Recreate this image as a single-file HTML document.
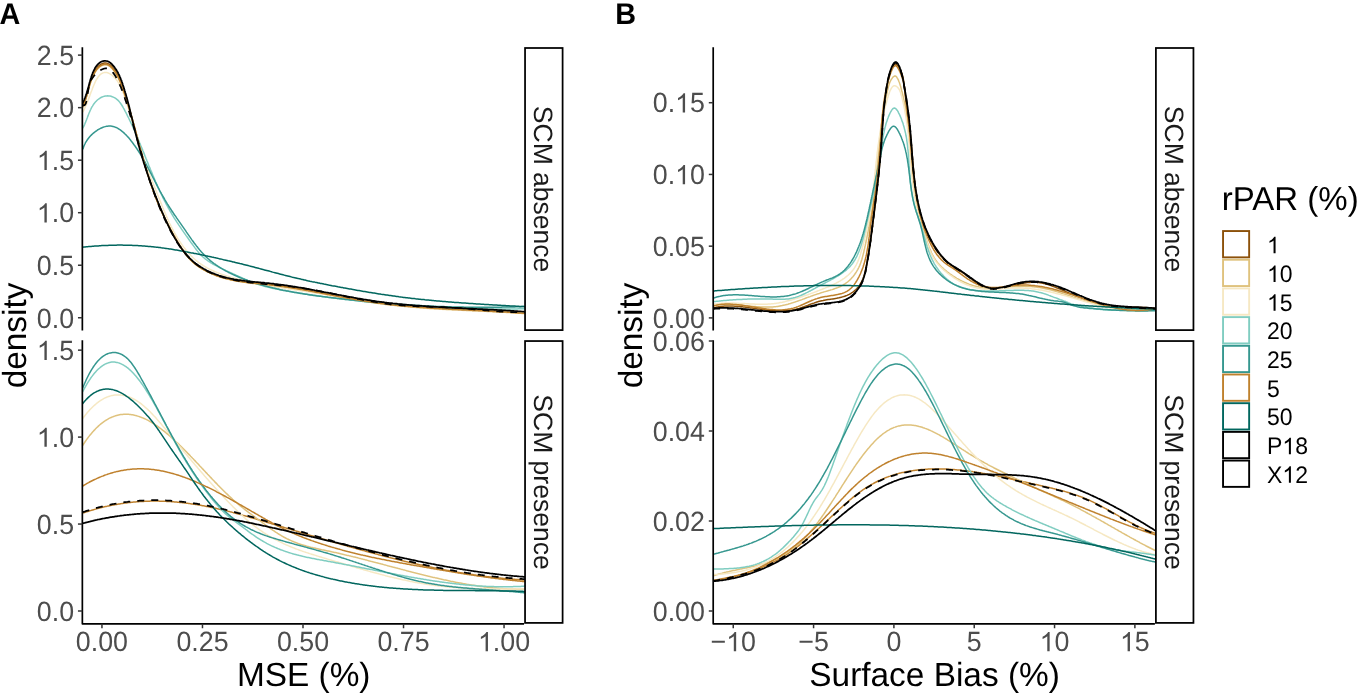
<!DOCTYPE html>
<html><head><meta charset="utf-8"><style>html,body{margin:0;padding:0;background:#fff;}svg{display:block;font-family:"Liberation Sans", sans-serif;will-change:transform;text-rendering:geometricPrecision;}</style></head><body>
<svg width="1358" height="693" viewBox="0 0 1358 693" font-family='"Liberation Sans", sans-serif'>
<rect width="1358" height="693" fill="#fff"/>
<clipPath id="ctA"><rect x="82.35" y="48.00" width="442.70" height="282.10"/></clipPath>
<clipPath id="cbA"><rect x="82.35" y="341.05" width="442.70" height="281.85"/></clipPath>
<g clip-path="url(#ctA)" fill="none" stroke-linejoin="round" stroke-linecap="butt">
<path d="M81.9,107.0 82.5,105.8 83.1,104.5 83.6,103.3 84.1,102.2 84.5,101.1 85.0,100.0 85.3,98.9 85.7,97.8 86.0,96.8 86.4,95.7 86.7,94.7 87.0,93.6 87.3,92.6 87.6,91.5 87.8,90.4 88.1,89.3 88.4,88.2 88.7,87.1 89.1,85.9 89.4,84.7 89.8,83.5 90.1,82.2 90.5,81.0 90.9,79.7 91.4,78.5 91.8,77.2 92.3,76.0 92.8,74.8 93.4,73.6 94.0,72.5 94.6,71.4 95.2,70.3 95.9,69.3 96.6,68.3 97.3,67.4 98.1,66.6 98.9,65.8 99.7,65.1 100.6,64.5 101.5,64.0 102.5,63.6 103.4,63.3 104.4,63.1 105.4,63.1 106.4,63.1 107.4,63.4 108.3,63.8 109.3,64.3 110.3,65.0 111.2,65.8 112.1,66.7 112.9,67.7 113.8,68.7 114.5,69.7 115.2,70.7 115.9,71.8 116.6,72.8 117.2,73.9 117.8,75.0 118.3,76.1 118.8,77.2 119.3,78.3 119.8,79.4 120.2,80.5 120.7,81.6 121.1,82.7 121.5,83.9 121.9,85.0 122.3,86.1 122.7,87.3 123.1,88.4 123.4,89.6 123.8,90.7 124.2,91.8 124.6,93.0 124.9,94.1 125.3,95.3 125.7,96.4 126.0,97.5 126.4,98.7 126.7,99.8 127.1,101.0 127.4,102.1 127.8,103.3 128.1,104.4 128.5,105.6 128.8,106.7 129.1,107.9 129.5,109.0 129.8,110.2 130.1,111.3 130.5,112.5 130.8,113.7 131.1,114.8 131.5,116.0 131.8,117.1 132.1,118.3 132.4,119.4 132.7,120.6 133.1,121.8 133.4,122.9 133.7,124.1 134.0,125.2 134.3,126.4 134.6,127.5 135.0,128.7 135.3,129.9 135.6,131.0 135.9,132.2 136.2,133.3 136.5,134.5 136.8,135.7 137.1,136.8 137.5,138.0 137.8,139.1 138.1,140.3 138.4,141.5 138.7,142.6 139.0,143.8 139.3,144.9 139.7,146.1 140.0,147.3 140.3,148.4 140.6,149.6 140.9,150.7 141.3,151.9 141.6,153.0 141.9,154.2 142.2,155.3 142.5,156.5 142.9,157.7 143.2,158.8 143.5,160.0 143.9,161.1 144.2,162.3 144.5,163.4 144.9,164.6 145.2,165.7 145.5,166.9 145.9,168.0 146.2,169.2 146.6,170.3 146.9,171.5 147.3,172.6 147.6,173.7 148.0,174.9 148.4,176.0 148.7,177.2 149.1,178.3 149.5,179.4 149.8,180.6 150.2,181.7 150.6,182.8 151.0,184.0 151.4,185.1 151.7,186.2 152.1,187.4 152.5,188.5 152.9,189.6 153.3,190.8 153.8,191.9 154.2,193.0 154.6,194.1 155.0,195.2 155.4,196.4 155.9,197.5 156.3,198.6 156.7,199.7 157.2,200.8 157.6,201.9 158.1,203.0 158.5,204.1 159.0,205.3 159.5,206.4 159.9,207.5 160.4,208.6 160.9,209.7 161.4,210.7 161.9,211.8 162.4,212.9 162.9,214.0 163.4,215.1 163.9,216.2 164.4,217.3 164.9,218.4 165.5,219.5 166.0,220.5 166.5,221.6 167.1,222.7 167.6,223.8 168.2,224.8 168.7,225.9 169.3,227.0 169.9,228.0 170.4,229.1 171.0,230.2 171.6,231.2 172.1,232.3 172.7,233.3 173.3,234.4 173.9,235.5 174.5,236.5 175.1,237.6 175.7,238.6 176.3,239.7 176.9,240.7 177.5,241.7 178.1,242.8 178.8,243.8 179.4,244.8 180.0,245.9 180.7,246.9 181.3,247.9 182.0,248.9 182.7,249.9 183.3,250.8 184.0,251.8 184.7,252.8 185.5,253.7 186.2,254.6 186.9,255.6 187.7,256.5 188.5,257.4 189.3,258.2 190.1,259.1 190.9,259.9 191.8,260.7 192.6,261.5 193.5,262.3 194.4,263.1 195.3,263.8 196.3,264.6 197.2,265.3 198.2,266.0 199.1,266.7 200.1,267.3 201.1,268.0 202.2,268.6 203.2,269.2 204.2,269.8 205.3,270.4 206.4,270.9 207.4,271.5 208.5,272.0 209.6,272.5 210.7,273.0 211.9,273.5 213.0,274.0 214.1,274.4 215.2,274.9 216.4,275.3 217.5,275.7 218.7,276.1 219.9,276.5 221.0,276.9 222.2,277.2 223.4,277.6 224.6,277.9 225.7,278.2 226.9,278.5 228.1,278.8 229.3,279.1 230.5,279.4 231.6,279.6 232.8,279.9 234.0,280.1 235.2,280.3 236.4,280.6 237.6,280.8 238.7,281.0 239.9,281.2 241.1,281.3 242.3,281.5 243.5,281.7 244.7,281.8 245.8,282.0 247.0,282.2 248.2,282.3 249.4,282.4 250.6,282.6 251.8,282.7 252.9,282.8 254.1,283.0 255.3,283.1 256.5,283.2 257.7,283.3 258.9,283.4 260.0,283.6 261.2,283.7 262.4,283.8 263.6,283.9 264.8,284.0 266.0,284.2 267.1,284.3 268.3,284.4 269.5,284.5 270.7,284.7 271.9,284.8 273.1,285.0 274.2,285.1 275.4,285.2 276.6,285.4 277.8,285.6 279.0,285.7 280.2,285.9 281.3,286.0 282.5,286.2 283.7,286.4 284.9,286.5 286.1,286.7 287.3,286.9 288.4,287.1 289.6,287.3 290.8,287.4 292.0,287.6 293.2,287.8 294.4,288.0 295.5,288.2 296.7,288.4 297.9,288.6 299.1,288.8 300.3,289.0 301.5,289.2 302.6,289.4 303.8,289.6 305.0,289.9 306.2,290.1 307.4,290.3 308.6,290.5 309.7,290.7 310.9,290.9 312.1,291.1 313.3,291.4 314.5,291.6 315.7,291.8 316.8,292.0 318.0,292.2 319.2,292.5 320.4,292.7 321.6,292.9 322.8,293.1 324.0,293.4 325.1,293.6 326.3,293.8 327.5,294.1 328.7,294.3 329.9,294.5 331.1,294.7 332.2,295.0 333.4,295.2 334.6,295.4 335.8,295.6 337.0,295.9 338.2,296.1 339.4,296.3 340.5,296.5 341.7,296.8 342.9,297.0 344.1,297.2 345.3,297.4 346.5,297.6 347.6,297.8 348.8,298.1 350.0,298.3 351.2,298.5 352.4,298.7 353.6,298.9 354.8,299.1 355.9,299.3 357.1,299.5 358.3,299.7 359.5,299.9 360.7,300.1 361.9,300.3 363.1,300.5 364.2,300.7 365.4,300.9 366.6,301.1 367.8,301.3 369.0,301.5 370.2,301.7 371.4,301.8 372.6,302.0 373.7,302.2 374.9,302.4 376.1,302.5 377.3,302.7 378.5,302.9 379.7,303.0 380.9,303.2 382.0,303.3 383.2,303.5 384.4,303.6 385.6,303.8 386.8,303.9 388.0,304.1 389.2,304.2 390.4,304.3 391.6,304.5 392.7,304.6 393.9,304.7 395.1,304.9 396.3,305.0 397.5,305.1 398.7,305.2 399.9,305.4 401.1,305.5 402.3,305.6 403.4,305.7 404.6,305.8 405.8,305.9 407.0,306.0 408.2,306.1 409.4,306.2 410.6,306.3 411.8,306.4 413.0,306.5 414.2,306.6 415.3,306.7 416.5,306.8 417.7,306.9 418.9,307.0 420.1,307.1 421.3,307.2 422.5,307.3 423.7,307.4 424.9,307.4 426.1,307.5 427.3,307.6 428.4,307.7 429.6,307.8 430.8,307.8 432.0,307.9 433.2,308.0 434.4,308.1 435.6,308.1 436.8,308.2 438.0,308.3 439.2,308.4 440.4,308.4 441.6,308.5 442.8,308.6 444.0,308.6 445.2,308.7 446.3,308.8 447.5,308.8 448.7,308.9 449.9,309.0 451.1,309.0 452.3,309.1 453.5,309.1 454.7,309.2 455.9,309.3 457.1,309.3 458.3,309.4 459.5,309.4 460.7,309.5 461.9,309.6 463.1,309.6 464.3,309.7 465.5,309.7 466.7,309.8 467.9,309.8 469.1,309.9 470.3,310.0 471.5,310.0 472.7,310.1 473.9,310.1 475.1,310.2 476.3,310.2 477.5,310.3 478.7,310.4 479.9,310.4 481.1,310.5 482.3,310.5 483.5,310.6 484.7,310.6 485.9,310.7 487.1,310.8 488.3,310.8 489.5,310.9 490.7,310.9 491.9,311.0 493.1,311.1 494.3,311.1 495.5,311.2 496.7,311.3 497.9,311.3 499.1,311.4 500.3,311.5 501.5,311.5 502.7,311.6 503.9,311.7 505.1,311.7 506.3,311.8 507.5,311.9 508.7,311.9 509.9,312.0 511.1,312.1 512.3,312.2 513.5,312.2 514.7,312.3 515.9,312.4 517.1,312.5 518.3,312.6 519.5,312.7 520.8,312.7 522.0,312.8 523.2,312.9 524.4,313.0 525.6,313.1" stroke="#8C510A" stroke-width="1.5"/>
<path d="M81.9,108.8 82.5,107.6 83.1,106.3 83.6,105.2 84.1,104.0 84.5,102.9 84.9,101.8 85.3,100.7 85.7,99.6 86.0,98.6 86.3,97.5 86.6,96.5 86.9,95.4 87.2,94.4 87.5,93.3 87.8,92.2 88.1,91.1 88.4,90.0 88.7,88.8 89.0,87.7 89.4,86.5 89.7,85.3 90.1,84.0 90.5,82.8 90.9,81.5 91.4,80.3 91.9,79.0 92.3,77.8 92.9,76.6 93.4,75.4 94.0,74.3 94.6,73.2 95.2,72.1 95.9,71.1 96.6,70.1 97.3,69.2 98.1,68.4 98.9,67.6 99.7,66.9 100.6,66.3 101.5,65.8 102.5,65.4 103.4,65.1 104.4,64.9 105.4,64.8 106.3,64.9 107.3,65.1 108.3,65.5 109.3,66.0 110.2,66.7 111.1,67.6 112.0,68.5 112.9,69.5 113.7,70.5 114.4,71.5 115.2,72.5 115.9,73.6 116.5,74.7 117.1,75.7 117.7,76.8 118.2,77.9 118.8,79.0 119.3,80.1 119.7,81.2 120.2,82.3 120.7,83.4 121.1,84.6 121.5,85.7 121.9,86.8 122.3,87.9 122.7,89.1 123.1,90.2 123.5,91.3 123.9,92.5 124.3,93.6 124.6,94.7 125.0,95.9 125.4,97.0 125.8,98.2 126.1,99.3 126.5,100.4 126.9,101.6 127.2,102.7 127.6,103.9 127.9,105.0 128.3,106.2 128.6,107.3 129.0,108.5 129.3,109.6 129.7,110.8 130.0,111.9 130.3,113.1 130.7,114.2 131.0,115.4 131.4,116.5 131.7,117.7 132.0,118.8 132.3,120.0 132.7,121.1 133.0,122.3 133.3,123.4 133.6,124.6 134.0,125.8 134.3,126.9 134.6,128.1 134.9,129.2 135.2,130.4 135.6,131.5 135.9,132.7 136.2,133.9 136.5,135.0 136.8,136.2 137.2,137.3 137.5,138.5 137.8,139.6 138.1,140.8 138.4,142.0 138.7,143.1 139.1,144.3 139.4,145.4 139.7,146.6 140.0,147.8 140.3,148.9 140.7,150.1 141.0,151.2 141.3,152.4 141.6,153.5 141.9,154.7 142.3,155.8 142.6,157.0 142.9,158.1 143.3,159.3 143.6,160.5 143.9,161.6 144.3,162.8 144.6,163.9 144.9,165.1 145.3,166.2 145.6,167.4 146.0,168.5 146.3,169.6 146.6,170.8 147.0,171.9 147.4,173.1 147.7,174.2 148.1,175.4 148.4,176.5 148.8,177.7 149.2,178.8 149.5,179.9 149.9,181.1 150.3,182.2 150.7,183.3 151.0,184.5 151.4,185.6 151.8,186.7 152.2,187.9 152.6,189.0 153.0,190.1 153.4,191.2 153.8,192.4 154.2,193.5 154.7,194.6 155.1,195.7 155.5,196.8 155.9,198.0 156.4,199.1 156.8,200.2 157.2,201.3 157.7,202.4 158.1,203.5 158.6,204.6 159.1,205.7 159.5,206.8 160.0,207.9 160.5,209.0 161.0,210.1 161.4,211.2 161.9,212.3 162.4,213.4 162.9,214.5 163.4,215.6 164.0,216.7 164.5,217.8 165.0,218.9 165.5,219.9 166.1,221.0 166.6,222.1 167.1,223.2 167.7,224.2 168.2,225.3 168.8,226.4 169.3,227.5 169.9,228.5 170.5,229.6 171.0,230.6 171.6,231.7 172.2,232.8 172.8,233.8 173.4,234.9 174.0,235.9 174.5,237.0 175.1,238.0 175.7,239.1 176.3,240.1 177.0,241.2 177.6,242.2 178.2,243.2 178.8,244.3 179.4,245.3 180.1,246.3 180.7,247.3 181.4,248.3 182.0,249.3 182.7,250.3 183.4,251.3 184.1,252.3 184.8,253.2 185.5,254.2 186.3,255.1 187.0,256.0 187.8,256.9 188.6,257.8 189.4,258.7 190.2,259.5 191.0,260.4 191.9,261.2 192.7,262.0 193.6,262.8 194.5,263.5 195.4,264.3 196.4,265.0 197.3,265.7 198.3,266.4 199.2,267.1 200.2,267.7 201.3,268.4 202.3,269.0 203.3,269.6 204.3,270.2 205.4,270.8 206.5,271.3 207.6,271.9 208.6,272.4 209.7,272.9 210.8,273.4 212.0,273.9 213.1,274.4 214.2,274.8 215.4,275.3 216.5,275.7 217.6,276.1 218.8,276.5 220.0,276.9 221.1,277.3 222.3,277.7 223.5,278.0 224.6,278.3 225.8,278.7 227.0,279.0 228.2,279.3 229.4,279.5 230.5,279.8 231.7,280.1 232.9,280.3 234.1,280.6 235.3,280.8 236.5,281.0 237.6,281.2 238.8,281.4 240.0,281.6 241.2,281.8 242.4,282.0 243.6,282.2 244.7,282.3 245.9,282.5 247.1,282.7 248.3,282.8 249.5,283.0 250.6,283.1 251.8,283.2 253.0,283.4 254.2,283.5 255.4,283.6 256.6,283.8 257.7,283.9 258.9,284.0 260.1,284.1 261.3,284.2 262.5,284.4 263.7,284.5 264.8,284.6 266.0,284.7 267.2,284.9 268.4,285.0 269.6,285.1 270.8,285.3 271.9,285.4 273.1,285.5 274.3,285.7 275.5,285.8 276.7,286.0 277.9,286.2 279.0,286.3 280.2,286.5 281.4,286.6 282.6,286.8 283.8,287.0 284.9,287.2 286.1,287.3 287.3,287.5 288.5,287.7 289.7,287.9 290.9,288.1 292.0,288.3 293.2,288.5 294.4,288.6 295.6,288.8 296.8,289.0 298.0,289.2 299.1,289.4 300.3,289.7 301.5,289.9 302.7,290.1 303.9,290.3 305.1,290.5 306.2,290.7 307.4,290.9 308.6,291.1 309.8,291.3 311.0,291.6 312.2,291.8 313.3,292.0 314.5,292.2 315.7,292.4 316.9,292.7 318.1,292.9 319.3,293.1 320.4,293.3 321.6,293.6 322.8,293.8 324.0,294.0 325.2,294.2 326.4,294.5 327.5,294.7 328.7,294.9 329.9,295.1 331.1,295.4 332.3,295.6 333.5,295.8 334.7,296.0 335.8,296.3 337.0,296.5 338.2,296.7 339.4,296.9 340.6,297.1 341.8,297.4 342.9,297.6 344.1,297.8 345.3,298.0 346.5,298.2 347.7,298.5 348.9,298.7 350.1,298.9 351.2,299.1 352.4,299.3 353.6,299.5 354.8,299.7 356.0,299.9 357.2,300.1 358.4,300.3 359.5,300.5 360.7,300.7 361.9,300.9 363.1,301.1 364.3,301.3 365.5,301.5 366.7,301.7 367.8,301.9 369.0,302.1 370.2,302.3 371.4,302.4 372.6,302.6 373.8,302.8 375.0,303.0 376.1,303.1 377.3,303.3 378.5,303.4 379.7,303.6 380.9,303.8 382.1,303.9 383.3,304.1 384.5,304.2 385.6,304.4 386.8,304.5 388.0,304.6 389.2,304.8 390.4,304.9 391.6,305.1 392.8,305.2 394.0,305.3 395.1,305.5 396.3,305.6 397.5,305.7 398.7,305.8 399.9,305.9 401.1,306.1 402.3,306.2 403.5,306.3 404.7,306.4 405.8,306.5 407.0,306.6 408.2,306.7 409.4,306.8 410.6,306.9 411.8,307.0 413.0,307.1 414.2,307.2 415.4,307.3 416.6,307.4 417.7,307.5 418.9,307.6 420.1,307.7 421.3,307.8 422.5,307.9 423.7,308.0 424.9,308.0 426.1,308.1 427.3,308.2 428.5,308.3 429.7,308.4 430.9,308.4 432.0,308.5 433.2,308.6 434.4,308.7 435.6,308.7 436.8,308.8 438.0,308.9 439.2,309.0 440.4,309.0 441.6,309.1 442.8,309.2 444.0,309.2 445.2,309.3 446.4,309.4 447.6,309.4 448.8,309.5 449.9,309.6 451.1,309.6 452.3,309.7 453.5,309.7 454.7,309.8 455.9,309.9 457.1,309.9 458.3,310.0 459.5,310.0 460.7,310.1 461.9,310.2 463.1,310.2 464.3,310.3 465.5,310.3 466.7,310.4 467.9,310.4 469.1,310.5 470.3,310.6 471.5,310.6 472.7,310.7 473.9,310.7 475.1,310.8 476.3,310.9 477.5,310.9 478.7,311.0 479.9,311.0 481.1,311.1 482.3,311.1 483.5,311.2 484.7,311.3 485.9,311.3 487.1,311.4 488.3,311.4 489.5,311.5 490.7,311.6 491.9,311.6 493.1,311.7 494.3,311.7 495.5,311.8 496.7,311.9 497.9,311.9 499.1,312.0 500.3,312.1 501.5,312.1 502.7,312.2 503.9,312.3 505.1,312.3 506.3,312.4 507.5,312.5 508.7,312.6 509.9,312.6 511.1,312.7 512.3,312.8 513.5,312.9 514.7,312.9 515.9,313.0 517.1,313.1 518.3,313.2 519.5,313.3 520.8,313.3 522.0,313.4 523.2,313.5 524.4,313.6 525.6,313.7" stroke="#DFC27D" stroke-width="1.5"/>
<path d="M82.8,112.2 83.4,111.0 84.0,109.9 84.5,108.7 85.0,107.6 85.5,106.5 86.0,105.5 86.5,104.4 86.9,103.3 87.3,102.3 87.7,101.2 88.1,100.2 88.5,99.2 88.9,98.1 89.3,97.1 89.7,96.0 90.0,95.0 90.4,93.9 90.8,92.8 91.2,91.7 91.7,90.6 92.1,89.5 92.5,88.3 93.0,87.1 93.5,85.9 94.0,84.7 94.6,83.4 95.1,82.2 95.7,80.9 96.4,79.7 97.1,78.6 97.8,77.5 98.5,76.4 99.4,75.5 100.2,74.6 101.1,73.9 102.1,73.3 103.1,72.9 104.1,72.6 105.1,72.4 106.1,72.4 107.2,72.6 108.2,73.0 109.2,73.4 110.1,74.0 111.1,74.6 112.0,75.2 112.8,75.9 113.6,76.6 114.4,77.4 115.2,78.2 115.9,79.1 116.6,80.0 117.3,80.9 117.9,81.9 118.6,82.8 119.2,83.9 119.7,84.9 120.3,86.0 120.8,87.1 121.3,88.2 121.8,89.3 122.3,90.5 122.8,91.6 123.2,92.8 123.7,94.0 124.1,95.2 124.5,96.4 124.9,97.6 125.3,98.8 125.7,100.0 126.1,101.2 126.5,102.4 126.9,103.6 127.3,104.8 127.6,106.0 128.0,107.2 128.4,108.4 128.7,109.5 129.1,110.7 129.5,111.9 129.8,113.1 130.2,114.2 130.5,115.4 130.9,116.6 131.2,117.7 131.5,118.9 131.9,120.0 132.2,121.2 132.6,122.4 132.9,123.5 133.2,124.7 133.6,125.8 133.9,126.9 134.2,128.1 134.6,129.2 134.9,130.4 135.2,131.5 135.6,132.6 135.9,133.8 136.2,134.9 136.6,136.0 136.9,137.2 137.2,138.3 137.6,139.4 137.9,140.6 138.3,141.7 138.6,142.8 138.9,143.9 139.3,145.1 139.6,146.2 140.0,147.3 140.3,148.4 140.7,149.6 141.1,150.7 141.4,151.8 141.8,152.9 142.2,154.0 142.5,155.2 142.9,156.3 143.3,157.4 143.7,158.5 144.1,159.7 144.4,160.8 144.8,161.9 145.2,163.0 145.7,164.2 146.1,165.3 146.5,166.4 146.9,167.5 147.3,168.7 147.7,169.8 148.2,170.9 148.6,172.0 149.0,173.2 149.5,174.3 149.9,175.4 150.3,176.6 150.8,177.7 151.2,178.8 151.7,179.9 152.1,181.1 152.6,182.2 153.0,183.3 153.5,184.4 153.9,185.6 154.4,186.7 154.8,187.8 155.3,188.9 155.7,190.0 156.2,191.2 156.6,192.3 157.1,193.4 157.5,194.5 158.0,195.6 158.4,196.7 158.9,197.9 159.4,199.0 159.8,200.1 160.3,201.2 160.7,202.3 161.1,203.4 161.6,204.5 162.0,205.6 162.5,206.7 162.9,207.8 163.4,208.9 163.8,210.0 164.3,211.1 164.8,212.2 165.2,213.3 165.7,214.4 166.1,215.5 166.6,216.6 167.1,217.7 167.6,218.8 168.1,219.8 168.5,220.9 169.0,222.0 169.5,223.1 170.0,224.1 170.6,225.2 171.1,226.3 171.6,227.3 172.2,228.4 172.7,229.5 173.3,230.5 173.8,231.6 174.4,232.6 175.0,233.7 175.6,234.7 176.2,235.8 176.8,236.8 177.4,237.8 178.0,238.9 178.7,239.9 179.3,240.9 180.0,241.9 180.7,242.9 181.4,243.9 182.1,244.9 182.8,245.9 183.5,246.9 184.2,247.8 185.0,248.8 185.7,249.7 186.5,250.7 187.3,251.6 188.1,252.5 188.9,253.4 189.7,254.3 190.5,255.1 191.3,256.0 192.2,256.8 193.0,257.7 193.9,258.5 194.8,259.3 195.7,260.1 196.6,260.8 197.5,261.6 198.5,262.3 199.4,263.0 200.4,263.7 201.4,264.4 202.4,265.0 203.4,265.7 204.4,266.3 205.4,266.9 206.4,267.5 207.5,268.1 208.5,268.6 209.6,269.2 210.7,269.7 211.8,270.2 212.9,270.7 214.0,271.2 215.1,271.7 216.2,272.1 217.3,272.6 218.4,273.0 219.6,273.4 220.7,273.9 221.8,274.3 223.0,274.7 224.1,275.1 225.3,275.4 226.4,275.8 227.6,276.2 228.7,276.5 229.9,276.9 231.0,277.2 232.2,277.6 233.4,277.9 234.5,278.2 235.7,278.6 236.8,278.9 238.0,279.2 239.2,279.5 240.3,279.8 241.5,280.1 242.7,280.4 243.8,280.7 245.0,280.9 246.1,281.2 247.3,281.5 248.5,281.7 249.6,282.0 250.8,282.3 252.0,282.5 253.2,282.8 254.3,283.0 255.5,283.3 256.7,283.5 257.8,283.7 259.0,284.0 260.2,284.2 261.4,284.4 262.5,284.6 263.7,284.8 264.9,285.0 266.1,285.3 267.2,285.5 268.4,285.7 269.6,285.9 270.8,286.1 271.9,286.3 273.1,286.5 274.3,286.7 275.5,286.9 276.7,287.0 277.8,287.2 279.0,287.4 280.2,287.6 281.4,287.8 282.6,288.0 283.7,288.1 284.9,288.3 286.1,288.5 287.3,288.7 288.5,288.9 289.6,289.0 290.8,289.2 292.0,289.4 293.2,289.5 294.4,289.7 295.6,289.9 296.7,290.1 297.9,290.2 299.1,290.4 300.3,290.6 301.5,290.8 302.7,290.9 303.8,291.1 305.0,291.3 306.2,291.5 307.4,291.6 308.6,291.8 309.8,292.0 310.9,292.2 312.1,292.4 313.3,292.6 314.5,292.7 315.7,292.9 316.9,293.1 318.0,293.3 319.2,293.5 320.4,293.7 321.6,293.9 322.8,294.1 324.0,294.3 325.2,294.5 326.3,294.6 327.5,294.8 328.7,295.0 329.9,295.2 331.1,295.4 332.3,295.6 333.5,295.8 334.6,296.0 335.8,296.2 337.0,296.4 338.2,296.6 339.4,296.8 340.6,297.0 341.7,297.2 342.9,297.4 344.1,297.6 345.3,297.8 346.5,298.0 347.7,298.2 348.9,298.4 350.0,298.6 351.2,298.8 352.4,299.0 353.6,299.2 354.8,299.4 356.0,299.6 357.2,299.8 358.4,300.0 359.5,300.2 360.7,300.4 361.9,300.6 363.1,300.7 364.3,300.9 365.5,301.1 366.7,301.3 367.8,301.5 369.0,301.7 370.2,301.9 371.4,302.1 372.6,302.2 373.8,302.4 375.0,302.6 376.2,302.8 377.3,302.9 378.5,303.1 379.7,303.3 380.9,303.5 382.1,303.6 383.3,303.8 384.5,304.0 385.7,304.1 386.9,304.3 388.0,304.4 389.2,304.6 390.4,304.7 391.6,304.9 392.8,305.1 394.0,305.2 395.2,305.3 396.4,305.5 397.6,305.6 398.7,305.8 399.9,305.9 401.1,306.0 402.3,306.2 403.5,306.3 404.7,306.4 405.9,306.5 407.1,306.7 408.3,306.8 409.5,306.9 410.6,307.0 411.8,307.1 413.0,307.2 414.2,307.3 415.4,307.4 416.6,307.6 417.8,307.7 419.0,307.8 420.2,307.9 421.4,308.0 422.6,308.0 423.7,308.1 424.9,308.2 426.1,308.3 427.3,308.4 428.5,308.5 429.7,308.6 430.9,308.7 432.1,308.7 433.3,308.8 434.5,308.9 435.7,309.0 436.9,309.1 438.1,309.1 439.2,309.2 440.4,309.3 441.6,309.3 442.8,309.4 444.0,309.5 445.2,309.5 446.4,309.6 447.6,309.7 448.8,309.7 450.0,309.8 451.2,309.8 452.4,309.9 453.6,310.0 454.8,310.0 456.0,310.1 457.2,310.1 458.4,310.2 459.6,310.2 460.7,310.3 461.9,310.3 463.1,310.4 464.3,310.4 465.5,310.5 466.7,310.5 467.9,310.6 469.1,310.6 470.3,310.7 471.5,310.7 472.7,310.8 473.9,310.8 475.1,310.8 476.3,310.9 477.5,310.9 478.7,311.0 479.9,311.0 481.1,311.0 482.3,311.1 483.5,311.1 484.7,311.2 485.9,311.2 487.1,311.2 488.3,311.3 489.5,311.3 490.7,311.4 491.9,311.4 493.1,311.4 494.3,311.5 495.5,311.5 496.7,311.6 497.9,311.6 499.1,311.6 500.3,311.7 501.5,311.7 502.7,311.8 503.9,311.8 505.1,311.8 506.3,311.9 507.5,311.9 508.7,312.0 509.9,312.0 511.1,312.0 512.3,312.1 513.5,312.1 514.7,312.2 515.9,312.2 517.1,312.3 518.3,312.3 519.5,312.3 520.7,312.4 521.9,312.4 523.1,312.5 524.3,312.5 525.5,312.6" stroke="#F6E8C3" stroke-width="1.5"/>
<path d="M82.0,129.2 82.5,128.4 83.1,127.5 83.6,126.6 84.1,125.6 84.6,124.6 85.0,123.5 85.5,122.4 85.9,121.3 86.4,120.1 86.8,119.0 87.3,117.8 87.7,116.6 88.2,115.4 88.6,114.2 89.1,113.0 89.6,111.9 90.1,110.7 90.7,109.5 91.2,108.4 91.8,107.2 92.5,106.1 93.1,105.1 93.8,104.0 94.6,103.0 95.4,102.1 96.2,101.2 97.1,100.3 98.0,99.5 99.0,98.8 100.0,98.1 101.0,97.5 102.1,97.0 103.2,96.6 104.3,96.2 105.4,96.0 106.5,95.9 107.7,95.8 108.8,95.9 110.0,96.1 111.1,96.3 112.2,96.7 113.3,97.1 114.3,97.6 115.3,98.2 116.3,98.9 117.2,99.6 118.1,100.4 118.9,101.2 119.6,102.1 120.3,103.0 121.0,104.0 121.7,105.0 122.3,106.0 122.9,107.0 123.5,108.1 124.1,109.1 124.6,110.2 125.2,111.3 125.8,112.3 126.3,113.4 126.9,114.5 127.4,115.6 127.9,116.6 128.5,117.7 129.0,118.8 129.5,119.9 130.0,121.0 130.6,122.1 131.1,123.1 131.6,124.2 132.1,125.3 132.6,126.4 133.1,127.5 133.6,128.6 134.1,129.7 134.5,130.8 135.0,131.9 135.5,133.0 136.0,134.1 136.5,135.2 136.9,136.3 137.4,137.4 137.9,138.5 138.3,139.6 138.8,140.7 139.3,141.8 139.7,143.0 140.2,144.1 140.6,145.2 141.1,146.3 141.5,147.4 142.0,148.5 142.5,149.6 142.9,150.7 143.4,151.8 143.8,152.9 144.3,154.1 144.7,155.2 145.1,156.3 145.6,157.4 146.0,158.5 146.5,159.6 146.9,160.7 147.4,161.8 147.8,162.9 148.3,164.0 148.7,165.2 149.2,166.3 149.6,167.4 150.1,168.5 150.5,169.6 151.0,170.7 151.5,171.8 151.9,172.9 152.4,174.0 152.8,175.1 153.3,176.2 153.8,177.3 154.2,178.4 154.7,179.5 155.2,180.6 155.6,181.7 156.1,182.8 156.6,183.9 157.1,185.0 157.6,186.1 158.1,187.2 158.5,188.3 159.0,189.3 159.5,190.4 160.0,191.5 160.5,192.6 161.1,193.7 161.6,194.7 162.1,195.8 162.6,196.9 163.1,198.0 163.7,199.0 164.2,200.1 164.7,201.2 165.3,202.2 165.8,203.3 166.4,204.3 167.0,205.4 167.5,206.4 168.1,207.5 168.7,208.5 169.3,209.6 169.8,210.6 170.4,211.7 171.0,212.7 171.6,213.7 172.3,214.8 172.9,215.8 173.5,216.8 174.1,217.9 174.8,218.9 175.4,219.9 176.1,220.9 176.7,221.9 177.4,222.9 178.1,223.9 178.7,224.9 179.4,225.9 180.1,226.9 180.8,227.9 181.4,228.9 182.1,229.9 182.8,230.9 183.5,231.9 184.2,232.9 184.9,233.9 185.6,234.9 186.3,235.9 187.0,236.8 187.7,237.8 188.4,238.8 189.1,239.8 189.8,240.8 190.5,241.7 191.2,242.7 192.0,243.7 192.7,244.7 193.4,245.6 194.1,246.6 194.8,247.6 195.5,248.5 196.2,249.5 196.9,250.4 197.7,251.4 198.4,252.3 199.2,253.2 200.0,254.0 200.8,254.9 201.6,255.7 202.5,256.5 203.3,257.3 204.2,258.0 205.1,258.8 206.0,259.5 207.0,260.2 207.9,260.8 208.9,261.5 209.9,262.1 210.9,262.8 211.9,263.4 212.9,264.0 213.9,264.6 214.9,265.1 216.0,265.7 217.0,266.2 218.1,266.8 219.2,267.3 220.2,267.8 221.3,268.4 222.4,268.9 223.5,269.4 224.6,269.9 225.6,270.4 226.7,270.9 227.8,271.4 228.9,271.9 230.0,272.4 231.1,272.9 232.2,273.4 233.3,273.9 234.4,274.4 235.5,274.9 236.6,275.4 237.8,275.9 238.9,276.5 240.0,277.0 241.1,277.5 242.2,278.0 243.3,278.5 244.5,279.0 245.6,279.5 246.7,280.0 247.8,280.5 249.0,281.0 250.1,281.5 251.2,281.9 252.4,282.4 253.5,282.8 254.7,283.2 255.8,283.6 256.9,284.0 258.1,284.4 259.2,284.7 260.4,285.1 261.5,285.4 262.7,285.8 263.8,286.1 265.0,286.4 266.1,286.7 267.3,287.0 268.4,287.3 269.6,287.6 270.7,287.8 271.9,288.1 273.1,288.4 274.2,288.6 275.4,288.9 276.5,289.1 277.7,289.3 278.9,289.5 280.0,289.8 281.2,290.0 282.4,290.2 283.5,290.4 284.7,290.6 285.9,290.8 287.0,291.0 288.2,291.2 289.4,291.4 290.6,291.6 291.7,291.8 292.9,292.0 294.1,292.2 295.2,292.4 296.4,292.5 297.6,292.7 298.8,292.9 299.9,293.1 301.1,293.3 302.3,293.5 303.5,293.7 304.6,293.8 305.8,294.0 307.0,294.2 308.2,294.4 309.3,294.5 310.5,294.7 311.7,294.9 312.9,295.1 314.1,295.2 315.2,295.4 316.4,295.6 317.6,295.8 318.8,295.9 320.0,296.1 321.1,296.3 322.3,296.4 323.5,296.6 324.7,296.7 325.9,296.9 327.1,297.1 328.2,297.2 329.4,297.4 330.6,297.5 331.8,297.7 333.0,297.9 334.2,298.0 335.4,298.2 336.5,298.3 337.7,298.5 338.9,298.6 340.1,298.8 341.3,298.9 342.5,299.1 343.7,299.2 344.8,299.4 346.0,299.5 347.2,299.6 348.4,299.8 349.6,299.9 350.8,300.1 352.0,300.2 353.2,300.3 354.4,300.5 355.6,300.6 356.7,300.7 357.9,300.9 359.1,301.0 360.3,301.1 361.5,301.3 362.7,301.4 363.9,301.5 365.1,301.7 366.3,301.8 367.5,301.9 368.7,302.0 369.9,302.2 371.1,302.3 372.3,302.4 373.4,302.5 374.6,302.6 375.8,302.8 377.0,302.9 378.2,303.0 379.4,303.1 380.6,303.2 381.8,303.3 383.0,303.4 384.2,303.5 385.4,303.6 386.6,303.8 387.8,303.9 389.0,304.0 390.2,304.1 391.4,304.2 392.6,304.3 393.8,304.4 395.0,304.5 396.2,304.6 397.4,304.7 398.6,304.8 399.8,304.9 401.0,305.0 402.2,305.1 403.4,305.1 404.6,305.2 405.8,305.3 407.0,305.4 408.2,305.5 409.4,305.6 410.5,305.7 411.7,305.8 412.9,305.8 414.1,305.9 415.3,306.0 416.5,306.1 417.7,306.2 418.9,306.3 420.1,306.3 421.3,306.4 422.5,306.5 423.7,306.6 424.9,306.6 426.1,306.7 427.3,306.8 428.5,306.8 429.7,306.9 430.9,307.0 432.1,307.0 433.3,307.1 434.5,307.2 435.7,307.2 436.9,307.3 438.1,307.4 439.3,307.4 440.5,307.5 441.7,307.5 442.9,307.6 444.1,307.6 445.3,307.7 446.5,307.7 447.7,307.8 448.9,307.8 450.1,307.9 451.3,307.9 452.5,308.0 453.7,308.0 454.9,308.1 456.1,308.1 457.3,308.2 458.5,308.2 459.7,308.3 460.9,308.3 462.1,308.3 463.3,308.4 464.5,308.4 465.7,308.4 466.9,308.5 468.1,308.5 469.3,308.5 470.5,308.6 471.7,308.6 472.9,308.6 474.1,308.7 475.3,308.7 476.5,308.7 477.7,308.7 478.9,308.8 480.1,308.8 481.3,308.8 482.5,308.8 483.7,308.8 484.9,308.8 486.1,308.9 487.3,308.9 488.5,308.9 489.6,308.9 490.8,308.9 492.0,308.9 493.2,308.9 494.4,308.9 495.6,308.9 496.8,309.0 498.0,309.0 499.2,309.0 500.4,309.0 501.6,309.0 502.8,309.0 504.0,309.0 505.2,309.0 506.4,309.0 507.6,308.9 508.7,308.9 509.9,308.9 511.1,308.9 512.3,308.9 513.5,308.9 514.7,308.9 515.9,308.9 517.1,308.9 518.3,308.8 519.5,308.8 520.7,308.8 521.8,308.8 523.0,308.8 524.2,308.8 525.4,308.7" stroke="#80CDC1" stroke-width="1.5"/>
<path d="M82.9,149.3 83.2,148.2 83.5,147.2 83.9,146.1 84.4,145.0 84.9,144.0 85.4,142.9 86.0,141.9 86.7,140.8 87.4,139.8 88.1,138.8 88.9,137.8 89.7,136.8 90.6,135.8 91.5,134.9 92.4,134.0 93.4,133.1 94.4,132.3 95.4,131.5 96.5,130.8 97.5,130.0 98.6,129.4 99.7,128.8 100.8,128.2 102.0,127.7 103.1,127.3 104.2,126.9 105.3,126.6 106.5,126.3 107.6,126.2 108.7,126.1 109.8,126.0 110.9,126.1 111.9,126.2 113.0,126.4 114.0,126.7 115.1,127.1 116.1,127.5 117.1,127.9 118.0,128.5 119.0,129.1 119.9,129.7 120.9,130.4 121.8,131.1 122.7,131.8 123.6,132.6 124.5,133.4 125.3,134.3 126.2,135.1 127.0,136.0 127.9,136.9 128.7,137.8 129.5,138.8 130.3,139.7 131.0,140.7 131.8,141.7 132.6,142.7 133.3,143.7 134.0,144.7 134.8,145.7 135.5,146.7 136.2,147.7 136.9,148.7 137.5,149.8 138.2,150.8 138.9,151.8 139.5,152.9 140.2,153.9 140.8,154.9 141.4,156.0 142.0,157.0 142.6,158.1 143.2,159.1 143.8,160.1 144.4,161.2 145.0,162.2 145.6,163.3 146.2,164.4 146.7,165.4 147.3,166.5 147.9,167.5 148.4,168.6 149.0,169.6 149.5,170.7 150.1,171.8 150.6,172.8 151.2,173.9 151.7,174.9 152.2,176.0 152.8,177.1 153.3,178.1 153.9,179.2 154.4,180.2 154.9,181.3 155.5,182.3 156.0,183.4 156.5,184.5 157.1,185.5 157.6,186.6 158.2,187.6 158.7,188.7 159.3,189.7 159.8,190.8 160.4,191.8 161.0,192.8 161.5,193.9 162.1,194.9 162.7,196.0 163.3,197.0 163.9,198.0 164.5,199.0 165.1,200.1 165.7,201.1 166.3,202.1 166.9,203.1 167.5,204.1 168.2,205.1 168.8,206.2 169.5,207.2 170.1,208.2 170.8,209.2 171.4,210.2 172.1,211.2 172.8,212.2 173.4,213.2 174.1,214.2 174.8,215.2 175.5,216.1 176.2,217.1 176.8,218.1 177.5,219.1 178.2,220.1 178.9,221.1 179.6,222.1 180.3,223.1 181.0,224.1 181.7,225.1 182.4,226.1 183.1,227.1 183.8,228.1 184.5,229.1 185.2,230.1 185.9,231.1 186.5,232.1 187.2,233.1 187.9,234.1 188.6,235.1 189.3,236.1 190.0,237.1 190.7,238.1 191.4,239.1 192.1,240.1 192.8,241.0 193.5,242.0 194.2,243.0 195.0,244.0 195.7,244.9 196.4,245.9 197.2,246.8 197.9,247.8 198.7,248.7 199.4,249.6 200.2,250.6 201.0,251.5 201.8,252.4 202.6,253.2 203.4,254.1 204.2,255.0 205.0,255.8 205.9,256.6 206.7,257.4 207.6,258.2 208.5,259.0 209.4,259.8 210.3,260.6 211.2,261.3 212.1,262.0 213.1,262.8 214.0,263.5 215.0,264.2 215.9,264.9 216.9,265.5 217.9,266.2 218.9,266.8 219.9,267.5 220.9,268.1 221.9,268.7 223.0,269.3 224.0,269.9 225.1,270.5 226.1,271.1 227.2,271.6 228.2,272.2 229.3,272.7 230.4,273.3 231.5,273.8 232.6,274.3 233.6,274.8 234.7,275.3 235.8,275.8 237.0,276.3 238.1,276.8 239.2,277.2 240.3,277.7 241.4,278.1 242.6,278.6 243.7,279.0 244.8,279.4 246.0,279.8 247.1,280.2 248.2,280.6 249.4,281.0 250.5,281.4 251.7,281.8 252.8,282.2 254.0,282.6 255.1,282.9 256.3,283.3 257.4,283.7 258.6,284.0 259.7,284.3 260.9,284.7 262.0,285.0 263.2,285.3 264.3,285.7 265.5,286.0 266.7,286.3 267.8,286.6 269.0,286.9 270.1,287.2 271.3,287.5 272.5,287.8 273.6,288.1 274.8,288.3 276.0,288.6 277.1,288.9 278.3,289.1 279.5,289.4 280.6,289.7 281.8,289.9 283.0,290.2 284.2,290.4 285.3,290.6 286.5,290.9 287.7,291.1 288.9,291.3 290.0,291.6 291.2,291.8 292.4,292.0 293.6,292.2 294.7,292.4 295.9,292.6 297.1,292.8 298.3,293.0 299.5,293.2 300.6,293.4 301.8,293.6 303.0,293.8 304.2,294.0 305.4,294.2 306.6,294.3 307.7,294.5 308.9,294.7 310.1,294.9 311.3,295.0 312.5,295.2 313.7,295.4 314.9,295.5 316.1,295.7 317.2,295.9 318.4,296.0 319.6,296.2 320.8,296.3 322.0,296.5 323.2,296.7 324.4,296.8 325.6,297.0 326.8,297.1 327.9,297.3 329.1,297.4 330.3,297.5 331.5,297.7 332.7,297.8 333.9,298.0 335.1,298.1 336.3,298.3 337.5,298.4 338.7,298.5 339.9,298.7 341.1,298.8 342.2,299.0 343.4,299.1 344.6,299.2 345.8,299.4 347.0,299.5 348.2,299.6 349.4,299.7 350.6,299.9 351.8,300.0 353.0,300.1 354.2,300.3 355.4,300.4 356.6,300.5 357.7,300.6 358.9,300.8 360.1,300.9 361.3,301.0 362.5,301.1 363.7,301.2 364.9,301.4 366.1,301.5 367.3,301.6 368.5,301.7 369.7,301.8 370.9,301.9 372.1,302.0 373.3,302.1 374.5,302.3 375.7,302.4 376.9,302.5 378.1,302.6 379.2,302.7 380.4,302.8 381.6,302.9 382.8,303.0 384.0,303.1 385.2,303.2 386.4,303.3 387.6,303.4 388.8,303.5 390.0,303.6 391.2,303.7 392.4,303.8 393.6,303.8 394.8,303.9 396.0,304.0 397.2,304.1 398.4,304.2 399.6,304.3 400.8,304.4 402.0,304.5 403.2,304.5 404.4,304.6 405.6,304.7 406.8,304.8 408.0,304.9 409.2,304.9 410.4,305.0 411.6,305.1 412.7,305.2 413.9,305.2 415.1,305.3 416.3,305.4 417.5,305.4 418.7,305.5 419.9,305.6 421.1,305.6 422.3,305.7 423.5,305.8 424.7,305.8 425.9,305.9 427.1,305.9 428.3,306.0 429.5,306.1 430.7,306.1 431.9,306.2 433.1,306.2 434.3,306.3 435.5,306.3 436.7,306.4 437.9,306.4 439.1,306.5 440.3,306.5 441.5,306.6 442.7,306.6 443.9,306.6 445.1,306.7 446.3,306.7 447.5,306.8 448.7,306.8 449.9,306.8 451.1,306.9 452.3,306.9 453.5,306.9 454.7,307.0 455.9,307.0 457.1,307.0 458.3,307.1 459.5,307.1 460.7,307.1 461.9,307.1 463.1,307.1 464.3,307.2 465.5,307.2 466.7,307.2 467.9,307.2 469.1,307.2 470.3,307.3 471.5,307.3 472.7,307.3 473.9,307.3 475.1,307.3 476.3,307.3 477.5,307.3 478.7,307.3 479.9,307.3 481.1,307.3 482.3,307.3 483.5,307.3 484.7,307.3 485.9,307.3 487.1,307.3 488.3,307.3 489.5,307.3 490.7,307.3 491.9,307.3 493.1,307.3 494.3,307.3 495.5,307.3 496.7,307.2 497.9,307.2 499.1,307.2 500.3,307.2 501.5,307.2 502.7,307.1 503.9,307.1 505.1,307.1 506.3,307.1 507.5,307.0 508.7,307.0 509.9,307.0 511.1,307.0 512.3,306.9 513.5,306.9 514.7,306.9 515.9,306.8 517.1,306.8 518.3,306.7 519.5,306.7 520.7,306.7 521.9,306.6 523.1,306.6 524.3,306.5 525.5,306.5" stroke="#35978F" stroke-width="1.5"/>
<path d="M81.9,108.2 82.5,107.0 83.1,105.7 83.6,104.6 84.1,103.4 84.5,102.3 84.9,101.2 85.3,100.1 85.7,99.0 86.0,98.0 86.3,96.9 86.7,95.9 86.9,94.8 87.2,93.8 87.5,92.7 87.8,91.6 88.1,90.5 88.4,89.4 88.7,88.3 89.0,87.1 89.4,85.9 89.7,84.7 90.1,83.5 90.5,82.2 90.9,81.0 91.4,79.7 91.8,78.5 92.3,77.3 92.8,76.1 93.4,74.9 94.0,73.7 94.6,72.6 95.2,71.5 95.8,70.5 96.5,69.6 97.3,68.7 98.0,67.8 98.8,67.0 99.7,66.3 100.6,65.7 101.5,65.2 102.4,64.8 103.4,64.5 104.3,64.3 105.3,64.2 106.3,64.3 107.3,64.5 108.2,64.9 109.2,65.4 110.2,66.1 111.1,66.9 112.0,67.8 112.8,68.8 113.6,69.8 114.4,70.8 115.1,71.9 115.8,72.9 116.5,74.0 117.1,75.0 117.7,76.1 118.2,77.2 118.7,78.3 119.2,79.4 119.7,80.5 120.2,81.6 120.6,82.7 121.0,83.8 121.5,85.0 121.9,86.1 122.3,87.2 122.7,88.4 123.0,89.5 123.4,90.6 123.8,91.8 124.2,92.9 124.6,94.0 125.0,95.2 125.3,96.3 125.7,97.4 126.1,98.6 126.4,99.7 126.8,100.9 127.1,102.0 127.5,103.2 127.8,104.3 128.2,105.5 128.5,106.6 128.9,107.7 129.2,108.9 129.6,110.0 129.9,111.2 130.2,112.3 130.6,113.5 130.9,114.6 131.2,115.8 131.6,116.9 131.9,118.1 132.2,119.3 132.6,120.4 132.9,121.6 133.2,122.7 133.5,123.9 133.8,125.0 134.2,126.2 134.5,127.3 134.8,128.5 135.1,129.7 135.4,130.8 135.8,132.0 136.1,133.1 136.4,134.3 136.7,135.4 137.0,136.6 137.3,137.7 137.6,138.9 138.0,140.1 138.3,141.2 138.6,142.4 138.9,143.5 139.2,144.7 139.5,145.8 139.9,147.0 140.2,148.2 140.5,149.3 140.8,150.5 141.1,151.6 141.5,152.8 141.8,153.9 142.1,155.1 142.4,156.2 142.8,157.4 143.1,158.5 143.4,159.7 143.7,160.8 144.1,162.0 144.4,163.1 144.7,164.3 145.1,165.4 145.4,166.6 145.8,167.7 146.1,168.9 146.5,170.0 146.8,171.2 147.2,172.3 147.5,173.4 147.9,174.6 148.2,175.7 148.6,176.9 149.0,178.0 149.3,179.1 149.7,180.3 150.1,181.4 150.4,182.5 150.8,183.7 151.2,184.8 151.6,185.9 152.0,187.1 152.4,188.2 152.8,189.3 153.2,190.4 153.6,191.6 154.0,192.7 154.4,193.8 154.8,194.9 155.3,196.1 155.7,197.2 156.1,198.3 156.5,199.4 157.0,200.5 157.4,201.6 157.9,202.7 158.3,203.8 158.8,204.9 159.3,206.0 159.7,207.1 160.2,208.2 160.7,209.3 161.2,210.4 161.7,211.5 162.1,212.6 162.6,213.7 163.2,214.8 163.7,215.9 164.2,217.0 164.7,218.0 165.2,219.1 165.8,220.2 166.3,221.3 166.8,222.4 167.4,223.4 167.9,224.5 168.5,225.6 169.0,226.6 169.6,227.7 170.1,228.8 170.7,229.8 171.3,230.9 171.9,231.9 172.4,233.0 173.0,234.1 173.6,235.1 174.2,236.2 174.8,237.2 175.4,238.3 176.0,239.3 176.6,240.4 177.2,241.4 177.8,242.4 178.4,243.5 179.1,244.5 179.7,245.5 180.3,246.5 181.0,247.5 181.6,248.5 182.3,249.5 183.0,250.5 183.7,251.5 184.4,252.4 185.1,253.4 185.8,254.3 186.6,255.3 187.3,256.2 188.1,257.1 188.9,257.9 189.7,258.8 190.5,259.7 191.3,260.5 192.2,261.3 193.0,262.1 193.9,262.9 194.8,263.6 195.8,264.4 196.7,265.1 197.6,265.8 198.6,266.5 199.6,267.1 200.6,267.8 201.6,268.4 202.6,269.0 203.7,269.6 204.7,270.2 205.8,270.8 206.8,271.3 207.9,271.9 209.0,272.4 210.1,272.9 211.2,273.4 212.3,273.9 213.5,274.4 214.6,274.8 215.7,275.2 216.9,275.7 218.0,276.1 219.2,276.5 220.3,276.8 221.5,277.2 222.7,277.6 223.9,277.9 225.0,278.2 226.2,278.5 227.4,278.8 228.6,279.1 229.7,279.4 230.9,279.7 232.1,279.9 233.3,280.2 234.5,280.4 235.7,280.7 236.8,280.9 238.0,281.1 239.2,281.3 240.4,281.5 241.6,281.6 242.7,281.8 243.9,282.0 245.1,282.2 246.3,282.3 247.5,282.5 248.6,282.6 249.8,282.7 251.0,282.9 252.2,283.0 253.4,283.1 254.6,283.3 255.7,283.4 256.9,283.5 258.1,283.6 259.3,283.8 260.5,283.9 261.6,284.0 262.8,284.1 264.0,284.2 265.2,284.4 266.4,284.5 267.5,284.6 268.7,284.7 269.9,284.9 271.1,285.0 272.3,285.2 273.5,285.3 274.6,285.4 275.8,285.6 277.0,285.7 278.2,285.9 279.4,286.1 280.5,286.2 281.7,286.4 282.9,286.6 284.1,286.7 285.3,286.9 286.4,287.1 287.6,287.3 288.8,287.4 290.0,287.6 291.2,287.8 292.4,288.0 293.5,288.2 294.7,288.4 295.9,288.6 297.1,288.8 298.3,289.0 299.4,289.2 300.6,289.4 301.8,289.6 303.0,289.8 304.2,290.0 305.4,290.2 306.5,290.4 307.7,290.6 308.9,290.9 310.1,291.1 311.3,291.3 312.4,291.5 313.6,291.7 314.8,292.0 316.0,292.2 317.2,292.4 318.4,292.6 319.5,292.8 320.7,293.1 321.9,293.3 323.1,293.5 324.3,293.7 325.4,294.0 326.6,294.2 327.8,294.4 329.0,294.6 330.2,294.9 331.4,295.1 332.5,295.3 333.7,295.5 334.9,295.8 336.1,296.0 337.3,296.2 338.5,296.4 339.6,296.7 340.8,296.9 342.0,297.1 343.2,297.3 344.4,297.6 345.6,297.8 346.7,298.0 347.9,298.2 349.1,298.4 350.3,298.6 351.5,298.8 352.7,299.1 353.8,299.3 355.0,299.5 356.2,299.7 357.4,299.9 358.6,300.1 359.8,300.3 360.9,300.5 362.1,300.7 363.3,300.9 364.5,301.1 365.7,301.3 366.9,301.4 368.0,301.6 369.2,301.8 370.4,302.0 371.6,302.2 372.8,302.3 374.0,302.5 375.2,302.7 376.3,302.9 377.5,303.0 378.7,303.2 379.9,303.3 381.1,303.5 382.3,303.6 383.5,303.8 384.6,303.9 385.8,304.1 387.0,304.2 388.2,304.4 389.4,304.5 390.6,304.7 391.8,304.8 392.9,304.9 394.1,305.1 395.3,305.2 396.5,305.3 397.7,305.4 398.9,305.5 400.1,305.7 401.3,305.8 402.4,305.9 403.6,306.0 404.8,306.1 406.0,306.2 407.2,306.3 408.4,306.4 409.6,306.6 410.8,306.7 411.9,306.8 413.1,306.9 414.3,306.9 415.5,307.0 416.7,307.1 417.9,307.2 419.1,307.3 420.3,307.4 421.5,307.5 422.6,307.6 423.8,307.7 425.0,307.8 426.2,307.8 427.4,307.9 428.6,308.0 429.8,308.1 431.0,308.2 432.2,308.2 433.4,308.3 434.6,308.4 435.7,308.5 436.9,308.5 438.1,308.6 439.3,308.7 440.5,308.7 441.7,308.8 442.9,308.9 444.1,308.9 445.3,309.0 446.5,309.1 447.7,309.1 448.9,309.2 450.0,309.3 451.2,309.3 452.4,309.4 453.6,309.4 454.8,309.5 456.0,309.6 457.2,309.6 458.4,309.7 459.6,309.7 460.8,309.8 462.0,309.9 463.2,309.9 464.4,310.0 465.6,310.0 466.8,310.1 468.0,310.1 469.2,310.2 470.4,310.3 471.6,310.3 472.7,310.4 473.9,310.4 475.1,310.5 476.3,310.5 477.5,310.6 478.7,310.7 479.9,310.7 481.1,310.8 482.3,310.8 483.5,310.9 484.7,311.0 485.9,311.0 487.1,311.1 488.3,311.1 489.5,311.2 490.7,311.3 491.9,311.3 493.1,311.4 494.3,311.4 495.5,311.5 496.7,311.6 497.9,311.6 499.1,311.7 500.3,311.8 501.5,311.8 502.7,311.9 503.9,312.0 505.1,312.0 506.3,312.1 507.5,312.2 508.7,312.3 509.9,312.3 511.1,312.4 512.3,312.5 513.5,312.6 514.7,312.6 515.9,312.7 517.1,312.8 518.4,312.9 519.6,313.0 520.8,313.0 522.0,313.1 523.2,313.2 524.4,313.3 525.6,313.4" stroke="#BF812D" stroke-width="1.5"/>
<path d="M82.7,247.2 83.9,247.1 85.1,247.0 86.3,246.8 87.5,246.7 88.7,246.6 89.9,246.5 91.1,246.4 92.3,246.3 93.5,246.2 94.7,246.1 95.9,246.0 97.1,245.9 98.3,245.9 99.5,245.8 100.7,245.7 101.9,245.6 103.1,245.6 104.3,245.5 105.5,245.5 106.7,245.4 107.8,245.4 109.0,245.3 110.2,245.3 111.4,245.3 112.6,245.2 113.8,245.2 115.0,245.2 116.2,245.2 117.4,245.1 118.6,245.1 119.8,245.1 121.0,245.1 122.2,245.1 123.3,245.2 124.5,245.2 125.7,245.2 126.9,245.2 128.1,245.2 129.3,245.3 130.5,245.3 131.7,245.3 132.9,245.4 134.0,245.4 135.2,245.5 136.4,245.5 137.6,245.6 138.8,245.7 140.0,245.7 141.2,245.8 142.3,245.9 143.5,246.0 144.7,246.1 145.9,246.2 147.1,246.3 148.3,246.4 149.5,246.5 150.6,246.6 151.8,246.7 153.0,246.8 154.2,246.9 155.4,247.1 156.5,247.2 157.7,247.3 158.9,247.5 160.1,247.6 161.3,247.8 162.4,247.9 163.6,248.1 164.8,248.2 166.0,248.4 167.2,248.6 168.3,248.7 169.5,248.9 170.7,249.1 171.9,249.3 173.1,249.5 174.2,249.7 175.4,249.9 176.6,250.1 177.8,250.3 178.9,250.5 180.1,250.7 181.3,250.9 182.5,251.1 183.6,251.3 184.8,251.5 186.0,251.8 187.2,252.0 188.3,252.2 189.5,252.4 190.7,252.7 191.9,252.9 193.0,253.1 194.2,253.4 195.4,253.6 196.6,253.8 197.7,254.1 198.9,254.3 200.1,254.6 201.3,254.8 202.4,255.1 203.6,255.3 204.8,255.5 206.0,255.8 207.1,256.0 208.3,256.3 209.5,256.5 210.6,256.8 211.8,257.1 213.0,257.3 214.2,257.6 215.3,257.8 216.5,258.1 217.7,258.3 218.8,258.6 220.0,258.9 221.2,259.1 222.3,259.4 223.5,259.7 224.7,259.9 225.9,260.2 227.0,260.5 228.2,260.8 229.4,261.0 230.5,261.3 231.7,261.6 232.9,261.9 234.0,262.1 235.2,262.4 236.4,262.7 237.5,263.0 238.7,263.3 239.9,263.6 241.0,263.8 242.2,264.1 243.4,264.4 244.6,264.7 245.7,265.0 246.9,265.3 248.1,265.6 249.2,265.9 250.4,266.2 251.6,266.5 252.7,266.8 253.9,267.1 255.1,267.4 256.2,267.7 257.4,268.0 258.6,268.3 259.7,268.6 260.9,268.9 262.1,269.2 263.2,269.6 264.4,269.9 265.6,270.2 266.7,270.5 267.9,270.8 269.1,271.1 270.2,271.4 271.4,271.7 272.6,272.1 273.7,272.4 274.9,272.7 276.1,273.0 277.2,273.3 278.4,273.6 279.6,273.9 280.7,274.2 281.9,274.5 283.1,274.8 284.2,275.1 285.4,275.4 286.6,275.7 287.7,276.0 288.9,276.3 290.1,276.6 291.2,276.9 292.4,277.2 293.6,277.4 294.7,277.7 295.9,278.0 297.1,278.3 298.2,278.6 299.4,278.8 300.6,279.1 301.7,279.4 302.9,279.6 304.1,279.9 305.2,280.1 306.4,280.4 307.6,280.7 308.7,280.9 309.9,281.2 311.1,281.4 312.2,281.7 313.4,281.9 314.6,282.1 315.7,282.4 316.9,282.6 318.1,282.9 319.2,283.1 320.4,283.4 321.6,283.6 322.7,283.8 323.9,284.1 325.1,284.3 326.2,284.5 327.4,284.7 328.6,285.0 329.7,285.2 330.9,285.4 332.1,285.7 333.3,285.9 334.4,286.1 335.6,286.3 336.8,286.5 337.9,286.8 339.1,287.0 340.3,287.2 341.4,287.4 342.6,287.6 343.8,287.9 345.0,288.1 346.1,288.3 347.3,288.5 348.5,288.7 349.6,288.9 350.8,289.1 352.0,289.3 353.1,289.6 354.3,289.8 355.5,290.0 356.7,290.2 357.8,290.4 359.0,290.6 360.2,290.8 361.3,291.0 362.5,291.2 363.7,291.4 364.9,291.6 366.0,291.8 367.2,292.0 368.4,292.2 369.6,292.4 370.7,292.6 371.9,292.8 373.1,293.0 374.3,293.1 375.4,293.3 376.6,293.5 377.8,293.7 379.0,293.9 380.1,294.1 381.3,294.3 382.5,294.4 383.7,294.6 384.8,294.8 386.0,295.0 387.2,295.1 388.4,295.3 389.5,295.5 390.7,295.6 391.9,295.8 393.1,296.0 394.2,296.1 395.4,296.3 396.6,296.5 397.8,296.6 399.0,296.8 400.1,296.9 401.3,297.1 402.5,297.2 403.7,297.4 404.9,297.5 406.0,297.7 407.2,297.8 408.4,298.0 409.6,298.1 410.8,298.2 412.0,298.4 413.1,298.5 414.3,298.6 415.5,298.8 416.7,298.9 417.9,299.0 419.0,299.2 420.2,299.3 421.4,299.4 422.6,299.5 423.8,299.6 425.0,299.8 426.2,299.9 427.3,300.0 428.5,300.1 429.7,300.2 430.9,300.3 432.1,300.5 433.3,300.6 434.5,300.7 435.7,300.8 436.8,300.9 438.0,301.0 439.2,301.1 440.4,301.2 441.6,301.3 442.8,301.4 444.0,301.5 445.2,301.6 446.4,301.7 447.6,301.8 448.7,301.9 449.9,302.0 451.1,302.1 452.3,302.2 453.5,302.3 454.7,302.4 455.9,302.4 457.1,302.5 458.3,302.6 459.5,302.7 460.7,302.8 461.9,302.9 463.1,303.0 464.3,303.1 465.5,303.1 466.7,303.2 467.9,303.3 469.1,303.4 470.3,303.5 471.5,303.5 472.7,303.6 473.9,303.7 475.1,303.8 476.3,303.9 477.5,303.9 478.7,304.0 479.9,304.1 481.1,304.2 482.3,304.2 483.5,304.3 484.7,304.4 485.9,304.5 487.1,304.5 488.3,304.6 489.5,304.7 490.7,304.7 491.9,304.8 493.1,304.9 494.3,305.0 495.5,305.0 496.7,305.1 498.0,305.2 499.2,305.2 500.4,305.3 501.6,305.4 502.8,305.4 504.0,305.5 505.2,305.6 506.4,305.7 507.6,305.7 508.9,305.8 510.1,305.9 511.3,305.9 512.5,306.0 513.7,306.1 514.9,306.1 516.1,306.2 517.4,306.3 518.6,306.3 519.8,306.4 521.0,306.5 522.2,306.5 523.5,306.6 524.7,306.7 525.9,306.8" stroke="#01665E" stroke-width="1.5"/>
<path d="M81.9,104.8 82.5,103.6 83.0,102.3 83.6,101.1 84.1,100.0 84.5,98.9 85.0,97.8 85.4,96.7 85.8,95.6 86.1,94.6 86.5,93.5 86.8,92.5 87.1,91.4 87.4,90.4 87.8,89.3 88.1,88.2 88.4,87.2 88.7,86.0 89.0,84.9 89.3,83.7 89.6,82.5 90.0,81.3 90.3,80.1 90.7,78.8 91.1,77.6 91.5,76.3 91.9,75.1 92.4,73.8 92.8,72.6 93.4,71.4 93.9,70.3 94.5,69.2 95.0,68.1 95.7,67.1 96.4,66.1 97.1,65.2 97.8,64.4 98.6,63.6 99.4,62.9 100.3,62.3 101.2,61.8 102.2,61.4 103.2,61.1 104.2,60.9 105.2,60.9 106.2,61.0 107.2,61.2 108.2,61.5 109.2,62.1 110.2,62.7 111.1,63.5 112.1,64.4 112.9,65.4 113.8,66.4 114.6,67.4 115.3,68.4 116.1,69.5 116.7,70.5 117.4,71.6 118.0,72.7 118.5,73.8 119.1,74.9 119.6,76.0 120.0,77.1 120.5,78.2 120.9,79.3 121.4,80.4 121.8,81.6 122.2,82.7 122.6,83.9 122.9,85.0 123.3,86.1 123.7,87.3 124.0,88.4 124.4,89.6 124.7,90.7 125.1,91.9 125.4,93.0 125.8,94.1 126.1,95.3 126.4,96.4 126.7,97.6 127.1,98.7 127.4,99.9 127.7,101.1 128.0,102.2 128.3,103.4 128.6,104.5 128.9,105.7 129.2,106.8 129.5,108.0 129.7,109.1 130.0,110.3 130.3,111.4 130.6,112.6 130.9,113.8 131.1,114.9 131.4,116.1 131.7,117.2 132.0,118.4 132.3,119.6 132.5,120.7 132.8,121.9 133.1,123.0 133.4,124.2 133.6,125.4 133.9,126.5 134.2,127.7 134.5,128.8 134.8,130.0 135.0,131.2 135.3,132.3 135.6,133.5 135.9,134.6 136.2,135.8 136.5,137.0 136.8,138.1 137.1,139.3 137.4,140.4 137.7,141.6 138.0,142.8 138.3,143.9 138.6,145.1 139.0,146.2 139.3,147.4 139.6,148.6 139.9,149.7 140.3,150.9 140.6,152.0 140.9,153.2 141.3,154.3 141.6,155.5 142.0,156.6 142.3,157.8 142.7,159.0 143.0,160.1 143.4,161.3 143.7,162.4 144.1,163.6 144.5,164.7 144.8,165.9 145.2,167.0 145.6,168.1 146.0,169.3 146.4,170.4 146.7,171.6 147.1,172.7 147.5,173.9 147.9,175.0 148.3,176.1 148.7,177.3 149.1,178.4 149.5,179.6 149.9,180.7 150.3,181.8 150.7,183.0 151.1,184.1 151.5,185.2 151.9,186.3 152.4,187.5 152.8,188.6 153.2,189.7 153.6,190.8 154.0,192.0 154.5,193.1 154.9,194.2 155.3,195.3 155.8,196.4 156.2,197.5 156.6,198.7 157.1,199.8 157.5,200.9 158.0,202.0 158.4,203.1 158.9,204.2 159.3,205.3 159.8,206.4 160.2,207.5 160.7,208.6 161.1,209.7 161.6,210.8 162.0,211.9 162.5,212.9 163.0,214.0 163.5,215.1 163.9,216.2 164.4,217.3 164.9,218.4 165.4,219.4 165.9,220.5 166.4,221.6 166.9,222.7 167.4,223.7 167.9,224.8 168.4,225.9 168.9,226.9 169.4,228.0 170.0,229.1 170.5,230.1 171.1,231.2 171.6,232.2 172.2,233.3 172.8,234.3 173.3,235.4 173.9,236.5 174.5,237.5 175.1,238.6 175.7,239.6 176.4,240.6 177.0,241.7 177.6,242.7 178.3,243.8 179.0,244.8 179.6,245.8 180.3,246.8 181.0,247.8 181.7,248.8 182.5,249.8 183.2,250.8 183.9,251.7 184.7,252.7 185.5,253.6 186.2,254.5 187.0,255.4 187.9,256.3 188.7,257.2 189.5,258.1 190.4,258.9 191.2,259.7 192.1,260.5 193.0,261.3 193.9,262.1 194.8,262.9 195.8,263.6 196.7,264.3 197.7,265.0 198.7,265.7 199.7,266.3 200.7,267.0 201.7,267.6 202.7,268.2 203.7,268.8 204.8,269.4 205.8,269.9 206.9,270.5 207.9,271.0 209.0,271.5 210.1,272.0 211.2,272.5 212.3,273.0 213.4,273.4 214.5,273.9 215.6,274.3 216.8,274.7 217.9,275.1 219.0,275.5 220.2,275.8 221.3,276.2 222.5,276.5 223.6,276.9 224.8,277.2 226.0,277.5 227.1,277.8 228.3,278.0 229.5,278.3 230.6,278.6 231.8,278.8 233.0,279.0 234.1,279.3 235.3,279.5 236.5,279.7 237.7,279.9 238.8,280.0 240.0,280.2 241.2,280.4 242.4,280.6 243.6,280.7 244.7,280.9 245.9,281.0 247.1,281.1 248.3,281.3 249.5,281.4 250.7,281.5 251.8,281.6 253.0,281.8 254.2,281.9 255.4,282.0 256.6,282.1 257.8,282.2 259.0,282.3 260.2,282.4 261.3,282.5 262.5,282.6 263.7,282.7 264.9,282.9 266.1,283.0 267.3,283.1 268.5,283.2 269.7,283.3 270.9,283.5 272.1,283.6 273.2,283.7 274.4,283.9 275.6,284.0 276.8,284.1 278.0,284.3 279.2,284.5 280.4,284.6 281.6,284.8 282.8,284.9 283.9,285.1 285.1,285.3 286.3,285.4 287.5,285.6 288.7,285.8 289.9,286.0 291.1,286.2 292.2,286.3 293.4,286.5 294.6,286.7 295.8,286.9 297.0,287.1 298.2,287.3 299.4,287.5 300.6,287.7 301.7,287.9 302.9,288.1 304.1,288.3 305.3,288.5 306.5,288.7 307.7,289.0 308.9,289.2 310.0,289.4 311.2,289.6 312.4,289.8 313.6,290.0 314.8,290.3 316.0,290.5 317.1,290.7 318.3,290.9 319.5,291.2 320.7,291.4 321.9,291.6 323.1,291.8 324.2,292.1 325.4,292.3 326.6,292.5 327.8,292.7 329.0,293.0 330.2,293.2 331.4,293.4 332.5,293.7 333.7,293.9 334.9,294.1 336.1,294.3 337.3,294.6 338.5,294.8 339.6,295.0 340.8,295.2 342.0,295.5 343.2,295.7 344.4,295.9 345.6,296.1 346.7,296.4 347.9,296.6 349.1,296.8 350.3,297.0 351.5,297.2 352.7,297.4 353.8,297.7 355.0,297.9 356.2,298.1 357.4,298.3 358.6,298.5 359.8,298.7 360.9,298.9 362.1,299.1 363.3,299.3 364.5,299.5 365.7,299.7 366.9,299.9 368.0,300.1 369.2,300.2 370.4,300.4 371.6,300.6 372.8,300.8 374.0,300.9 375.2,301.1 376.3,301.3 377.5,301.5 378.7,301.6 379.9,301.8 381.1,301.9 382.3,302.1 383.4,302.2 384.6,302.4 385.8,302.5 387.0,302.7 388.2,302.8 389.4,303.0 390.5,303.1 391.7,303.2 392.9,303.4 394.1,303.5 395.3,303.6 396.5,303.7 397.7,303.9 398.8,304.0 400.0,304.1 401.2,304.2 402.4,304.3 403.6,304.5 404.8,304.6 406.0,304.7 407.1,304.8 408.3,304.9 409.5,305.0 410.7,305.1 411.9,305.2 413.1,305.3 414.3,305.4 415.5,305.5 416.6,305.6 417.8,305.7 419.0,305.7 420.2,305.8 421.4,305.9 422.6,306.0 423.8,306.1 425.0,306.2 426.2,306.3 427.3,306.3 428.5,306.4 429.7,306.5 430.9,306.6 432.1,306.6 433.3,306.7 434.5,306.8 435.7,306.9 436.9,306.9 438.0,307.0 439.2,307.1 440.4,307.1 441.6,307.2 442.8,307.3 444.0,307.3 445.2,307.4 446.4,307.5 447.6,307.5 448.8,307.6 450.0,307.6 451.2,307.7 452.3,307.8 453.5,307.8 454.7,307.9 455.9,307.9 457.1,308.0 458.3,308.1 459.5,308.1 460.7,308.2 461.9,308.2 463.1,308.3 464.3,308.4 465.5,308.4 466.7,308.5 467.9,308.5 469.1,308.6 470.3,308.6 471.5,308.7 472.7,308.7 473.9,308.8 475.1,308.9 476.3,308.9 477.5,309.0 478.7,309.0 479.9,309.1 481.1,309.1 482.3,309.2 483.5,309.3 484.7,309.3 485.9,309.4 487.1,309.4 488.3,309.5 489.5,309.6 490.7,309.6 491.9,309.7 493.1,309.7 494.3,309.8 495.5,309.9 496.7,309.9 497.9,310.0 499.1,310.1 500.3,310.1 501.5,310.2 502.7,310.3 503.9,310.3 505.1,310.4 506.3,310.5 507.5,310.6 508.7,310.6 509.9,310.7 511.1,310.8 512.3,310.9 513.5,310.9 514.7,311.0 516.0,311.1 517.2,311.2 518.4,311.3 519.6,311.4 520.8,311.4 522.0,311.5 523.2,311.6 524.4,311.7 525.6,311.8" stroke="#000000" stroke-width="1.75"/>
<path d="M82.6,104.8 83.4,105.3 84.0,105.4 84.6,105.2 85.1,104.7 85.6,103.9 86.0,102.9 86.3,101.7 86.6,100.3 86.9,98.8 87.2,97.3 87.4,95.7 87.6,94.1 87.8,92.5 88.1,91.0 88.3,89.6 88.5,88.3 88.8,87.0 89.1,85.8 89.4,84.6 89.7,83.5 90.1,82.4 90.5,81.4 91.0,80.4 91.5,79.4 92.1,78.4 92.8,77.5 93.5,76.5 94.3,75.5 95.1,74.6 96.1,73.6 97.0,72.7 98.1,71.9 99.1,71.1 100.2,70.3 101.3,69.7 102.4,69.2 103.5,68.8 104.5,68.5 105.6,68.3 106.6,68.3 107.6,68.5 108.5,68.8 109.4,69.3 110.3,69.9 111.1,70.6 112.0,71.4 112.7,72.3 113.5,73.2 114.2,74.2 114.9,75.3 115.6,76.4 116.2,77.5 116.8,78.6 117.4,79.7 118.0,80.8 118.5,82.0 119.0,83.1 119.6,84.2 120.0,85.3 120.5,86.4 121.0,87.5 121.4,88.6 121.9,89.8 122.3,90.9 122.7,92.0 123.1,93.1 123.5,94.2 123.9,95.4 124.3,96.5 124.7,97.6 125.0,98.7 125.4,99.9 125.8,101.0 126.2,102.1 126.5,103.2 126.9,104.4 127.2,105.5 127.6,106.6 128.0,107.8 128.3,108.9 128.7,110.1 129.0,111.2 129.4,112.3 129.7,113.5 130.1,114.6 130.4,115.7 130.8,116.9 131.1,118.0 131.5,119.2 131.8,120.3 132.1,121.5 132.5,122.6 132.8,123.8 133.2,124.9 133.5,126.1 133.8,127.2 134.2,128.4 134.5,129.5 134.8,130.6 135.2,131.8 135.5,132.9 135.8,134.1 136.2,135.3 136.5,136.4 136.8,137.6 137.1,138.7 137.5,139.9 137.8,141.0 138.1,142.2 138.5,143.3 138.8,144.5 139.1,145.6 139.5,146.8 139.8,147.9 140.1,149.1 140.5,150.2 140.8,151.4 141.1,152.5 141.5,153.7 141.8,154.8 142.1,156.0 142.5,157.1 142.8,158.3 143.2,159.4 143.5,160.6 143.8,161.7 144.2,162.9 144.5,164.0 144.9,165.2 145.2,166.3 145.6,167.5 145.9,168.6 146.3,169.8 146.7,170.9 147.0,172.1 147.4,173.2 147.7,174.4 148.1,175.5 148.5,176.6 148.8,177.8 149.2,178.9 149.6,180.1 150.0,181.2 150.3,182.3 150.7,183.5 151.1,184.6 151.5,185.7 151.9,186.9 152.3,188.0 152.7,189.1 153.1,190.3 153.5,191.4 153.9,192.5 154.3,193.6 154.7,194.8 155.1,195.9 155.5,197.0 156.0,198.1 156.4,199.3 156.8,200.4 157.2,201.5 157.7,202.6 158.1,203.7 158.6,204.8 159.0,205.9 159.5,207.1 159.9,208.2 160.4,209.3 160.8,210.4 161.3,211.5 161.8,212.6 162.3,213.7 162.8,214.8 163.2,215.9 163.7,216.9 164.2,218.0 164.7,219.1 165.2,220.2 165.8,221.3 166.3,222.4 166.8,223.5 167.3,224.5 167.9,225.6 168.4,226.7 168.9,227.8 169.5,228.8 170.1,229.9 170.6,231.0 171.2,232.0 171.8,233.1 172.3,234.1 172.9,235.2 173.5,236.2 174.1,237.3 174.7,238.3 175.3,239.3 176.0,240.4 176.6,241.4 177.2,242.4 177.9,243.4 178.5,244.4 179.2,245.4 179.9,246.4 180.6,247.4 181.3,248.3 182.0,249.3 182.7,250.2 183.4,251.2 184.2,252.1 184.9,253.0 185.7,253.9 186.5,254.8 187.3,255.7 188.1,256.6 188.9,257.4 189.7,258.3 190.6,259.1 191.4,259.9 192.3,260.7 193.1,261.5 194.0,262.3 194.9,263.0 195.8,263.8 196.8,264.5 197.7,265.2 198.7,265.9 199.6,266.6 200.6,267.2 201.6,267.9 202.6,268.5 203.6,269.1 204.6,269.7 205.6,270.3 206.7,270.8 207.7,271.4 208.8,271.9 209.9,272.4 211.0,272.9 212.1,273.4 213.2,273.8 214.3,274.3 215.4,274.7 216.5,275.1 217.6,275.5 218.8,275.9 219.9,276.3 221.1,276.7 222.2,277.0 223.4,277.4 224.6,277.7 225.7,278.0 226.9,278.3 228.1,278.6 229.3,278.9 230.5,279.2 231.7,279.5 232.9,279.7 234.1,280.0 235.3,280.2 236.5,280.4 237.7,280.7 238.9,280.9 240.1,281.1 241.3,281.3 242.5,281.5 243.7,281.6 244.9,281.8 246.2,282.0 247.4,282.1 248.6,282.3 249.8,282.5 251.0,282.6 252.2,282.7 253.4,282.9 254.6,283.0 255.8,283.1 257.0,283.3 258.2,283.4 259.4,283.5 260.6,283.6 261.8,283.7 262.9,283.8 264.1,284.0 265.3,284.1 266.5,284.2 267.7,284.3 268.9,284.4 270.1,284.5 271.2,284.6 272.4,284.7 273.6,284.8 274.8,284.9 276.0,285.0 277.1,285.1 278.3,285.2 279.5,285.3 280.7,285.4 281.8,285.5 283.0,285.6 284.2,285.8 285.4,285.9 286.5,286.0 287.7,286.1 288.9,286.3 290.1,286.4 291.2,286.5 292.4,286.7 293.6,286.8 294.8,287.0 295.9,287.2 297.1,287.3 298.3,287.5 299.5,287.7 300.6,287.8 301.8,288.0 303.0,288.2 304.2,288.4 305.4,288.6 306.5,288.8 307.7,289.0 308.9,289.2 310.1,289.4 311.2,289.6 312.4,289.8 313.6,290.0 314.8,290.2 316.0,290.4 317.1,290.7 318.3,290.9 319.5,291.1 320.7,291.3 321.9,291.6 323.0,291.8 324.2,292.0 325.4,292.3 326.6,292.5 327.8,292.7 328.9,293.0 330.1,293.2 331.3,293.5 332.5,293.7 333.7,293.9 334.8,294.2 336.0,294.4 337.2,294.7 338.4,294.9 339.6,295.2 340.7,295.4 341.9,295.7 343.1,295.9 344.3,296.1 345.5,296.4 346.7,296.6 347.8,296.9 349.0,297.1 350.2,297.4 351.4,297.6 352.6,297.8 353.8,298.1 354.9,298.3 356.1,298.6 357.3,298.8 358.5,299.0 359.7,299.2 360.9,299.5 362.0,299.7 363.2,299.9 364.4,300.2 365.6,300.4 366.8,300.6 368.0,300.8 369.2,301.0 370.3,301.2 371.5,301.4 372.7,301.6 373.9,301.8 375.1,302.0 376.3,302.2 377.5,302.4 378.6,302.6 379.8,302.8 381.0,303.0 382.2,303.2 383.4,303.3 384.6,303.5 385.8,303.7 387.0,303.8 388.1,304.0 389.3,304.1 390.5,304.3 391.7,304.4 392.9,304.5 394.1,304.7 395.3,304.8 396.5,304.9 397.6,305.0 398.8,305.1 400.0,305.2 401.2,305.3 402.4,305.4 403.6,305.5 404.8,305.6 406.0,305.7 407.2,305.8 408.4,305.9 409.5,305.9 410.7,306.0 411.9,306.1 413.1,306.1 414.3,306.2 415.5,306.2 416.7,306.3 417.9,306.3 419.1,306.4 420.3,306.4 421.5,306.5 422.6,306.5 423.8,306.6 425.0,306.6 426.2,306.6 427.4,306.7 428.6,306.7 429.8,306.8 431.0,306.8 432.2,306.8 433.4,306.9 434.6,306.9 435.8,306.9 437.0,307.0 438.1,307.0 439.3,307.1 440.5,307.1 441.7,307.2 442.9,307.2 444.1,307.2 445.3,307.3 446.5,307.3 447.7,307.4 448.9,307.4 450.1,307.5 451.3,307.6 452.5,307.6 453.7,307.7 454.9,307.8 456.1,307.8 457.2,307.9 458.4,308.0 459.6,308.1 460.8,308.2 462.0,308.3 463.2,308.4 464.4,308.4 465.6,308.5 466.8,308.6 468.0,308.7 469.2,308.9 470.4,309.0 471.6,309.1 472.8,309.2 474.0,309.3 475.2,309.4 476.4,309.5 477.6,309.6 478.8,309.7 480.0,309.8 481.2,309.9 482.4,310.0 483.6,310.2 484.8,310.3 486.0,310.4 487.2,310.5 488.4,310.6 489.6,310.7 490.8,310.8 492.0,310.9 493.2,311.0 494.3,311.1 495.5,311.2 496.7,311.3 497.9,311.4 499.1,311.5 500.3,311.5 501.5,311.6 502.7,311.7 503.9,311.8 505.1,311.8 506.3,311.9 507.5,311.9 508.7,312.0 509.9,312.1 511.1,312.1 512.3,312.1 513.5,312.2 514.7,312.2 515.9,312.2 517.1,312.2 518.3,312.3 519.5,312.3 520.7,312.3 521.9,312.3 523.1,312.2 524.3,312.2 525.5,312.2" stroke="#000000" stroke-width="1.75" stroke-dasharray="7 7"/>
</g>
<g clip-path="url(#cbA)" fill="none" stroke-linejoin="round" stroke-linecap="butt">
<path d="M82.6,513.1 83.6,512.8 84.6,512.5 85.6,512.1 86.6,511.8 87.6,511.5 88.6,511.2 89.6,510.9 90.6,510.6 91.6,510.3 92.6,510.0 93.6,509.7 94.6,509.4 95.6,509.1 96.6,508.8 97.6,508.6 98.6,508.3 99.6,508.0 100.6,507.8 101.6,507.5 102.6,507.3 103.6,507.0 104.6,506.8 105.6,506.6 106.6,506.4 107.6,506.1 108.6,505.9 109.6,505.7 110.6,505.5 111.6,505.3 112.6,505.1 113.6,504.9 114.6,504.7 115.6,504.6 116.6,504.4 117.6,504.2 118.6,504.0 119.6,503.9 120.6,503.7 121.6,503.6 122.6,503.4 123.6,503.3 124.6,503.1 125.6,503.0 126.6,502.9 127.6,502.8 128.6,502.6 129.6,502.5 130.6,502.4 131.6,502.3 132.6,502.2 133.6,502.1 134.6,502.0 135.6,501.9 136.6,501.8 137.6,501.8 138.6,501.7 139.6,501.6 140.6,501.6 141.6,501.5 142.6,501.4 143.6,501.4 144.6,501.3 145.6,501.3 146.6,501.3 147.6,501.2 148.6,501.2 149.6,501.2 150.6,501.1 151.6,501.1 152.6,501.1 153.6,501.1 154.6,501.1 155.6,501.1 156.6,501.1 157.6,501.1 158.6,501.1 159.6,501.2 160.6,501.2 161.6,501.2 162.6,501.2 163.6,501.3 164.6,501.3 165.6,501.3 166.6,501.4 167.6,501.4 168.6,501.5 169.6,501.6 170.6,501.6 171.6,501.7 172.6,501.8 173.6,501.8 174.6,501.9 175.6,502.0 176.6,502.1 177.6,502.2 178.6,502.3 179.6,502.4 180.6,502.5 181.6,502.6 182.6,502.7 183.6,502.8 184.6,502.9 185.6,503.1 186.6,503.2 187.6,503.3 188.6,503.4 189.6,503.6 190.6,503.7 191.6,503.9 192.6,504.0 193.6,504.2 194.6,504.3 195.6,504.5 196.6,504.6 197.6,504.8 198.6,505.0 199.6,505.1 200.6,505.3 201.6,505.5 202.6,505.7 203.6,505.8 204.6,506.0 205.6,506.2 206.6,506.4 207.6,506.6 208.6,506.8 209.6,507.0 210.6,507.2 211.6,507.4 212.6,507.6 213.6,507.9 214.6,508.1 215.6,508.3 216.6,508.5 217.6,508.7 218.6,509.0 219.6,509.2 220.6,509.4 221.6,509.7 222.6,509.9 223.6,510.1 224.6,510.4 225.6,510.6 226.6,510.9 227.6,511.1 228.6,511.4 229.6,511.6 230.6,511.9 231.6,512.1 232.6,512.4 233.6,512.7 234.6,512.9 235.6,513.2 236.6,513.5 237.6,513.8 238.6,514.0 239.6,514.3 240.6,514.6 241.6,514.9 242.6,515.2 243.6,515.4 244.6,515.7 245.6,516.0 246.6,516.3 247.6,516.6 248.6,516.9 249.6,517.2 250.6,517.5 251.6,517.8 252.6,518.1 253.6,518.3 254.6,518.6 255.6,518.9 256.6,519.2 257.6,519.5 258.6,519.8 259.6,520.1 260.6,520.4 261.6,520.7 262.6,521.0 263.6,521.3 264.6,521.6 265.6,521.9 266.6,522.2 267.6,522.5 268.6,522.8 269.6,523.1 270.6,523.4 271.6,523.7 272.6,524.0 273.6,524.3 274.6,524.6 275.6,524.9 276.6,525.2 277.6,525.5 278.6,525.8 279.6,526.1 280.6,526.4 281.6,526.7 282.6,527.0 283.6,527.3 284.6,527.6 285.6,527.9 286.6,528.2 287.6,528.5 288.6,528.8 289.6,529.1 290.6,529.4 291.6,529.7 292.6,530.0 293.6,530.3 294.6,530.6 295.6,530.9 296.6,531.2 297.6,531.5 298.6,531.8 299.6,532.1 300.6,532.4 301.6,532.7 302.6,533.0 303.6,533.3 304.6,533.6 305.6,533.9 306.6,534.2 307.6,534.5 308.6,534.8 309.6,535.1 310.6,535.4 311.6,535.7 312.6,536.0 313.6,536.3 314.6,536.6 315.6,536.9 316.6,537.2 317.6,537.5 318.6,537.8 319.6,538.0 320.6,538.3 321.6,538.6 322.6,538.9 323.6,539.2 324.6,539.5 325.6,539.8 326.6,540.1 327.6,540.4 328.6,540.7 329.6,541.0 330.6,541.3 331.6,541.6 332.6,541.9 333.6,542.2 334.6,542.4 335.6,542.7 336.6,543.0 337.6,543.3 338.6,543.6 339.6,543.9 340.6,544.2 341.6,544.5 342.6,544.7 343.6,545.0 344.6,545.3 345.6,545.6 346.6,545.9 347.6,546.2 348.6,546.5 349.6,546.7 350.6,547.0 351.6,547.3 352.6,547.6 353.6,547.9 354.6,548.1 355.6,548.4 356.6,548.7 357.6,549.0 358.6,549.3 359.6,549.5 360.6,549.8 361.6,550.1 362.6,550.4 363.6,550.6 364.6,550.9 365.6,551.2 366.6,551.5 367.6,551.7 368.6,552.0 369.6,552.3 370.6,552.5 371.6,552.8 372.6,553.1 373.6,553.3 374.6,553.6 375.6,553.9 376.6,554.1 377.6,554.4 378.6,554.7 379.6,554.9 380.6,555.2 381.6,555.5 382.6,555.7 383.6,556.0 384.6,556.2 385.6,556.5 386.6,556.8 387.6,557.0 388.6,557.3 389.6,557.5 390.6,557.8 391.6,558.0 392.6,558.3 393.6,558.5 394.6,558.8 395.6,559.0 396.6,559.3 397.6,559.5 398.6,559.8 399.6,560.0 400.6,560.3 401.6,560.5 402.6,560.7 403.6,561.0 404.6,561.2 405.6,561.5 406.6,561.7 407.6,561.9 408.6,562.2 409.6,562.4 410.6,562.6 411.6,562.9 412.6,563.1 413.6,563.3 414.6,563.6 415.6,563.8 416.6,564.0 417.6,564.2 418.6,564.5 419.6,564.7 420.6,564.9 421.6,565.1 422.6,565.3 423.6,565.6 424.6,565.8 425.6,566.0 426.6,566.2 427.6,566.4 428.6,566.6 429.6,566.9 430.6,567.1 431.6,567.3 432.6,567.5 433.6,567.7 434.6,567.9 435.6,568.1 436.6,568.3 437.6,568.5 438.6,568.7 439.6,568.9 440.6,569.1 441.6,569.3 442.6,569.5 443.6,569.7 444.6,569.9 445.6,570.1 446.6,570.2 447.6,570.4 448.6,570.6 449.6,570.8 450.6,571.0 451.6,571.2 452.6,571.3 453.6,571.5 454.6,571.7 455.6,571.9 456.6,572.1 457.6,572.2 458.6,572.4 459.6,572.6 460.6,572.7 461.6,572.9 462.6,573.1 463.6,573.2 464.6,573.4 465.6,573.6 466.6,573.7 467.6,573.9 468.6,574.0 469.6,574.2 470.6,574.3 471.6,574.5 472.6,574.6 473.6,574.8 474.6,574.9 475.6,575.1 476.6,575.2 477.6,575.4 478.6,575.5 479.6,575.6 480.6,575.8 481.6,575.9 482.6,576.0 483.6,576.2 484.6,576.3 485.6,576.4 486.6,576.6 487.6,576.7 488.6,576.8 489.6,576.9 490.6,577.0 491.6,577.2 492.6,577.3 493.6,577.4 494.6,577.5 495.6,577.6 496.6,577.7 497.6,577.8 498.6,577.9 499.6,578.0 500.6,578.1 501.6,578.2 502.6,578.3 503.6,578.4 504.6,578.5 505.6,578.6 506.6,578.7 507.6,578.8 508.6,578.9 509.6,579.0 510.6,579.0 511.6,579.1 512.6,579.2 513.6,579.3 514.6,579.3 515.6,579.4 516.6,579.5 517.6,579.6 518.6,579.6 519.6,579.7 520.6,579.7 521.6,579.8 522.6,579.9 523.6,579.9 524.6,580.0 525.5,580.0" stroke="#BF812D" stroke-width="1.5"/>
<path d="M82.6,445.5 83.6,444.0 84.6,442.5 85.6,441.0 86.6,439.6 87.6,438.3 88.6,436.9 89.6,435.6 90.6,434.4 91.6,433.2 92.6,432.0 93.6,430.9 94.6,429.9 95.6,428.8 96.6,427.8 97.6,426.9 98.6,425.9 99.6,425.0 100.6,424.2 101.6,423.4 102.6,422.6 103.6,421.9 104.6,421.2 105.6,420.5 106.6,419.9 107.6,419.3 108.6,418.7 109.6,418.2 110.6,417.7 111.6,417.3 112.6,416.9 113.6,416.5 114.6,416.1 115.6,415.8 116.6,415.5 117.6,415.2 118.6,415.0 119.6,414.8 120.6,414.6 121.6,414.5 122.6,414.4 123.6,414.3 124.6,414.3 125.6,414.2 126.6,414.2 127.6,414.3 128.6,414.3 129.6,414.4 130.6,414.5 131.6,414.7 132.6,414.8 133.6,415.0 134.6,415.3 135.6,415.5 136.6,415.8 137.6,416.1 138.6,416.4 139.6,416.7 140.6,417.1 141.6,417.5 142.6,417.9 143.6,418.3 144.6,418.7 145.6,419.2 146.6,419.7 147.6,420.2 148.6,420.7 149.6,421.3 150.6,421.9 151.6,422.4 152.6,423.1 153.6,423.7 154.6,424.3 155.6,425.0 156.6,425.7 157.6,426.4 158.6,427.1 159.6,427.8 160.6,428.5 161.6,429.3 162.6,430.1 163.6,430.8 164.6,431.6 165.6,432.5 166.6,433.3 167.6,434.1 168.6,435.0 169.6,435.8 170.6,436.7 171.6,437.6 172.6,438.5 173.6,439.4 174.6,440.3 175.6,441.3 176.6,442.2 177.6,443.1 178.6,444.1 179.6,445.1 180.6,446.0 181.6,447.0 182.6,448.0 183.6,449.0 184.6,450.0 185.6,451.0 186.6,452.0 187.6,453.1 188.6,454.1 189.6,455.1 190.6,456.2 191.6,457.2 192.6,458.3 193.6,459.3 194.6,460.4 195.6,461.4 196.6,462.5 197.6,463.5 198.6,464.6 199.6,465.7 200.6,466.7 201.6,467.8 202.6,468.9 203.6,469.9 204.6,471.0 205.6,472.1 206.6,473.1 207.6,474.2 208.6,475.2 209.6,476.3 210.6,477.4 211.6,478.4 212.6,479.5 213.6,480.5 214.6,481.6 215.6,482.6 216.6,483.6 217.6,484.7 218.6,485.7 219.6,486.7 220.6,487.7 221.6,488.7 222.6,489.7 223.6,490.7 224.6,491.7 225.6,492.7 226.6,493.6 227.6,494.6 228.6,495.6 229.6,496.5 230.6,497.4 231.6,498.3 232.6,499.3 233.6,500.2 234.6,501.1 235.6,501.9 236.6,502.8 237.6,503.7 238.6,504.5 239.6,505.3 240.6,506.1 241.6,506.9 242.6,507.7 243.6,508.5 244.6,509.3 245.6,510.1 246.6,510.8 247.6,511.6 248.6,512.3 249.6,513.1 250.6,513.8 251.6,514.5 252.6,515.3 253.6,516.0 254.6,516.8 255.6,517.5 256.6,518.3 257.6,519.0 258.6,519.8 259.6,520.5 260.6,521.3 261.6,522.0 262.6,522.8 263.6,523.5 264.6,524.3 265.6,525.0 266.6,525.8 267.6,526.5 268.6,527.2 269.6,527.9 270.6,528.6 271.6,529.4 272.6,530.1 273.6,530.7 274.6,531.4 275.6,532.1 276.6,532.7 277.6,533.4 278.6,534.0 279.6,534.6 280.6,535.2 281.6,535.8 282.6,536.4 283.6,537.0 284.6,537.5 285.6,538.0 286.6,538.6 287.6,539.0 288.6,539.5 289.6,540.0 290.6,540.4 291.6,540.9 292.6,541.3 293.6,541.7 294.6,542.1 295.6,542.5 296.6,542.9 297.6,543.3 298.6,543.6 299.6,544.0 300.6,544.3 301.6,544.6 302.6,544.9 303.6,545.2 304.6,545.5 305.6,545.8 306.6,546.1 307.6,546.4 308.6,546.6 309.6,546.9 310.6,547.2 311.6,547.4 312.6,547.6 313.6,547.9 314.6,548.1 315.6,548.3 316.6,548.6 317.6,548.8 318.6,549.0 319.6,549.2 320.6,549.4 321.6,549.7 322.6,549.9 323.6,550.1 324.6,550.3 325.6,550.5 326.6,550.7 327.6,550.9 328.6,551.1 329.6,551.3 330.6,551.5 331.6,551.8 332.6,552.0 333.6,552.2 334.6,552.4 335.6,552.6 336.6,552.8 337.6,553.1 338.6,553.3 339.6,553.5 340.6,553.8 341.6,554.0 342.6,554.2 343.6,554.4 344.6,554.7 345.6,554.9 346.6,555.2 347.6,555.4 348.6,555.6 349.6,555.9 350.6,556.1 351.6,556.4 352.6,556.6 353.6,556.9 354.6,557.1 355.6,557.3 356.6,557.6 357.6,557.8 358.6,558.1 359.6,558.4 360.6,558.6 361.6,558.9 362.6,559.1 363.6,559.4 364.6,559.6 365.6,559.9 366.6,560.1 367.6,560.4 368.6,560.7 369.6,560.9 370.6,561.2 371.6,561.4 372.6,561.7 373.6,562.0 374.6,562.2 375.6,562.5 376.6,562.7 377.6,563.0 378.6,563.3 379.6,563.5 380.6,563.8 381.6,564.1 382.6,564.3 383.6,564.6 384.6,564.9 385.6,565.1 386.6,565.4 387.6,565.7 388.6,565.9 389.6,566.2 390.6,566.4 391.6,566.7 392.6,567.0 393.6,567.2 394.6,567.5 395.6,567.8 396.6,568.0 397.6,568.3 398.6,568.6 399.6,568.8 400.6,569.1 401.6,569.4 402.6,569.6 403.6,569.9 404.6,570.1 405.6,570.4 406.6,570.7 407.6,570.9 408.6,571.2 409.6,571.4 410.6,571.7 411.6,572.0 412.6,572.2 413.6,572.5 414.6,572.7 415.6,573.0 416.6,573.2 417.6,573.5 418.6,573.7 419.6,574.0 420.6,574.2 421.6,574.5 422.6,574.7 423.6,575.0 424.6,575.2 425.6,575.5 426.6,575.7 427.6,576.0 428.6,576.2 429.6,576.4 430.6,576.7 431.6,576.9 432.6,577.2 433.6,577.4 434.6,577.6 435.6,577.9 436.6,578.1 437.6,578.3 438.6,578.5 439.6,578.8 440.6,579.0 441.6,579.2 442.6,579.4 443.6,579.7 444.6,579.9 445.6,580.1 446.6,580.3 447.6,580.5 448.6,580.7 449.6,580.9 450.6,581.2 451.6,581.4 452.6,581.6 453.6,581.8 454.6,582.0 455.6,582.2 456.6,582.4 457.6,582.6 458.6,582.7 459.6,582.9 460.6,583.1 461.6,583.3 462.6,583.5 463.6,583.7 464.6,583.8 465.6,584.0 466.6,584.2 467.6,584.4 468.6,584.5 469.6,584.7 470.6,584.9 471.6,585.0 472.6,585.2 473.6,585.3 474.6,585.5 475.6,585.6 476.6,585.8 477.6,585.9 478.6,586.1 479.6,586.2 480.6,586.4 481.6,586.5 482.6,586.6 483.6,586.7 484.6,586.9 485.6,587.0 486.6,587.1 487.6,587.2 488.6,587.3 489.6,587.5 490.6,587.6 491.6,587.7 492.6,587.8 493.6,587.9 494.6,588.0 495.6,588.0 496.6,588.1 497.6,588.2 498.6,588.3 499.6,588.4 500.6,588.5 501.6,588.5 502.6,588.6 503.6,588.7 504.6,588.7 505.6,588.8 506.6,588.8 507.6,588.9 508.6,588.9 509.6,589.0 510.6,589.0 511.6,589.0 512.6,589.1 513.6,589.1 514.6,589.1 515.6,589.1 516.6,589.2 517.6,589.2 518.6,589.2 519.6,589.2 520.6,589.2 521.6,589.2 522.6,589.2 523.6,589.2 524.6,589.1 525.5,589.1" stroke="#DFC27D" stroke-width="1.5"/>
<path d="M82.6,418.7 83.6,417.3 84.6,416.0 85.6,414.7 86.6,413.5 87.6,412.3 88.6,411.2 89.6,410.1 90.6,409.0 91.6,408.0 92.6,407.0 93.6,406.0 94.6,405.1 95.6,404.3 96.6,403.4 97.6,402.7 98.6,401.9 99.6,401.2 100.6,400.5 101.6,399.9 102.6,399.3 103.6,398.7 104.6,398.2 105.6,397.7 106.6,397.3 107.6,396.9 108.6,396.5 109.6,396.2 110.6,395.9 111.6,395.6 112.6,395.4 113.6,395.2 114.6,395.1 115.6,395.0 116.6,394.9 117.6,394.9 118.6,394.9 119.6,394.9 120.6,395.0 121.6,395.1 122.6,395.2 123.6,395.4 124.6,395.6 125.6,395.8 126.6,396.1 127.6,396.4 128.6,396.7 129.6,397.1 130.6,397.5 131.6,398.0 132.6,398.4 133.6,399.0 134.6,399.5 135.6,400.1 136.6,400.7 137.6,401.3 138.6,402.0 139.6,402.7 140.6,403.4 141.6,404.2 142.6,405.0 143.6,405.8 144.6,406.7 145.6,407.6 146.6,408.5 147.6,409.4 148.6,410.4 149.6,411.3 150.6,412.3 151.6,413.4 152.6,414.4 153.6,415.5 154.6,416.5 155.6,417.6 156.6,418.8 157.6,419.9 158.6,421.0 159.6,422.2 160.6,423.3 161.6,424.5 162.6,425.7 163.6,426.9 164.6,428.1 165.6,429.3 166.6,430.5 167.6,431.7 168.6,432.9 169.6,434.2 170.6,435.4 171.6,436.6 172.6,437.8 173.6,439.1 174.6,440.3 175.6,441.5 176.6,442.7 177.6,443.9 178.6,445.1 179.6,446.4 180.6,447.6 181.6,448.8 182.6,450.0 183.6,451.2 184.6,452.4 185.6,453.6 186.6,454.8 187.6,456.0 188.6,457.2 189.6,458.3 190.6,459.5 191.6,460.7 192.6,461.9 193.6,463.1 194.6,464.3 195.6,465.4 196.6,466.6 197.6,467.8 198.6,468.9 199.6,470.1 200.6,471.3 201.6,472.4 202.6,473.6 203.6,474.7 204.6,475.9 205.6,477.0 206.6,478.2 207.6,479.3 208.6,480.4 209.6,481.6 210.6,482.7 211.6,483.8 212.6,484.9 213.6,486.0 214.6,487.2 215.6,488.3 216.6,489.4 217.6,490.5 218.6,491.6 219.6,492.7 220.6,493.8 221.6,494.8 222.6,495.9 223.6,497.0 224.6,498.1 225.6,499.1 226.6,500.2 227.6,501.2 228.6,502.3 229.6,503.3 230.6,504.3 231.6,505.3 232.6,506.3 233.6,507.4 234.6,508.3 235.6,509.3 236.6,510.3 237.6,511.3 238.6,512.2 239.6,513.2 240.6,514.1 241.6,515.1 242.6,516.0 243.6,516.9 244.6,517.8 245.6,518.7 246.6,519.6 247.6,520.4 248.6,521.3 249.6,522.1 250.6,523.0 251.6,523.8 252.6,524.6 253.6,525.4 254.6,526.1 255.6,526.9 256.6,527.7 257.6,528.4 258.6,529.1 259.6,529.8 260.6,530.5 261.6,531.2 262.6,531.9 263.6,532.6 264.6,533.2 265.6,533.9 266.6,534.5 267.6,535.1 268.6,535.7 269.6,536.3 270.6,536.9 271.6,537.5 272.6,538.0 273.6,538.6 274.6,539.1 275.6,539.7 276.6,540.2 277.6,540.7 278.6,541.2 279.6,541.7 280.6,542.2 281.6,542.7 282.6,543.2 283.6,543.7 284.6,544.1 285.6,544.6 286.6,545.0 287.6,545.4 288.6,545.9 289.6,546.3 290.6,546.7 291.6,547.1 292.6,547.5 293.6,547.9 294.6,548.3 295.6,548.7 296.6,549.1 297.6,549.4 298.6,549.8 299.6,550.2 300.6,550.5 301.6,550.9 302.6,551.2 303.6,551.6 304.6,551.9 305.6,552.3 306.6,552.6 307.6,552.9 308.6,553.2 309.6,553.6 310.6,553.9 311.6,554.2 312.6,554.5 313.6,554.8 314.6,555.1 315.6,555.4 316.6,555.8 317.6,556.1 318.6,556.4 319.6,556.7 320.6,557.0 321.6,557.3 322.6,557.6 323.6,557.9 324.6,558.2 325.6,558.5 326.6,558.8 327.6,559.1 328.6,559.4 329.6,559.7 330.6,560.0 331.6,560.3 332.6,560.6 333.6,560.9 334.6,561.2 335.6,561.5 336.6,561.7 337.6,562.0 338.6,562.3 339.6,562.6 340.6,562.9 341.6,563.2 342.6,563.5 343.6,563.8 344.6,564.1 345.6,564.4 346.6,564.7 347.6,565.0 348.6,565.3 349.6,565.6 350.6,565.9 351.6,566.2 352.6,566.5 353.6,566.8 354.6,567.1 355.6,567.4 356.6,567.7 357.6,568.0 358.6,568.3 359.6,568.5 360.6,568.8 361.6,569.1 362.6,569.4 363.6,569.7 364.6,570.0 365.6,570.3 366.6,570.5 367.6,570.8 368.6,571.1 369.6,571.4 370.6,571.7 371.6,571.9 372.6,572.2 373.6,572.5 374.6,572.8 375.6,573.0 376.6,573.3 377.6,573.6 378.6,573.8 379.6,574.1 380.6,574.4 381.6,574.6 382.6,574.9 383.6,575.1 384.6,575.4 385.6,575.7 386.6,575.9 387.6,576.2 388.6,576.4 389.6,576.7 390.6,576.9 391.6,577.1 392.6,577.4 393.6,577.6 394.6,577.9 395.6,578.1 396.6,578.3 397.6,578.6 398.6,578.8 399.6,579.0 400.6,579.3 401.6,579.5 402.6,579.7 403.6,579.9 404.6,580.1 405.6,580.3 406.6,580.6 407.6,580.8 408.6,581.0 409.6,581.2 410.6,581.4 411.6,581.6 412.6,581.8 413.6,582.0 414.6,582.2 415.6,582.4 416.6,582.5 417.6,582.7 418.6,582.9 419.6,583.1 420.6,583.3 421.6,583.4 422.6,583.6 423.6,583.8 424.6,583.9 425.6,584.1 426.6,584.2 427.6,584.4 428.6,584.5 429.6,584.7 430.6,584.8 431.6,585.0 432.6,585.1 433.6,585.2 434.6,585.4 435.6,585.5 436.6,585.6 437.6,585.8 438.6,585.9 439.6,586.0 440.6,586.1 441.6,586.2 442.6,586.3 443.6,586.4 444.6,586.6 445.6,586.7 446.6,586.8 447.6,586.9 448.6,586.9 449.6,587.0 450.6,587.1 451.6,587.2 452.6,587.3 453.6,587.4 454.6,587.5 455.6,587.5 456.6,587.6 457.6,587.7 458.6,587.8 459.6,587.8 460.6,587.9 461.6,588.0 462.6,588.0 463.6,588.1 464.6,588.2 465.6,588.2 466.6,588.3 467.6,588.3 468.6,588.4 469.6,588.4 470.6,588.5 471.6,588.5 472.6,588.6 473.6,588.6 474.6,588.6 475.6,588.7 476.6,588.7 477.6,588.8 478.6,588.8 479.6,588.8 480.6,588.8 481.6,588.9 482.6,588.9 483.6,588.9 484.6,588.9 485.6,589.0 486.6,589.0 487.6,589.0 488.6,589.0 489.6,589.0 490.6,589.1 491.6,589.1 492.6,589.1 493.6,589.1 494.6,589.1 495.6,589.1 496.6,589.1 497.6,589.1 498.6,589.1 499.6,589.1 500.6,589.1 501.6,589.1 502.6,589.1 503.6,589.1 504.6,589.1 505.6,589.1 506.6,589.1 507.6,589.1 508.6,589.1 509.6,589.1 510.6,589.1 511.6,589.1 512.6,589.1 513.6,589.1 514.6,589.1 515.6,589.1 516.6,589.0 517.6,589.0 518.6,589.0 519.6,589.0 520.6,589.0 521.6,589.0 522.6,589.0 523.6,588.9 524.6,588.9 525.5,588.9" stroke="#F6E8C3" stroke-width="1.5"/>
<path d="M82.6,392.0 83.6,390.0 84.6,388.1 85.6,386.3 86.6,384.6 87.6,382.9 88.6,381.3 89.6,379.8 90.6,378.3 91.6,376.9 92.6,375.6 93.6,374.3 94.6,373.1 95.6,371.9 96.6,370.8 97.6,369.8 98.6,368.8 99.6,368.0 100.6,367.1 101.6,366.4 102.6,365.7 103.6,365.0 104.6,364.4 105.6,363.9 106.6,363.5 107.6,363.1 108.6,362.8 109.6,362.5 110.6,362.3 111.6,362.1 112.6,362.1 113.6,362.1 114.6,362.1 115.6,362.2 116.6,362.4 117.6,362.6 118.6,362.9 119.6,363.2 120.6,363.6 121.6,364.1 122.6,364.6 123.6,365.2 124.6,365.8 125.6,366.4 126.6,367.2 127.6,367.9 128.6,368.7 129.6,369.6 130.6,370.5 131.6,371.5 132.6,372.5 133.6,373.6 134.6,374.7 135.6,375.8 136.6,377.0 137.6,378.2 138.6,379.5 139.6,380.8 140.6,382.1 141.6,383.5 142.6,384.9 143.6,386.4 144.6,387.9 145.6,389.4 146.6,391.0 147.6,392.6 148.6,394.2 149.6,395.8 150.6,397.5 151.6,399.2 152.6,400.9 153.6,402.6 154.6,404.4 155.6,406.2 156.6,408.0 157.6,409.8 158.6,411.6 159.6,413.4 160.6,415.3 161.6,417.1 162.6,419.0 163.6,420.9 164.6,422.7 165.6,424.6 166.6,426.5 167.6,428.4 168.6,430.3 169.6,432.1 170.6,434.0 171.6,435.9 172.6,437.8 173.6,439.6 174.6,441.5 175.6,443.3 176.6,445.2 177.6,447.0 178.6,448.8 179.6,450.6 180.6,452.3 181.6,454.1 182.6,455.8 183.6,457.5 184.6,459.2 185.6,460.9 186.6,462.5 187.6,464.1 188.6,465.7 189.6,467.3 190.6,468.9 191.6,470.5 192.6,472.0 193.6,473.5 194.6,475.1 195.6,476.5 196.6,478.0 197.6,479.5 198.6,480.9 199.6,482.4 200.6,483.8 201.6,485.2 202.6,486.6 203.6,488.0 204.6,489.3 205.6,490.7 206.6,492.0 207.6,493.3 208.6,494.6 209.6,495.9 210.6,497.2 211.6,498.5 212.6,499.7 213.6,500.9 214.6,502.2 215.6,503.3 216.6,504.5 217.6,505.6 218.6,506.8 219.6,507.9 220.6,508.9 221.6,510.0 222.6,511.0 223.6,512.0 224.6,513.0 225.6,513.9 226.6,514.8 227.6,515.7 228.6,516.5 229.6,517.4 230.6,518.2 231.6,518.9 232.6,519.7 233.6,520.4 234.6,521.2 235.6,521.9 236.6,522.6 237.6,523.3 238.6,524.1 239.6,524.8 240.6,525.5 241.6,526.3 242.6,527.0 243.6,527.8 244.6,528.5 245.6,529.3 246.6,530.0 247.6,530.8 248.6,531.6 249.6,532.3 250.6,533.1 251.6,533.8 252.6,534.5 253.6,535.2 254.6,535.9 255.6,536.6 256.6,537.3 257.6,538.0 258.6,538.6 259.6,539.2 260.6,539.8 261.6,540.4 262.6,541.0 263.6,541.6 264.6,542.2 265.6,542.7 266.6,543.3 267.6,543.8 268.6,544.3 269.6,544.8 270.6,545.3 271.6,545.8 272.6,546.3 273.6,546.7 274.6,547.2 275.6,547.6 276.6,548.0 277.6,548.5 278.6,548.9 279.6,549.3 280.6,549.7 281.6,550.0 282.6,550.4 283.6,550.8 284.6,551.1 285.6,551.5 286.6,551.8 287.6,552.1 288.6,552.5 289.6,552.8 290.6,553.1 291.6,553.4 292.6,553.7 293.6,554.0 294.6,554.2 295.6,554.5 296.6,554.8 297.6,555.1 298.6,555.3 299.6,555.6 300.6,555.8 301.6,556.0 302.6,556.3 303.6,556.5 304.6,556.7 305.6,557.0 306.6,557.2 307.6,557.4 308.6,557.6 309.6,557.8 310.6,558.0 311.6,558.2 312.6,558.4 313.6,558.6 314.6,558.8 315.6,559.0 316.6,559.2 317.6,559.4 318.6,559.6 319.6,559.8 320.6,559.9 321.6,560.1 322.6,560.3 323.6,560.5 324.6,560.7 325.6,560.8 326.6,561.0 327.6,561.2 328.6,561.4 329.6,561.6 330.6,561.7 331.6,561.9 332.6,562.1 333.6,562.3 334.6,562.5 335.6,562.7 336.6,562.9 337.6,563.0 338.6,563.2 339.6,563.4 340.6,563.6 341.6,563.8 342.6,564.0 343.6,564.2 344.6,564.4 345.6,564.6 346.6,564.7 347.6,564.9 348.6,565.1 349.6,565.3 350.6,565.5 351.6,565.7 352.6,565.9 353.6,566.1 354.6,566.3 355.6,566.5 356.6,566.7 357.6,566.9 358.6,567.1 359.6,567.3 360.6,567.5 361.6,567.7 362.6,567.9 363.6,568.1 364.6,568.3 365.6,568.5 366.6,568.7 367.6,568.9 368.6,569.0 369.6,569.2 370.6,569.4 371.6,569.6 372.6,569.8 373.6,570.0 374.6,570.2 375.6,570.4 376.6,570.6 377.6,570.8 378.6,571.0 379.6,571.2 380.6,571.4 381.6,571.6 382.6,571.8 383.6,572.0 384.6,572.2 385.6,572.4 386.6,572.6 387.6,572.8 388.6,573.0 389.6,573.2 390.6,573.3 391.6,573.5 392.6,573.7 393.6,573.9 394.6,574.1 395.6,574.3 396.6,574.5 397.6,574.7 398.6,574.9 399.6,575.0 400.6,575.2 401.6,575.4 402.6,575.6 403.6,575.8 404.6,576.0 405.6,576.2 406.6,576.3 407.6,576.5 408.6,576.7 409.6,576.9 410.6,577.1 411.6,577.2 412.6,577.4 413.6,577.6 414.6,577.8 415.6,577.9 416.6,578.1 417.6,578.3 418.6,578.4 419.6,578.6 420.6,578.8 421.6,579.0 422.6,579.1 423.6,579.3 424.6,579.4 425.6,579.6 426.6,579.8 427.6,579.9 428.6,580.1 429.6,580.2 430.6,580.4 431.6,580.6 432.6,580.7 433.6,580.9 434.6,581.0 435.6,581.2 436.6,581.3 437.6,581.5 438.6,581.6 439.6,581.7 440.6,581.9 441.6,582.0 442.6,582.2 443.6,582.3 444.6,582.4 445.6,582.6 446.6,582.7 447.6,582.8 448.6,583.0 449.6,583.1 450.6,583.2 451.6,583.3 452.6,583.5 453.6,583.6 454.6,583.7 455.6,583.8 456.6,583.9 457.6,584.0 458.6,584.1 459.6,584.3 460.6,584.4 461.6,584.5 462.6,584.6 463.6,584.7 464.6,584.8 465.6,584.9 466.6,585.0 467.6,585.1 468.6,585.1 469.6,585.2 470.6,585.3 471.6,585.4 472.6,585.5 473.6,585.6 474.6,585.6 475.6,585.7 476.6,585.8 477.6,585.9 478.6,585.9 479.6,586.0 480.6,586.0 481.6,586.1 482.6,586.2 483.6,586.2 484.6,586.3 485.6,586.3 486.6,586.4 487.6,586.4 488.6,586.5 489.6,586.5 490.6,586.5 491.6,586.6 492.6,586.6 493.6,586.6 494.6,586.7 495.6,586.7 496.6,586.7 497.6,586.7 498.6,586.7 499.6,586.8 500.6,586.8 501.6,586.8 502.6,586.8 503.6,586.8 504.6,586.8 505.6,586.8 506.6,586.8 507.6,586.8 508.6,586.7 509.6,586.7 510.6,586.7 511.6,586.7 512.6,586.7 513.6,586.6 514.6,586.6 515.6,586.6 516.6,586.5 517.6,586.5 518.6,586.5 519.6,586.4 520.6,586.4 521.6,586.3 522.6,586.2 523.6,586.2 524.6,586.1 525.5,586.1" stroke="#80CDC1" stroke-width="1.5"/>
<path d="M82.6,388.3 83.6,385.8 84.6,383.5 85.6,381.2 86.6,379.0 87.6,377.0 88.6,375.0 89.6,373.1 90.6,371.4 91.6,369.7 92.6,368.1 93.6,366.5 94.6,365.1 95.6,363.8 96.6,362.5 97.6,361.3 98.6,360.2 99.6,359.2 100.6,358.3 101.6,357.4 102.6,356.6 103.6,355.9 104.6,355.3 105.6,354.7 106.6,354.2 107.6,353.8 108.6,353.4 109.6,353.1 110.6,352.9 111.6,352.7 112.6,352.6 113.6,352.6 114.6,352.6 115.6,352.6 116.6,352.8 117.6,353.0 118.6,353.2 119.6,353.6 120.6,354.0 121.6,354.4 122.6,355.0 123.6,355.6 124.6,356.3 125.6,357.0 126.6,357.9 127.6,358.8 128.6,359.8 129.6,360.9 130.6,362.1 131.6,363.3 132.6,364.7 133.6,366.1 134.6,367.5 135.6,369.1 136.6,370.7 137.6,372.3 138.6,374.0 139.6,375.7 140.6,377.5 141.6,379.3 142.6,381.0 143.6,382.8 144.6,384.7 145.6,386.5 146.6,388.3 147.6,390.2 148.6,392.0 149.6,393.9 150.6,395.7 151.6,397.6 152.6,399.5 153.6,401.4 154.6,403.3 155.6,405.1 156.6,407.0 157.6,408.9 158.6,410.8 159.6,412.7 160.6,414.6 161.6,416.5 162.6,418.4 163.6,420.3 164.6,422.2 165.6,424.1 166.6,426.0 167.6,427.8 168.6,429.7 169.6,431.6 170.6,433.4 171.6,435.3 172.6,437.1 173.6,438.9 174.6,440.8 175.6,442.6 176.6,444.4 177.6,446.2 178.6,447.9 179.6,449.7 180.6,451.4 181.6,453.1 182.6,454.9 183.6,456.6 184.6,458.2 185.6,459.9 186.6,461.5 187.6,463.2 188.6,464.8 189.6,466.4 190.6,468.0 191.6,469.5 192.6,471.1 193.6,472.6 194.6,474.1 195.6,475.6 196.6,477.1 197.6,478.5 198.6,480.0 199.6,481.4 200.6,482.8 201.6,484.2 202.6,485.6 203.6,486.9 204.6,488.2 205.6,489.6 206.6,490.9 207.6,492.1 208.6,493.4 209.6,494.6 210.6,495.9 211.6,497.1 212.6,498.3 213.6,499.4 214.6,500.6 215.6,501.7 216.6,502.8 217.6,503.9 218.6,505.0 219.6,506.0 220.6,507.0 221.6,508.1 222.6,509.0 223.6,510.0 224.6,511.0 225.6,511.9 226.6,512.8 227.6,513.7 228.6,514.6 229.6,515.4 230.6,516.3 231.6,517.1 232.6,517.9 233.6,518.6 234.6,519.4 235.6,520.1 236.6,520.8 237.6,521.5 238.6,522.2 239.6,522.9 240.6,523.6 241.6,524.2 242.6,524.8 243.6,525.4 244.6,526.0 245.6,526.6 246.6,527.1 247.6,527.7 248.6,528.2 249.6,528.7 250.6,529.3 251.6,529.8 252.6,530.2 253.6,530.7 254.6,531.2 255.6,531.6 256.6,532.1 257.6,532.5 258.6,532.9 259.6,533.3 260.6,533.7 261.6,534.1 262.6,534.5 263.6,534.9 264.6,535.2 265.6,535.6 266.6,535.9 267.6,536.3 268.6,536.6 269.6,537.0 270.6,537.3 271.6,537.6 272.6,537.9 273.6,538.2 274.6,538.5 275.6,538.8 276.6,539.1 277.6,539.4 278.6,539.7 279.6,540.0 280.6,540.3 281.6,540.6 282.6,540.8 283.6,541.1 284.6,541.4 285.6,541.7 286.6,542.0 287.6,542.2 288.6,542.5 289.6,542.8 290.6,543.1 291.6,543.3 292.6,543.6 293.6,543.9 294.6,544.2 295.6,544.4 296.6,544.7 297.6,545.0 298.6,545.2 299.6,545.5 300.6,545.8 301.6,546.1 302.6,546.3 303.6,546.6 304.6,546.9 305.6,547.1 306.6,547.4 307.6,547.7 308.6,548.0 309.6,548.2 310.6,548.5 311.6,548.8 312.6,549.1 313.6,549.3 314.6,549.6 315.6,549.9 316.6,550.2 317.6,550.4 318.6,550.7 319.6,551.0 320.6,551.3 321.6,551.6 322.6,551.9 323.6,552.2 324.6,552.4 325.6,552.7 326.6,553.0 327.6,553.3 328.6,553.6 329.6,553.9 330.6,554.2 331.6,554.5 332.6,554.8 333.6,555.1 334.6,555.5 335.6,555.8 336.6,556.1 337.6,556.4 338.6,556.7 339.6,557.0 340.6,557.3 341.6,557.7 342.6,558.0 343.6,558.3 344.6,558.6 345.6,558.9 346.6,559.3 347.6,559.6 348.6,559.9 349.6,560.3 350.6,560.6 351.6,560.9 352.6,561.2 353.6,561.6 354.6,561.9 355.6,562.2 356.6,562.6 357.6,562.9 358.6,563.2 359.6,563.6 360.6,563.9 361.6,564.2 362.6,564.6 363.6,564.9 364.6,565.2 365.6,565.6 366.6,565.9 367.6,566.2 368.6,566.6 369.6,566.9 370.6,567.2 371.6,567.5 372.6,567.9 373.6,568.2 374.6,568.5 375.6,568.9 376.6,569.2 377.6,569.5 378.6,569.8 379.6,570.2 380.6,570.5 381.6,570.8 382.6,571.1 383.6,571.4 384.6,571.7 385.6,572.1 386.6,572.4 387.6,572.7 388.6,573.0 389.6,573.3 390.6,573.6 391.6,573.9 392.6,574.2 393.6,574.5 394.6,574.8 395.6,575.1 396.6,575.4 397.6,575.7 398.6,576.0 399.6,576.3 400.6,576.5 401.6,576.8 402.6,577.1 403.6,577.4 404.6,577.7 405.6,577.9 406.6,578.2 407.6,578.5 408.6,578.7 409.6,579.0 410.6,579.2 411.6,579.5 412.6,579.7 413.6,580.0 414.6,580.2 415.6,580.5 416.6,580.7 417.6,580.9 418.6,581.2 419.6,581.4 420.6,581.6 421.6,581.8 422.6,582.0 423.6,582.3 424.6,582.5 425.6,582.7 426.6,582.9 427.6,583.0 428.6,583.2 429.6,583.4 430.6,583.6 431.6,583.8 432.6,584.0 433.6,584.1 434.6,584.3 435.6,584.5 436.6,584.6 437.6,584.8 438.6,584.9 439.6,585.1 440.6,585.2 441.6,585.4 442.6,585.5 443.6,585.6 444.6,585.8 445.6,585.9 446.6,586.0 447.6,586.2 448.6,586.3 449.6,586.4 450.6,586.5 451.6,586.6 452.6,586.8 453.6,586.9 454.6,587.0 455.6,587.1 456.6,587.2 457.6,587.3 458.6,587.4 459.6,587.5 460.6,587.6 461.6,587.7 462.6,587.8 463.6,587.9 464.6,588.0 465.6,588.1 466.6,588.1 467.6,588.2 468.6,588.3 469.6,588.4 470.6,588.5 471.6,588.6 472.6,588.6 473.6,588.7 474.6,588.8 475.6,588.9 476.6,588.9 477.6,589.0 478.6,589.1 479.6,589.2 480.6,589.2 481.6,589.3 482.6,589.4 483.6,589.5 484.6,589.5 485.6,589.6 486.6,589.7 487.6,589.7 488.6,589.8 489.6,589.9 490.6,589.9 491.6,590.0 492.6,590.1 493.6,590.2 494.6,590.2 495.6,590.3 496.6,590.4 497.6,590.4 498.6,590.5 499.6,590.6 500.6,590.7 501.6,590.7 502.6,590.8 503.6,590.9 504.6,591.0 505.6,591.0 506.6,591.1 507.6,591.2 508.6,591.3 509.6,591.4 510.6,591.5 511.6,591.5 512.6,591.6 513.6,591.7 514.6,591.8 515.6,591.9 516.6,592.0 517.6,592.1 518.6,592.2 519.6,592.3 520.6,592.4 521.6,592.5 522.6,592.6 523.6,592.7 524.6,592.8 525.5,592.9" stroke="#35978F" stroke-width="1.5"/>
<path d="M82.6,486.1 83.6,485.5 84.6,484.9 85.6,484.3 86.6,483.7 87.6,483.1 88.6,482.6 89.6,482.0 90.6,481.5 91.6,481.0 92.6,480.5 93.6,480.0 94.6,479.5 95.6,479.1 96.6,478.6 97.6,478.1 98.6,477.7 99.6,477.3 100.6,476.9 101.6,476.4 102.6,476.1 103.6,475.7 104.6,475.3 105.6,474.9 106.6,474.6 107.6,474.2 108.6,473.9 109.6,473.6 110.6,473.3 111.6,473.0 112.6,472.7 113.6,472.4 114.6,472.1 115.6,471.9 116.6,471.6 117.6,471.4 118.6,471.2 119.6,471.0 120.6,470.8 121.6,470.6 122.6,470.4 123.6,470.2 124.6,470.0 125.6,469.9 126.6,469.7 127.6,469.6 128.6,469.5 129.6,469.4 130.6,469.3 131.6,469.2 132.6,469.1 133.6,469.0 134.6,469.0 135.6,468.9 136.6,468.9 137.6,468.8 138.6,468.8 139.6,468.8 140.6,468.8 141.6,468.8 142.6,468.8 143.6,468.8 144.6,468.9 145.6,468.9 146.6,469.0 147.6,469.0 148.6,469.1 149.6,469.2 150.6,469.3 151.6,469.4 152.6,469.5 153.6,469.6 154.6,469.7 155.6,469.9 156.6,470.0 157.6,470.2 158.6,470.3 159.6,470.5 160.6,470.7 161.6,470.9 162.6,471.1 163.6,471.3 164.6,471.5 165.6,471.7 166.6,471.9 167.6,472.2 168.6,472.4 169.6,472.7 170.6,473.0 171.6,473.2 172.6,473.5 173.6,473.8 174.6,474.1 175.6,474.4 176.6,474.7 177.6,475.0 178.6,475.3 179.6,475.6 180.6,476.0 181.6,476.3 182.6,476.7 183.6,477.0 184.6,477.4 185.6,477.8 186.6,478.1 187.6,478.5 188.6,478.9 189.6,479.3 190.6,479.7 191.6,480.1 192.6,480.5 193.6,480.9 194.6,481.3 195.6,481.7 196.6,482.2 197.6,482.6 198.6,483.1 199.6,483.5 200.6,484.0 201.6,484.4 202.6,484.9 203.6,485.3 204.6,485.8 205.6,486.3 206.6,486.8 207.6,487.2 208.6,487.7 209.6,488.2 210.6,488.7 211.6,489.2 212.6,489.7 213.6,490.2 214.6,490.7 215.6,491.2 216.6,491.8 217.6,492.3 218.6,492.8 219.6,493.3 220.6,493.8 221.6,494.4 222.6,494.9 223.6,495.5 224.6,496.0 225.6,496.5 226.6,497.1 227.6,497.6 228.6,498.2 229.6,498.7 230.6,499.3 231.6,499.8 232.6,500.4 233.6,501.0 234.6,501.5 235.6,502.1 236.6,502.7 237.6,503.2 238.6,503.8 239.6,504.4 240.6,504.9 241.6,505.5 242.6,506.1 243.6,506.7 244.6,507.2 245.6,507.8 246.6,508.4 247.6,509.0 248.6,509.5 249.6,510.1 250.6,510.7 251.6,511.3 252.6,511.8 253.6,512.4 254.6,513.0 255.6,513.6 256.6,514.1 257.6,514.7 258.6,515.3 259.6,515.9 260.6,516.4 261.6,517.0 262.6,517.6 263.6,518.1 264.6,518.7 265.6,519.3 266.6,519.8 267.6,520.4 268.6,520.9 269.6,521.5 270.6,522.0 271.6,522.6 272.6,523.1 273.6,523.7 274.6,524.2 275.6,524.7 276.6,525.3 277.6,525.8 278.6,526.3 279.6,526.8 280.6,527.3 281.6,527.8 282.6,528.3 283.6,528.8 284.6,529.3 285.6,529.8 286.6,530.3 287.6,530.7 288.6,531.2 289.6,531.6 290.6,532.1 291.6,532.6 292.6,533.0 293.6,533.4 294.6,533.9 295.6,534.3 296.6,534.7 297.6,535.1 298.6,535.6 299.6,536.0 300.6,536.4 301.6,536.8 302.6,537.2 303.6,537.6 304.6,538.0 305.6,538.3 306.6,538.7 307.6,539.1 308.6,539.5 309.6,539.8 310.6,540.2 311.6,540.6 312.6,540.9 313.6,541.3 314.6,541.6 315.6,542.0 316.6,542.3 317.6,542.6 318.6,543.0 319.6,543.3 320.6,543.6 321.6,544.0 322.6,544.3 323.6,544.6 324.6,544.9 325.6,545.2 326.6,545.5 327.6,545.9 328.6,546.2 329.6,546.5 330.6,546.8 331.6,547.1 332.6,547.4 333.6,547.6 334.6,547.9 335.6,548.2 336.6,548.5 337.6,548.8 338.6,549.1 339.6,549.3 340.6,549.6 341.6,549.9 342.6,550.2 343.6,550.4 344.6,550.7 345.6,551.0 346.6,551.2 347.6,551.5 348.6,551.7 349.6,552.0 350.6,552.3 351.6,552.5 352.6,552.8 353.6,553.0 354.6,553.2 355.6,553.5 356.6,553.7 357.6,554.0 358.6,554.2 359.6,554.4 360.6,554.7 361.6,554.9 362.6,555.1 363.6,555.4 364.6,555.6 365.6,555.8 366.6,556.1 367.6,556.3 368.6,556.5 369.6,556.7 370.6,556.9 371.6,557.2 372.6,557.4 373.6,557.6 374.6,557.8 375.6,558.0 376.6,558.2 377.6,558.4 378.6,558.6 379.6,558.8 380.6,559.0 381.6,559.2 382.6,559.4 383.6,559.6 384.6,559.8 385.6,560.0 386.6,560.2 387.6,560.4 388.6,560.6 389.6,560.8 390.6,561.0 391.6,561.2 392.6,561.4 393.6,561.6 394.6,561.8 395.6,562.0 396.6,562.1 397.6,562.3 398.6,562.5 399.6,562.7 400.6,562.9 401.6,563.1 402.6,563.3 403.6,563.4 404.6,563.6 405.6,563.8 406.6,564.0 407.6,564.2 408.6,564.3 409.6,564.5 410.6,564.7 411.6,564.9 412.6,565.1 413.6,565.2 414.6,565.4 415.6,565.6 416.6,565.8 417.6,565.9 418.6,566.1 419.6,566.3 420.6,566.5 421.6,566.6 422.6,566.8 423.6,567.0 424.6,567.2 425.6,567.3 426.6,567.5 427.6,567.7 428.6,567.8 429.6,568.0 430.6,568.2 431.6,568.4 432.6,568.5 433.6,568.7 434.6,568.9 435.6,569.1 436.6,569.2 437.6,569.4 438.6,569.6 439.6,569.7 440.6,569.9 441.6,570.1 442.6,570.3 443.6,570.4 444.6,570.6 445.6,570.8 446.6,570.9 447.6,571.1 448.6,571.3 449.6,571.4 450.6,571.6 451.6,571.8 452.6,571.9 453.6,572.1 454.6,572.3 455.6,572.4 456.6,572.6 457.6,572.8 458.6,572.9 459.6,573.1 460.6,573.2 461.6,573.4 462.6,573.6 463.6,573.7 464.6,573.9 465.6,574.0 466.6,574.2 467.6,574.4 468.6,574.5 469.6,574.7 470.6,574.8 471.6,575.0 472.6,575.1 473.6,575.3 474.6,575.4 475.6,575.6 476.6,575.7 477.6,575.9 478.6,576.0 479.6,576.2 480.6,576.3 481.6,576.5 482.6,576.6 483.6,576.8 484.6,576.9 485.6,577.0 486.6,577.2 487.6,577.3 488.6,577.5 489.6,577.6 490.6,577.7 491.6,577.9 492.6,578.0 493.6,578.1 494.6,578.3 495.6,578.4 496.6,578.5 497.6,578.6 498.6,578.8 499.6,578.9 500.6,579.0 501.6,579.1 502.6,579.3 503.6,579.4 504.6,579.5 505.6,579.6 506.6,579.7 507.6,579.8 508.6,580.0 509.6,580.1 510.6,580.2 511.6,580.3 512.6,580.4 513.6,580.5 514.6,580.6 515.6,580.7 516.6,580.8 517.6,580.9 518.6,581.0 519.6,581.1 520.6,581.2 521.6,581.3 522.6,581.4 523.6,581.5 524.6,581.6 525.5,581.6" stroke="#BF812D" stroke-width="1.5"/>
<path d="M82.6,403.7 83.6,402.5 84.6,401.3 85.6,400.2 86.6,399.1 87.6,398.1 88.6,397.1 89.6,396.3 90.6,395.4 91.6,394.6 92.6,393.9 93.6,393.2 94.6,392.6 95.6,392.1 96.6,391.5 97.6,391.1 98.6,390.7 99.6,390.3 100.6,390.0 101.6,389.7 102.6,389.5 103.6,389.3 104.6,389.2 105.6,389.1 106.6,389.0 107.6,389.0 108.6,389.1 109.6,389.2 110.6,389.3 111.6,389.4 112.6,389.6 113.6,389.9 114.6,390.2 115.6,390.5 116.6,390.8 117.6,391.2 118.6,391.7 119.6,392.1 120.6,392.6 121.6,393.2 122.6,393.7 123.6,394.3 124.6,394.9 125.6,395.6 126.6,396.3 127.6,397.0 128.6,397.7 129.6,398.5 130.6,399.3 131.6,400.1 132.6,400.9 133.6,401.8 134.6,402.7 135.6,403.6 136.6,404.5 137.6,405.5 138.6,406.5 139.6,407.5 140.6,408.5 141.6,409.5 142.6,410.5 143.6,411.6 144.6,412.7 145.6,413.8 146.6,414.9 147.6,416.0 148.6,417.1 149.6,418.3 150.6,419.5 151.6,420.7 152.6,422.0 153.6,423.3 154.6,424.6 155.6,426.0 156.6,427.4 157.6,428.8 158.6,430.2 159.6,431.7 160.6,433.1 161.6,434.6 162.6,436.1 163.6,437.6 164.6,439.1 165.6,440.6 166.6,442.1 167.6,443.6 168.6,445.1 169.6,446.6 170.6,448.1 171.6,449.5 172.6,451.0 173.6,452.4 174.6,453.9 175.6,455.3 176.6,456.7 177.6,458.1 178.6,459.6 179.6,461.0 180.6,462.4 181.6,463.9 182.6,465.3 183.6,466.8 184.6,468.3 185.6,469.7 186.6,471.2 187.6,472.7 188.6,474.2 189.6,475.7 190.6,477.1 191.6,478.6 192.6,480.1 193.6,481.5 194.6,483.0 195.6,484.5 196.6,485.9 197.6,487.3 198.6,488.8 199.6,490.2 200.6,491.6 201.6,492.9 202.6,494.3 203.6,495.7 204.6,497.0 205.6,498.3 206.6,499.6 207.6,500.8 208.6,502.1 209.6,503.3 210.6,504.5 211.6,505.7 212.6,506.9 213.6,508.1 214.6,509.2 215.6,510.3 216.6,511.5 217.6,512.5 218.6,513.6 219.6,514.7 220.6,515.7 221.6,516.8 222.6,517.8 223.6,518.8 224.6,519.8 225.6,520.8 226.6,521.8 227.6,522.7 228.6,523.7 229.6,524.6 230.6,525.5 231.6,526.4 232.6,527.3 233.6,528.2 234.6,529.1 235.6,530.0 236.6,530.9 237.6,531.7 238.6,532.6 239.6,533.4 240.6,534.2 241.6,535.1 242.6,535.9 243.6,536.7 244.6,537.5 245.6,538.3 246.6,539.1 247.6,539.9 248.6,540.6 249.6,541.4 250.6,542.2 251.6,542.9 252.6,543.7 253.6,544.4 254.6,545.1 255.6,545.8 256.6,546.5 257.6,547.2 258.6,547.9 259.6,548.6 260.6,549.3 261.6,550.0 262.6,550.6 263.6,551.3 264.6,551.9 265.6,552.6 266.6,553.2 267.6,553.8 268.6,554.4 269.6,555.0 270.6,555.6 271.6,556.2 272.6,556.8 273.6,557.3 274.6,557.9 275.6,558.4 276.6,559.0 277.6,559.5 278.6,560.0 279.6,560.6 280.6,561.1 281.6,561.6 282.6,562.1 283.6,562.5 284.6,563.0 285.6,563.5 286.6,564.0 287.6,564.4 288.6,564.9 289.6,565.3 290.6,565.7 291.6,566.2 292.6,566.6 293.6,567.0 294.6,567.4 295.6,567.8 296.6,568.2 297.6,568.6 298.6,569.0 299.6,569.4 300.6,569.7 301.6,570.1 302.6,570.5 303.6,570.8 304.6,571.2 305.6,571.5 306.6,571.9 307.6,572.2 308.6,572.5 309.6,572.9 310.6,573.2 311.6,573.5 312.6,573.8 313.6,574.1 314.6,574.4 315.6,574.7 316.6,575.0 317.6,575.3 318.6,575.6 319.6,575.8 320.6,576.1 321.6,576.4 322.6,576.6 323.6,576.9 324.6,577.2 325.6,577.4 326.6,577.7 327.6,577.9 328.6,578.2 329.6,578.4 330.6,578.7 331.6,578.9 332.6,579.1 333.6,579.4 334.6,579.6 335.6,579.8 336.6,580.0 337.6,580.2 338.6,580.5 339.6,580.7 340.6,580.9 341.6,581.1 342.6,581.3 343.6,581.5 344.6,581.7 345.6,581.9 346.6,582.1 347.6,582.3 348.6,582.4 349.6,582.6 350.6,582.8 351.6,583.0 352.6,583.2 353.6,583.3 354.6,583.5 355.6,583.7 356.6,583.8 357.6,584.0 358.6,584.1 359.6,584.3 360.6,584.4 361.6,584.6 362.6,584.7 363.6,584.9 364.6,585.0 365.6,585.2 366.6,585.3 367.6,585.4 368.6,585.6 369.6,585.7 370.6,585.8 371.6,586.0 372.6,586.1 373.6,586.2 374.6,586.3 375.6,586.4 376.6,586.6 377.6,586.7 378.6,586.8 379.6,586.9 380.6,587.0 381.6,587.1 382.6,587.2 383.6,587.3 384.6,587.4 385.6,587.5 386.6,587.6 387.6,587.7 388.6,587.8 389.6,587.9 390.6,587.9 391.6,588.0 392.6,588.1 393.6,588.2 394.6,588.3 395.6,588.3 396.6,588.4 397.6,588.5 398.6,588.6 399.6,588.6 400.6,588.7 401.6,588.8 402.6,588.8 403.6,588.9 404.6,589.0 405.6,589.0 406.6,589.1 407.6,589.1 408.6,589.2 409.6,589.2 410.6,589.3 411.6,589.3 412.6,589.4 413.6,589.4 414.6,589.5 415.6,589.5 416.6,589.6 417.6,589.6 418.6,589.7 419.6,589.7 420.6,589.7 421.6,589.8 422.6,589.8 423.6,589.9 424.6,589.9 425.6,589.9 426.6,590.0 427.6,590.0 428.6,590.0 429.6,590.0 430.6,590.1 431.6,590.1 432.6,590.1 433.6,590.1 434.6,590.2 435.6,590.2 436.6,590.2 437.6,590.2 438.6,590.3 439.6,590.3 440.6,590.3 441.6,590.3 442.6,590.3 443.6,590.4 444.6,590.4 445.6,590.4 446.6,590.4 447.6,590.4 448.6,590.4 449.6,590.4 450.6,590.5 451.6,590.5 452.6,590.5 453.6,590.5 454.6,590.5 455.6,590.5 456.6,590.5 457.6,590.5 458.6,590.5 459.6,590.5 460.6,590.6 461.6,590.6 462.6,590.6 463.6,590.6 464.6,590.6 465.6,590.6 466.6,590.6 467.6,590.6 468.6,590.6 469.6,590.6 470.6,590.6 471.6,590.6 472.6,590.6 473.6,590.6 474.6,590.6 475.6,590.7 476.6,590.7 477.6,590.7 478.6,590.7 479.6,590.7 480.6,590.7 481.6,590.7 482.6,590.7 483.6,590.7 484.6,590.7 485.6,590.7 486.6,590.7 487.6,590.7 488.6,590.7 489.6,590.7 490.6,590.8 491.6,590.8 492.6,590.8 493.6,590.8 494.6,590.8 495.6,590.8 496.6,590.8 497.6,590.8 498.6,590.8 499.6,590.9 500.6,590.9 501.6,590.9 502.6,590.9 503.6,590.9 504.6,590.9 505.6,590.9 506.6,591.0 507.6,591.0 508.6,591.0 509.6,591.0 510.6,591.0 511.6,591.1 512.6,591.1 513.6,591.1 514.6,591.1 515.6,591.1 516.6,591.2 517.6,591.2 518.6,591.2 519.6,591.3 520.6,591.3 521.6,591.3 522.6,591.3 523.6,591.4 524.6,591.4 525.5,591.4" stroke="#01665E" stroke-width="1.5"/>
<path d="M82.6,523.4 83.6,523.1 84.6,522.9 85.6,522.6 86.6,522.3 87.6,522.1 88.6,521.8 89.6,521.6 90.6,521.3 91.6,521.1 92.6,520.9 93.6,520.6 94.6,520.4 95.6,520.2 96.6,520.0 97.6,519.7 98.6,519.5 99.6,519.3 100.6,519.1 101.6,518.9 102.6,518.7 103.6,518.5 104.6,518.3 105.6,518.1 106.6,517.9 107.6,517.8 108.6,517.6 109.6,517.4 110.6,517.2 111.6,517.1 112.6,516.9 113.6,516.8 114.6,516.6 115.6,516.4 116.6,516.3 117.6,516.1 118.6,516.0 119.6,515.9 120.6,515.7 121.6,515.6 122.6,515.5 123.6,515.3 124.6,515.2 125.6,515.1 126.6,515.0 127.6,514.9 128.6,514.8 129.6,514.7 130.6,514.6 131.6,514.5 132.6,514.4 133.6,514.3 134.6,514.2 135.6,514.1 136.6,514.0 137.6,513.9 138.6,513.9 139.6,513.8 140.6,513.7 141.6,513.6 142.6,513.6 143.6,513.5 144.6,513.5 145.6,513.4 146.6,513.4 147.6,513.3 148.6,513.3 149.6,513.2 150.6,513.2 151.6,513.2 152.6,513.1 153.6,513.1 154.6,513.1 155.6,513.1 156.6,513.0 157.6,513.0 158.6,513.0 159.6,513.0 160.6,513.0 161.6,513.0 162.6,513.0 163.6,513.0 164.6,513.0 165.6,513.0 166.6,513.0 167.6,513.0 168.6,513.0 169.6,513.1 170.6,513.1 171.6,513.1 172.6,513.1 173.6,513.2 174.6,513.2 175.6,513.2 176.6,513.3 177.6,513.3 178.6,513.4 179.6,513.4 180.6,513.5 181.6,513.5 182.6,513.6 183.6,513.7 184.6,513.7 185.6,513.8 186.6,513.8 187.6,513.9 188.6,514.0 189.6,514.1 190.6,514.1 191.6,514.2 192.6,514.3 193.6,514.4 194.6,514.5 195.6,514.6 196.6,514.7 197.6,514.8 198.6,514.9 199.6,515.0 200.6,515.1 201.6,515.2 202.6,515.3 203.6,515.4 204.6,515.5 205.6,515.6 206.6,515.8 207.6,515.9 208.6,516.0 209.6,516.1 210.6,516.3 211.6,516.4 212.6,516.5 213.6,516.6 214.6,516.8 215.6,516.9 216.6,517.1 217.6,517.2 218.6,517.4 219.6,517.5 220.6,517.7 221.6,517.8 222.6,518.0 223.6,518.1 224.6,518.3 225.6,518.4 226.6,518.6 227.6,518.8 228.6,518.9 229.6,519.1 230.6,519.3 231.6,519.4 232.6,519.6 233.6,519.8 234.6,520.0 235.6,520.1 236.6,520.3 237.6,520.5 238.6,520.7 239.6,520.9 240.6,521.1 241.6,521.2 242.6,521.4 243.6,521.6 244.6,521.8 245.6,522.0 246.6,522.2 247.6,522.4 248.6,522.6 249.6,522.8 250.6,523.0 251.6,523.2 252.6,523.4 253.6,523.6 254.6,523.9 255.6,524.1 256.6,524.3 257.6,524.5 258.6,524.7 259.6,524.9 260.6,525.1 261.6,525.3 262.6,525.6 263.6,525.8 264.6,526.0 265.6,526.2 266.6,526.4 267.6,526.6 268.6,526.9 269.6,527.1 270.6,527.3 271.6,527.5 272.6,527.8 273.6,528.0 274.6,528.2 275.6,528.4 276.6,528.6 277.6,528.9 278.6,529.1 279.6,529.3 280.6,529.6 281.6,529.8 282.6,530.0 283.6,530.2 284.6,530.5 285.6,530.7 286.6,530.9 287.6,531.1 288.6,531.4 289.6,531.6 290.6,531.8 291.6,532.1 292.6,532.3 293.6,532.5 294.6,532.8 295.6,533.0 296.6,533.2 297.6,533.5 298.6,533.7 299.6,533.9 300.6,534.2 301.6,534.4 302.6,534.6 303.6,534.9 304.6,535.1 305.6,535.3 306.6,535.6 307.6,535.8 308.6,536.0 309.6,536.3 310.6,536.5 311.6,536.8 312.6,537.0 313.6,537.2 314.6,537.5 315.6,537.7 316.6,537.9 317.6,538.2 318.6,538.4 319.6,538.6 320.6,538.9 321.6,539.1 322.6,539.4 323.6,539.6 324.6,539.8 325.6,540.1 326.6,540.3 327.6,540.6 328.6,540.8 329.6,541.0 330.6,541.3 331.6,541.5 332.6,541.7 333.6,542.0 334.6,542.2 335.6,542.5 336.6,542.7 337.6,542.9 338.6,543.2 339.6,543.4 340.6,543.6 341.6,543.9 342.6,544.1 343.6,544.4 344.6,544.6 345.6,544.8 346.6,545.1 347.6,545.3 348.6,545.5 349.6,545.8 350.6,546.0 351.6,546.3 352.6,546.5 353.6,546.7 354.6,547.0 355.6,547.2 356.6,547.4 357.6,547.7 358.6,547.9 359.6,548.1 360.6,548.4 361.6,548.6 362.6,548.8 363.6,549.1 364.6,549.3 365.6,549.5 366.6,549.8 367.6,550.0 368.6,550.2 369.6,550.5 370.6,550.7 371.6,550.9 372.6,551.2 373.6,551.4 374.6,551.6 375.6,551.9 376.6,552.1 377.6,552.3 378.6,552.5 379.6,552.8 380.6,553.0 381.6,553.2 382.6,553.5 383.6,553.7 384.6,553.9 385.6,554.1 386.6,554.4 387.6,554.6 388.6,554.8 389.6,555.0 390.6,555.3 391.6,555.5 392.6,555.7 393.6,555.9 394.6,556.1 395.6,556.4 396.6,556.6 397.6,556.8 398.6,557.0 399.6,557.2 400.6,557.5 401.6,557.7 402.6,557.9 403.6,558.1 404.6,558.3 405.6,558.5 406.6,558.7 407.6,559.0 408.6,559.2 409.6,559.4 410.6,559.6 411.6,559.8 412.6,560.0 413.6,560.2 414.6,560.4 415.6,560.6 416.6,560.8 417.6,561.1 418.6,561.3 419.6,561.5 420.6,561.7 421.6,561.9 422.6,562.1 423.6,562.3 424.6,562.5 425.6,562.7 426.6,562.9 427.6,563.1 428.6,563.3 429.6,563.5 430.6,563.7 431.6,563.9 432.6,564.0 433.6,564.2 434.6,564.4 435.6,564.6 436.6,564.8 437.6,565.0 438.6,565.2 439.6,565.4 440.6,565.6 441.6,565.7 442.6,565.9 443.6,566.1 444.6,566.3 445.6,566.5 446.6,566.7 447.6,566.8 448.6,567.0 449.6,567.2 450.6,567.4 451.6,567.5 452.6,567.7 453.6,567.9 454.6,568.1 455.6,568.2 456.6,568.4 457.6,568.6 458.6,568.7 459.6,568.9 460.6,569.1 461.6,569.2 462.6,569.4 463.6,569.6 464.6,569.7 465.6,569.9 466.6,570.0 467.6,570.2 468.6,570.3 469.6,570.5 470.6,570.7 471.6,570.8 472.6,571.0 473.6,571.1 474.6,571.3 475.6,571.4 476.6,571.5 477.6,571.7 478.6,571.8 479.6,572.0 480.6,572.1 481.6,572.3 482.6,572.4 483.6,572.5 484.6,572.7 485.6,572.8 486.6,572.9 487.6,573.1 488.6,573.2 489.6,573.3 490.6,573.5 491.6,573.6 492.6,573.7 493.6,573.8 494.6,573.9 495.6,574.1 496.6,574.2 497.6,574.3 498.6,574.4 499.6,574.5 500.6,574.6 501.6,574.8 502.6,574.9 503.6,575.0 504.6,575.1 505.6,575.2 506.6,575.3 507.6,575.4 508.6,575.5 509.6,575.6 510.6,575.7 511.6,575.8 512.6,575.9 513.6,576.0 514.6,576.1 515.6,576.2 516.6,576.2 517.6,576.3 518.6,576.4 519.6,576.5 520.6,576.6 521.6,576.7 522.6,576.7 523.6,576.8 524.6,576.9 525.5,576.9" stroke="#000000" stroke-width="1.75"/>
<path d="M82.6,512.2 83.6,511.9 84.6,511.6 85.6,511.2 86.6,510.9 87.6,510.6 88.6,510.3 89.6,510.0 90.6,509.7 91.6,509.4 92.6,509.1 93.6,508.8 94.6,508.5 95.6,508.2 96.6,507.9 97.6,507.7 98.6,507.4 99.6,507.1 100.6,506.9 101.6,506.6 102.6,506.4 103.6,506.1 104.6,505.9 105.6,505.7 106.6,505.5 107.6,505.2 108.6,505.0 109.6,504.8 110.6,504.6 111.6,504.4 112.6,504.2 113.6,504.0 114.6,503.8 115.6,503.7 116.6,503.5 117.6,503.3 118.6,503.1 119.6,503.0 120.6,502.8 121.6,502.7 122.6,502.5 123.6,502.4 124.6,502.2 125.6,502.1 126.6,502.0 127.6,501.9 128.6,501.7 129.6,501.6 130.6,501.5 131.6,501.4 132.6,501.3 133.6,501.2 134.6,501.1 135.6,501.0 136.6,500.9 137.6,500.9 138.6,500.8 139.6,500.7 140.6,500.7 141.6,500.6 142.6,500.5 143.6,500.5 144.6,500.4 145.6,500.4 146.6,500.4 147.6,500.3 148.6,500.3 149.6,500.3 150.6,500.2 151.6,500.2 152.6,500.2 153.6,500.2 154.6,500.2 155.6,500.2 156.6,500.2 157.6,500.2 158.6,500.2 159.6,500.3 160.6,500.3 161.6,500.3 162.6,500.3 163.6,500.4 164.6,500.4 165.6,500.4 166.6,500.5 167.6,500.5 168.6,500.6 169.6,500.7 170.6,500.7 171.6,500.8 172.6,500.9 173.6,500.9 174.6,501.0 175.6,501.1 176.6,501.2 177.6,501.3 178.6,501.4 179.6,501.5 180.6,501.6 181.6,501.7 182.6,501.8 183.6,501.9 184.6,502.0 185.6,502.2 186.6,502.3 187.6,502.4 188.6,502.5 189.6,502.7 190.6,502.8 191.6,503.0 192.6,503.1 193.6,503.3 194.6,503.4 195.6,503.6 196.6,503.7 197.6,503.9 198.6,504.1 199.6,504.2 200.6,504.4 201.6,504.6 202.6,504.8 203.6,504.9 204.6,505.1 205.6,505.3 206.6,505.5 207.6,505.7 208.6,505.9 209.6,506.1 210.6,506.3 211.6,506.5 212.6,506.7 213.6,507.0 214.6,507.2 215.6,507.4 216.6,507.6 217.6,507.8 218.6,508.1 219.6,508.3 220.6,508.5 221.6,508.8 222.6,509.0 223.6,509.2 224.6,509.5 225.6,509.7 226.6,510.0 227.6,510.2 228.6,510.5 229.6,510.7 230.6,511.0 231.6,511.2 232.6,511.5 233.6,511.8 234.6,512.0 235.6,512.3 236.6,512.6 237.6,512.9 238.6,513.1 239.6,513.4 240.6,513.7 241.6,514.0 242.6,514.3 243.6,514.5 244.6,514.8 245.6,515.1 246.6,515.4 247.6,515.7 248.6,516.0 249.6,516.3 250.6,516.6 251.6,516.9 252.6,517.2 253.6,517.4 254.6,517.7 255.6,518.0 256.6,518.3 257.6,518.6 258.6,518.9 259.6,519.2 260.6,519.5 261.6,519.8 262.6,520.1 263.6,520.4 264.6,520.7 265.6,521.0 266.6,521.3 267.6,521.6 268.6,521.9 269.6,522.2 270.6,522.5 271.6,522.8 272.6,523.1 273.6,523.4 274.6,523.7 275.6,524.0 276.6,524.3 277.6,524.6 278.6,524.9 279.6,525.2 280.6,525.5 281.6,525.8 282.6,526.1 283.6,526.4 284.6,526.7 285.6,527.0 286.6,527.3 287.6,527.6 288.6,527.9 289.6,528.2 290.6,528.5 291.6,528.8 292.6,529.1 293.6,529.4 294.6,529.7 295.6,530.0 296.6,530.3 297.6,530.6 298.6,530.9 299.6,531.2 300.6,531.5 301.6,531.8 302.6,532.1 303.6,532.4 304.6,532.7 305.6,533.0 306.6,533.3 307.6,533.6 308.6,533.9 309.6,534.2 310.6,534.5 311.6,534.8 312.6,535.1 313.6,535.4 314.6,535.7 315.6,536.0 316.6,536.3 317.6,536.6 318.6,536.9 319.6,537.1 320.6,537.4 321.6,537.7 322.6,538.0 323.6,538.3 324.6,538.6 325.6,538.9 326.6,539.2 327.6,539.5 328.6,539.8 329.6,540.1 330.6,540.4 331.6,540.7 332.6,541.0 333.6,541.3 334.6,541.5 335.6,541.8 336.6,542.1 337.6,542.4 338.6,542.7 339.6,543.0 340.6,543.3 341.6,543.6 342.6,543.8 343.6,544.1 344.6,544.4 345.6,544.7 346.6,545.0 347.6,545.3 348.6,545.6 349.6,545.8 350.6,546.1 351.6,546.4 352.6,546.7 353.6,547.0 354.6,547.2 355.6,547.5 356.6,547.8 357.6,548.1 358.6,548.4 359.6,548.6 360.6,548.9 361.6,549.2 362.6,549.5 363.6,549.7 364.6,550.0 365.6,550.3 366.6,550.6 367.6,550.8 368.6,551.1 369.6,551.4 370.6,551.6 371.6,551.9 372.6,552.2 373.6,552.4 374.6,552.7 375.6,553.0 376.6,553.2 377.6,553.5 378.6,553.8 379.6,554.0 380.6,554.3 381.6,554.6 382.6,554.8 383.6,555.1 384.6,555.3 385.6,555.6 386.6,555.9 387.6,556.1 388.6,556.4 389.6,556.6 390.6,556.9 391.6,557.1 392.6,557.4 393.6,557.6 394.6,557.9 395.6,558.1 396.6,558.4 397.6,558.6 398.6,558.9 399.6,559.1 400.6,559.4 401.6,559.6 402.6,559.8 403.6,560.1 404.6,560.3 405.6,560.6 406.6,560.8 407.6,561.0 408.6,561.3 409.6,561.5 410.6,561.7 411.6,562.0 412.6,562.2 413.6,562.4 414.6,562.7 415.6,562.9 416.6,563.1 417.6,563.3 418.6,563.6 419.6,563.8 420.6,564.0 421.6,564.2 422.6,564.4 423.6,564.7 424.6,564.9 425.6,565.1 426.6,565.3 427.6,565.5 428.6,565.7 429.6,566.0 430.6,566.2 431.6,566.4 432.6,566.6 433.6,566.8 434.6,567.0 435.6,567.2 436.6,567.4 437.6,567.6 438.6,567.8 439.6,568.0 440.6,568.2 441.6,568.4 442.6,568.6 443.6,568.8 444.6,569.0 445.6,569.2 446.6,569.3 447.6,569.5 448.6,569.7 449.6,569.9 450.6,570.1 451.6,570.3 452.6,570.4 453.6,570.6 454.6,570.8 455.6,571.0 456.6,571.2 457.6,571.3 458.6,571.5 459.6,571.7 460.6,571.8 461.6,572.0 462.6,572.2 463.6,572.3 464.6,572.5 465.6,572.7 466.6,572.8 467.6,573.0 468.6,573.1 469.6,573.3 470.6,573.4 471.6,573.6 472.6,573.7 473.6,573.9 474.6,574.0 475.6,574.2 476.6,574.3 477.6,574.5 478.6,574.6 479.6,574.7 480.6,574.9 481.6,575.0 482.6,575.1 483.6,575.3 484.6,575.4 485.6,575.5 486.6,575.7 487.6,575.8 488.6,575.9 489.6,576.0 490.6,576.1 491.6,576.3 492.6,576.4 493.6,576.5 494.6,576.6 495.6,576.7 496.6,576.8 497.6,576.9 498.6,577.0 499.6,577.1 500.6,577.2 501.6,577.3 502.6,577.4 503.6,577.5 504.6,577.6 505.6,577.7 506.6,577.8 507.6,577.9 508.6,578.0 509.6,578.1 510.6,578.1 511.6,578.2 512.6,578.3 513.6,578.4 514.6,578.4 515.6,578.5 516.6,578.6 517.6,578.7 518.6,578.7 519.6,578.8 520.6,578.8 521.6,578.9 522.6,579.0 523.6,579.0 524.6,579.1 525.5,579.1" stroke="#000000" stroke-width="1.75" stroke-dasharray="7 7"/>
</g>
<line x1="82.35" y1="47.30" x2="82.35" y2="330.60" stroke="#000" stroke-width="1.7"/>
<path d="M82.35,340.35 L82.35,623.85 L524.05,623.85" fill="none" stroke="#000" stroke-width="1.7" stroke-linejoin="round"/>
<line x1="77.95" y1="317.75" x2="82.35" y2="317.75" stroke="#333333" stroke-width="1.5"/>
<text transform="translate(74.05,327.50) scale(1,1.0405)" font-size="26.8" text-anchor="end" fill="#4D4D4D" font-weight="normal">0.0</text>
<line x1="77.95" y1="265.23" x2="82.35" y2="265.23" stroke="#333333" stroke-width="1.5"/>
<text transform="translate(74.05,274.98) scale(1,1.0405)" font-size="26.8" text-anchor="end" fill="#4D4D4D" font-weight="normal">0.5</text>
<line x1="77.95" y1="212.70" x2="82.35" y2="212.70" stroke="#333333" stroke-width="1.5"/>
<g transform="translate(36.79,222.45) scale(1,1.0405)" fill="#4D4D4D"><text font-size="26.8" style="font-kerning:none"> .0</text><path d="M763,0 L583,0 L583,1147 C540,1106 483,1064 413,1023 C342,982 279,951 223,930 L223,1104 C324,1151 412,1209 487,1276 C562,1343 616,1409 647,1472 L763,1472 Z" transform="translate(0.00,0) scale(0.01309,-0.01253)"/></g>
<line x1="77.95" y1="160.18" x2="82.35" y2="160.18" stroke="#333333" stroke-width="1.5"/>
<g transform="translate(36.79,169.93) scale(1,1.0405)" fill="#4D4D4D"><text font-size="26.8" style="font-kerning:none"> .5</text><path d="M763,0 L583,0 L583,1147 C540,1106 483,1064 413,1023 C342,982 279,951 223,930 L223,1104 C324,1151 412,1209 487,1276 C562,1343 616,1409 647,1472 L763,1472 Z" transform="translate(0.00,0) scale(0.01309,-0.01253)"/></g>
<line x1="77.95" y1="107.65" x2="82.35" y2="107.65" stroke="#333333" stroke-width="1.5"/>
<text transform="translate(74.05,117.40) scale(1,1.0405)" font-size="26.8" text-anchor="end" fill="#4D4D4D" font-weight="normal">2.0</text>
<line x1="77.95" y1="55.12" x2="82.35" y2="55.12" stroke="#333333" stroke-width="1.5"/>
<text transform="translate(74.05,64.88) scale(1,1.0405)" font-size="26.8" text-anchor="end" fill="#4D4D4D" font-weight="normal">2.5</text>
<line x1="77.95" y1="611.00" x2="82.35" y2="611.00" stroke="#333333" stroke-width="1.5"/>
<text transform="translate(74.05,620.75) scale(1,1.0405)" font-size="26.8" text-anchor="end" fill="#4D4D4D" font-weight="normal">0.0</text>
<line x1="77.95" y1="524.05" x2="82.35" y2="524.05" stroke="#333333" stroke-width="1.5"/>
<text transform="translate(74.05,533.80) scale(1,1.0405)" font-size="26.8" text-anchor="end" fill="#4D4D4D" font-weight="normal">0.5</text>
<line x1="77.95" y1="437.10" x2="82.35" y2="437.10" stroke="#333333" stroke-width="1.5"/>
<g transform="translate(36.79,446.85) scale(1,1.0405)" fill="#4D4D4D"><text font-size="26.8" style="font-kerning:none"> .0</text><path d="M763,0 L583,0 L583,1147 C540,1106 483,1064 413,1023 C342,982 279,951 223,930 L223,1104 C324,1151 412,1209 487,1276 C562,1343 616,1409 647,1472 L763,1472 Z" transform="translate(0.00,0) scale(0.01309,-0.01253)"/></g>
<line x1="77.95" y1="350.15" x2="82.35" y2="350.15" stroke="#333333" stroke-width="1.5"/>
<g transform="translate(36.79,359.90) scale(1,1.0405)" fill="#4D4D4D"><text font-size="26.8" style="font-kerning:none"> .5</text><path d="M763,0 L583,0 L583,1147 C540,1106 483,1064 413,1023 C342,982 279,951 223,930 L223,1104 C324,1151 412,1209 487,1276 C562,1343 616,1409 647,1472 L763,1472 Z" transform="translate(0.00,0) scale(0.01309,-0.01253)"/></g>
<line x1="101.95" y1="623.85" x2="101.95" y2="628.25" stroke="#333333" stroke-width="1.5"/>
<text transform="translate(101.95,651.15) scale(1,1.0405)" font-size="26.8" text-anchor="middle" fill="#4D4D4D" font-weight="normal">0.00</text>
<line x1="202.48" y1="623.85" x2="202.48" y2="628.25" stroke="#333333" stroke-width="1.5"/>
<text transform="translate(202.48,651.15) scale(1,1.0405)" font-size="26.8" text-anchor="middle" fill="#4D4D4D" font-weight="normal">0.25</text>
<line x1="303.00" y1="623.85" x2="303.00" y2="628.25" stroke="#333333" stroke-width="1.5"/>
<text transform="translate(303.00,651.15) scale(1,1.0405)" font-size="26.8" text-anchor="middle" fill="#4D4D4D" font-weight="normal">0.50</text>
<line x1="403.53" y1="623.85" x2="403.53" y2="628.25" stroke="#333333" stroke-width="1.5"/>
<text transform="translate(403.53,651.15) scale(1,1.0405)" font-size="26.8" text-anchor="middle" fill="#4D4D4D" font-weight="normal">0.75</text>
<line x1="504.05" y1="623.85" x2="504.05" y2="628.25" stroke="#333333" stroke-width="1.5"/>
<g transform="translate(477.97,651.15) scale(1,1.0405)" fill="#4D4D4D"><text font-size="26.8" style="font-kerning:none"> .00</text><path d="M763,0 L583,0 L583,1147 C540,1106 483,1064 413,1023 C342,982 279,951 223,930 L223,1104 C324,1151 412,1209 487,1276 C562,1343 616,1409 647,1472 L763,1472 Z" transform="translate(0.00,0) scale(0.01309,-0.01253)"/></g>
<rect x="525.05" y="48.00" width="37.55" height="282.10" fill="#fff" stroke="#000" stroke-width="1.75"/>
<text transform="translate(534.33,189.05) rotate(90)" font-size="26.5" text-anchor="middle" fill="#1A1A1A">SCM absence</text>
<rect x="525.05" y="341.05" width="37.55" height="281.85" fill="#fff" stroke="#000" stroke-width="1.75"/>
<text transform="translate(534.33,481.98) rotate(90)" font-size="26.5" text-anchor="middle" fill="#1A1A1A">SCM presence</text>
<text transform="translate(303.70,685.60) scale(1,1.0000)" font-size="33.4" text-anchor="middle" fill="#000" font-weight="normal">MSE (%)</text>
<text transform="translate(25.90,335.45) rotate(-90)" font-size="33.4" text-anchor="middle" fill="#000">density</text>
<text transform="translate(-0.50,23.80) scale(1,1.0405)" font-size="28.8" text-anchor="start" fill="#000" font-weight="bold">A</text>
<clipPath id="ctB"><rect x="713.20" y="48.00" width="442.70" height="282.10"/></clipPath>
<clipPath id="cbB"><rect x="713.20" y="341.05" width="442.70" height="281.85"/></clipPath>
<g clip-path="url(#ctB)" fill="none" stroke-linejoin="round" stroke-linecap="butt">
<path d="M713.2,307.9 714.3,307.6 715.4,307.4 716.5,307.1 717.6,306.9 718.7,306.7 719.8,306.6 720.9,306.4 722.0,306.3 723.2,306.2 724.3,306.1 725.5,306.1 726.6,306.0 727.8,306.0 729.0,306.0 730.2,306.0 731.3,306.0 732.5,306.1 733.7,306.1 734.9,306.2 736.1,306.3 737.3,306.4 738.5,306.5 739.8,306.6 741.0,306.7 742.2,306.8 743.4,307.0 744.7,307.1 745.9,307.3 747.1,307.4 748.4,307.6 749.6,307.8 750.8,307.9 752.1,308.1 753.3,308.3 754.6,308.4 755.8,308.6 757.1,308.8 758.3,308.9 759.6,309.1 760.8,309.3 762.1,309.4 763.3,309.6 764.6,309.7 765.8,309.9 767.0,310.0 768.3,310.2 769.5,310.3 770.8,310.4 772.0,310.5 773.2,310.6 774.5,310.7 775.7,310.7 776.9,310.8 778.1,310.8 779.4,310.9 780.6,310.9 781.8,310.9 783.0,310.9 784.2,310.8 785.4,310.8 786.6,310.7 787.8,310.6 789.0,310.5 790.1,310.3 791.3,310.2 792.5,310.0 793.6,309.8 794.8,309.5 795.9,309.3 797.0,309.0 798.2,308.7 799.3,308.4 800.4,308.0 801.5,307.6 802.6,307.2 803.8,306.8 804.9,306.4 806.0,306.0 807.1,305.6 808.2,305.2 809.3,304.7 810.4,304.3 811.5,303.9 812.6,303.5 813.8,303.1 814.9,302.7 816.1,302.3 817.2,301.9 818.4,301.6 819.5,301.3 820.7,301.0 821.9,300.7 823.1,300.5 824.3,300.2 825.6,300.0 826.8,299.8 828.0,299.6 829.2,299.4 830.5,299.2 831.7,299.1 832.9,298.9 834.2,298.7 835.4,298.5 836.6,298.3 837.8,298.0 839.0,297.8 840.2,297.5 841.4,297.2 842.5,296.9 843.7,296.6 844.8,296.2 845.9,295.8 847.0,295.4 848.1,294.9 849.2,294.4 850.2,293.8 851.2,293.2 852.2,292.5 853.2,291.8 854.1,291.1 855.0,290.3 855.9,289.5 856.7,288.7 857.5,287.8 858.3,286.9 859.0,285.9 859.7,285.0 860.3,284.0 860.9,283.0 861.5,281.9 862.0,280.9 862.5,279.8 863.0,278.7 863.4,277.6 863.8,276.5 864.1,275.4 864.5,274.2 864.8,273.1 865.1,271.9 865.3,270.7 865.6,269.5 865.9,268.4 866.1,267.2 866.3,266.0 866.6,264.8 866.8,263.6 867.0,262.4 867.2,261.2 867.4,260.0 867.6,258.9 867.9,257.7 868.1,256.5 868.3,255.3 868.5,254.1 868.7,252.9 868.8,251.7 869.0,250.5 869.2,249.4 869.4,248.2 869.6,247.0 869.8,245.8 869.9,244.6 870.1,243.4 870.3,242.2 870.5,241.0 870.6,239.8 870.8,238.7 871.0,237.5 871.1,236.3 871.3,235.1 871.4,233.9 871.6,232.7 871.8,231.5 871.9,230.3 872.1,229.1 872.2,228.0 872.4,226.8 872.6,225.6 872.7,224.4 872.9,223.2 873.0,222.0 873.2,220.8 873.3,219.6 873.5,218.4 873.6,217.2 873.8,216.1 873.9,214.9 874.1,213.7 874.3,212.5 874.4,211.3 874.6,210.1 874.7,208.9 874.9,207.7 875.0,206.5 875.2,205.3 875.3,204.1 875.5,203.0 875.6,201.8 875.7,200.6 875.9,199.4 876.0,198.2 876.2,197.0 876.3,195.8 876.5,194.6 876.6,193.4 876.7,192.2 876.9,191.1 877.0,189.9 877.2,188.7 877.3,187.5 877.4,186.3 877.6,185.1 877.7,183.9 877.8,182.7 877.9,181.5 878.1,180.3 878.2,179.1 878.3,178.0 878.5,176.8 878.6,175.6 878.7,174.4 878.8,173.2 878.9,172.0 879.1,170.8 879.2,169.6 879.3,168.4 879.4,167.2 879.5,166.1 879.6,164.9 879.7,163.7 879.8,162.5 879.9,161.3 880.0,160.1 880.1,158.9 880.2,157.7 880.3,156.5 880.4,155.3 880.5,154.2 880.6,153.0 880.7,151.8 880.8,150.6 880.9,149.4 881.0,148.2 881.0,147.0 881.1,145.8 881.2,144.6 881.3,143.5 881.4,142.3 881.4,141.1 881.5,139.9 881.6,138.7 881.7,137.5 881.8,136.3 881.9,135.1 881.9,133.9 882.0,132.8 882.1,131.6 882.2,130.4 882.3,129.2 882.3,128.0 882.4,126.8 882.5,125.6 882.6,124.4 882.7,123.2 882.8,122.0 882.9,120.8 883.0,119.7 883.1,118.5 883.2,117.3 883.3,116.1 883.4,114.9 883.5,113.7 883.6,112.5 883.7,111.3 883.9,110.1 884.0,108.9 884.1,107.7 884.2,106.5 884.4,105.3 884.5,104.1 884.6,102.9 884.8,101.7 884.9,100.5 885.1,99.3 885.3,98.1 885.4,96.9 885.6,95.7 885.8,94.5 885.9,93.3 886.1,92.1 886.3,90.9 886.5,89.7 886.7,88.5 886.9,87.3 887.1,86.1 887.3,84.9 887.6,83.7 887.8,82.4 888.0,81.2 888.3,80.0 888.6,78.8 888.8,77.6 889.1,76.4 889.4,75.2 889.8,74.0 890.1,72.8 890.5,71.6 890.9,70.4 891.3,69.2 891.8,68.1 892.2,67.0 892.8,66.0 893.3,65.2 893.9,64.5 894.5,64.1 895.2,64.0 895.9,64.2 896.6,64.6 897.4,65.3 898.1,66.1 898.8,67.1 899.5,68.2 900.1,69.4 900.7,70.6 901.2,71.8 901.7,73.0 902.1,74.2 902.5,75.4 902.8,76.6 903.0,77.8 903.3,79.0 903.5,80.2 903.7,81.4 903.8,82.5 904.0,83.7 904.2,84.9 904.3,86.1 904.4,87.3 904.6,88.5 904.7,89.7 904.9,90.9 905.0,92.1 905.2,93.3 905.3,94.5 905.4,95.7 905.6,96.9 905.7,98.1 905.9,99.3 906.0,100.5 906.2,101.7 906.3,102.8 906.5,104.0 906.6,105.2 906.8,106.4 907.0,107.6 907.1,108.8 907.3,110.0 907.5,111.2 907.6,112.4 907.8,113.6 908.0,114.8 908.1,116.0 908.3,117.1 908.5,118.3 908.6,119.5 908.8,120.7 908.9,121.9 909.1,123.1 909.2,124.3 909.4,125.5 909.5,126.7 909.7,127.8 909.8,129.0 910.0,130.2 910.1,131.4 910.2,132.6 910.3,133.8 910.5,135.0 910.6,136.2 910.7,137.4 910.8,138.5 910.9,139.7 911.0,140.9 911.1,142.1 911.3,143.3 911.4,144.5 911.5,145.7 911.6,146.9 911.7,148.0 911.8,149.2 911.9,150.4 912.0,151.6 912.1,152.8 912.2,154.0 912.3,155.2 912.4,156.4 912.5,157.5 912.5,158.7 912.6,159.9 912.7,161.1 912.8,162.3 912.9,163.5 913.0,164.7 913.2,165.9 913.3,167.1 913.4,168.3 913.5,169.4 913.6,170.6 913.7,171.8 913.8,173.0 913.9,174.2 914.0,175.4 914.2,176.6 914.3,177.8 914.4,179.0 914.5,180.2 914.7,181.4 914.8,182.6 914.9,183.8 915.1,185.0 915.2,186.2 915.4,187.4 915.6,188.6 915.7,189.8 915.9,190.9 916.0,192.1 916.2,193.3 916.4,194.5 916.6,195.7 916.8,196.9 917.0,198.1 917.2,199.3 917.4,200.5 917.6,201.7 917.8,202.8 918.1,204.0 918.3,205.2 918.6,206.4 918.8,207.5 919.1,208.7 919.3,209.9 919.6,211.1 919.9,212.2 920.2,213.4 920.5,214.5 920.8,215.7 921.1,216.9 921.5,218.0 921.8,219.2 922.2,220.3 922.5,221.4 922.9,222.6 923.3,223.7 923.6,224.8 924.0,226.0 924.5,227.1 924.9,228.2 925.3,229.3 925.7,230.4 926.2,231.5 926.7,232.6 927.1,233.7 927.6,234.8 928.1,235.9 928.7,237.0 929.2,238.1 929.7,239.1 930.3,240.2 930.8,241.2 931.4,242.3 932.0,243.3 932.6,244.4 933.2,245.4 933.9,246.4 934.5,247.4 935.2,248.4 935.8,249.4 936.5,250.4 937.2,251.3 937.9,252.3 938.7,253.2 939.4,254.1 940.2,255.1 940.9,256.0 941.7,256.8 942.5,257.7 943.4,258.6 944.2,259.4 945.0,260.2 945.9,261.0 946.8,261.8 947.7,262.6 948.6,263.4 949.5,264.1 950.5,264.8 951.4,265.5 952.4,266.2 953.4,266.9 954.4,267.5 955.4,268.2 956.4,268.8 957.4,269.5 958.5,270.1 959.5,270.8 960.5,271.4 961.6,272.0 962.6,272.7 963.6,273.3 964.6,274.0 965.7,274.7 966.7,275.3 967.7,276.0 968.7,276.8 969.7,277.5 970.6,278.3 971.6,279.0 972.5,279.8 973.5,280.6 974.4,281.4 975.4,282.2 976.3,283.0 977.3,283.7 978.2,284.4 979.2,285.1 980.2,285.7 981.2,286.2 982.3,286.7 983.4,287.1 984.5,287.4 985.6,287.7 986.7,287.9 987.9,288.1 989.1,288.3 990.2,288.4 991.4,288.4 992.6,288.4 993.9,288.4 995.1,288.3 996.3,288.2 997.5,288.1 998.7,288.0 999.9,287.8 1001.1,287.7 1002.3,287.5 1003.6,287.3 1004.8,287.1 1006.0,286.8 1007.2,286.6 1008.4,286.3 1009.6,286.1 1010.7,285.8 1011.9,285.6 1013.1,285.3 1014.3,285.0 1015.5,284.8 1016.7,284.5 1017.9,284.3 1019.0,284.0 1020.2,283.8 1021.4,283.6 1022.6,283.3 1023.7,283.1 1024.9,283.0 1026.1,282.8 1027.3,282.6 1028.4,282.5 1029.6,282.4 1030.8,282.3 1031.9,282.3 1033.1,282.2 1034.2,282.2 1035.4,282.2 1036.5,282.3 1037.7,282.4 1038.9,282.5 1040.0,282.7 1041.2,282.9 1042.3,283.1 1043.5,283.4 1044.6,283.6 1045.8,283.9 1046.9,284.3 1048.0,284.6 1049.2,285.0 1050.3,285.4 1051.5,285.8 1052.6,286.2 1053.7,286.6 1054.9,287.0 1056.0,287.5 1057.2,288.0 1058.3,288.4 1059.4,288.9 1060.6,289.4 1061.7,289.9 1062.8,290.3 1064.0,290.8 1065.1,291.3 1066.2,291.8 1067.4,292.3 1068.5,292.7 1069.6,293.2 1070.8,293.7 1071.9,294.1 1073.0,294.6 1074.2,295.0 1075.3,295.5 1076.4,295.9 1077.5,296.4 1078.7,296.8 1079.8,297.2 1080.9,297.6 1082.1,298.1 1083.2,298.5 1084.3,298.9 1085.5,299.2 1086.6,299.6 1087.7,300.0 1088.9,300.4 1090.0,300.7 1091.1,301.1 1092.3,301.4 1093.4,301.8 1094.5,302.1 1095.7,302.4 1096.8,302.8 1098.0,303.1 1099.1,303.3 1100.2,303.6 1101.4,303.9 1102.5,304.2 1103.7,304.4 1104.8,304.7 1106.0,304.9 1107.1,305.1 1108.3,305.3 1109.4,305.5 1110.6,305.7 1111.7,305.9 1112.9,306.0 1114.0,306.2 1115.2,306.3 1116.4,306.4 1117.5,306.6 1118.7,306.6 1119.9,306.7 1121.0,306.8 1122.2,306.9 1123.4,306.9 1124.6,307.0 1125.8,307.0 1126.9,307.1 1128.1,307.1 1129.3,307.1 1130.5,307.1 1131.7,307.2 1132.9,307.2 1134.1,307.2 1135.3,307.2 1136.5,307.2 1137.7,307.3 1138.9,307.3 1140.1,307.3 1141.3,307.4 1142.5,307.4 1143.8,307.5 1145.0,307.5 1146.2,307.6 1147.5,307.7 1148.7,307.8 1149.9,307.9 1151.2,308.0 1152.4,308.1 1153.7,308.3 1154.9,308.4 1156.2,308.6" stroke="#8C510A" stroke-width="1.5"/>
<path d="M713.1,305.4 714.3,305.2 715.6,305.1 716.8,304.9 718.0,304.8 719.3,304.7 720.5,304.6 721.7,304.5 723.0,304.5 724.2,304.5 725.4,304.4 726.6,304.4 727.8,304.4 729.1,304.5 730.3,304.5 731.5,304.5 732.7,304.6 733.9,304.7 735.1,304.7 736.3,304.8 737.5,304.9 738.7,305.0 739.9,305.1 741.1,305.2 742.3,305.3 743.5,305.4 744.7,305.6 745.9,305.7 747.1,305.8 748.3,305.9 749.5,306.0 750.6,306.2 751.8,306.3 753.0,306.4 754.2,306.5 755.4,306.6 756.5,306.7 757.7,306.8 758.9,306.8 760.1,306.9 761.2,307.0 762.4,307.0 763.6,307.1 764.8,307.1 765.9,307.1 767.1,307.1 768.3,307.1 769.4,307.1 770.6,307.0 771.8,307.0 772.9,306.9 774.1,306.8 775.3,306.7 776.4,306.6 777.6,306.4 778.8,306.2 779.9,306.0 781.1,305.8 782.2,305.6 783.4,305.3 784.6,305.1 785.7,304.8 786.9,304.5 788.0,304.2 789.2,303.8 790.4,303.5 791.5,303.1 792.7,302.8 793.8,302.4 795.0,302.0 796.1,301.6 797.3,301.2 798.5,300.8 799.6,300.4 800.8,300.0 801.9,299.6 803.1,299.1 804.3,298.7 805.4,298.3 806.6,297.8 807.7,297.4 808.9,297.0 810.1,296.6 811.2,296.1 812.4,295.7 813.6,295.3 814.7,294.9 815.9,294.5 817.0,294.1 818.2,293.7 819.4,293.4 820.5,293.0 821.7,292.6 822.9,292.3 824.1,291.9 825.2,291.6 826.4,291.3 827.5,290.9 828.7,290.6 829.8,290.3 831.0,289.9 832.1,289.6 833.3,289.2 834.4,288.8 835.5,288.4 836.6,288.0 837.7,287.6 838.8,287.1 839.8,286.7 840.9,286.2 841.9,285.6 842.9,285.1 843.9,284.5 844.9,283.9 845.9,283.2 846.8,282.5 847.8,281.8 848.7,281.0 849.6,280.2 850.4,279.4 851.3,278.5 852.1,277.6 852.9,276.7 853.7,275.7 854.4,274.8 855.1,273.8 855.8,272.8 856.5,271.7 857.1,270.7 857.7,269.6 858.2,268.6 858.8,267.5 859.3,266.4 859.8,265.3 860.2,264.2 860.6,263.1 861.0,261.9 861.4,260.8 861.8,259.7 862.1,258.5 862.4,257.4 862.7,256.2 863.0,255.1 863.3,253.9 863.6,252.7 863.9,251.6 864.1,250.4 864.4,249.2 864.7,248.1 864.9,246.9 865.2,245.7 865.4,244.5 865.7,243.4 865.9,242.2 866.2,241.0 866.4,239.8 866.7,238.7 866.9,237.5 867.1,236.3 867.4,235.1 867.6,233.9 867.9,232.8 868.1,231.6 868.3,230.4 868.5,229.2 868.8,228.0 869.0,226.8 869.2,225.6 869.4,224.5 869.7,223.3 869.9,222.1 870.1,220.9 870.3,219.7 870.5,218.5 870.7,217.3 870.9,216.2 871.1,215.0 871.3,213.8 871.5,212.6 871.7,211.4 871.9,210.2 872.1,209.0 872.3,207.8 872.5,206.6 872.6,205.5 872.8,204.3 873.0,203.1 873.1,201.9 873.3,200.7 873.5,199.5 873.6,198.3 873.8,197.1 873.9,196.0 874.1,194.8 874.2,193.6 874.4,192.4 874.5,191.2 874.6,190.0 874.8,188.8 874.9,187.6 875.1,186.4 875.2,185.3 875.3,184.1 875.5,182.9 875.6,181.7 875.7,180.5 875.8,179.3 876.0,178.1 876.1,176.9 876.2,175.8 876.3,174.6 876.4,173.4 876.6,172.2 876.7,171.0 876.8,169.8 876.9,168.6 877.0,167.4 877.1,166.2 877.3,165.1 877.4,163.9 877.5,162.7 877.6,161.5 877.7,160.3 877.8,159.1 877.9,157.9 878.1,156.7 878.2,155.5 878.3,154.3 878.4,153.2 878.5,152.0 878.6,150.8 878.8,149.6 878.9,148.4 879.0,147.2 879.1,146.0 879.3,144.8 879.4,143.6 879.5,142.4 879.6,141.3 879.8,140.1 879.9,138.9 880.0,137.7 880.1,136.5 880.3,135.3 880.4,134.1 880.6,132.9 880.7,131.7 880.8,130.5 881.0,129.4 881.1,128.2 881.3,127.0 881.4,125.8 881.6,124.6 881.8,123.4 881.9,122.2 882.1,121.0 882.2,119.8 882.4,118.6 882.6,117.4 882.8,116.2 882.9,115.1 883.1,113.9 883.3,112.7 883.5,111.5 883.7,110.3 883.9,109.1 884.1,107.9 884.3,106.7 884.5,105.5 884.7,104.3 884.9,103.1 885.1,101.9 885.4,100.7 885.6,99.5 885.8,98.3 886.1,97.2 886.3,96.0 886.6,94.8 886.8,93.6 887.1,92.4 887.3,91.2 887.6,90.0 887.9,88.8 888.2,87.6 888.5,86.4 888.8,85.2 889.2,84.1 889.6,82.9 890.1,81.8 890.6,80.7 891.2,79.6 891.9,78.6 892.6,77.6 893.3,76.8 894.1,76.3 894.8,76.0 895.5,76.1 896.2,76.5 896.8,77.2 897.3,78.1 897.9,79.1 898.4,80.1 898.8,81.2 899.3,82.3 899.7,83.5 900.1,84.7 900.4,85.8 900.8,87.0 901.1,88.3 901.4,89.5 901.7,90.7 902.1,91.9 902.3,93.1 902.6,94.3 902.9,95.5 903.2,96.7 903.5,97.9 903.7,99.1 904.0,100.3 904.2,101.5 904.5,102.7 904.7,103.9 904.9,105.1 905.1,106.3 905.4,107.5 905.6,108.7 905.8,109.9 906.0,111.1 906.2,112.3 906.3,113.5 906.5,114.7 906.7,115.9 906.9,117.1 907.0,118.3 907.2,119.4 907.4,120.6 907.5,121.8 907.7,123.0 907.8,124.2 907.9,125.4 908.1,126.6 908.2,127.8 908.4,129.0 908.5,130.1 908.6,131.3 908.7,132.5 908.9,133.7 909.0,134.9 909.1,136.1 909.2,137.3 909.3,138.4 909.4,139.6 909.5,140.8 909.6,142.0 909.7,143.2 909.8,144.4 909.9,145.6 910.0,146.7 910.1,147.9 910.2,149.1 910.3,150.3 910.4,151.5 910.5,152.6 910.6,153.8 910.7,155.0 910.8,156.2 910.9,157.4 911.0,158.6 911.1,159.7 911.2,160.9 911.3,162.1 911.4,163.3 911.5,164.5 911.6,165.7 911.7,166.8 911.8,168.0 912.0,169.2 912.1,170.4 912.2,171.6 912.3,172.8 912.4,173.9 912.5,175.1 912.7,176.3 912.8,177.5 912.9,178.7 913.1,179.9 913.2,181.0 913.3,182.2 913.5,183.4 913.6,184.6 913.8,185.8 913.9,187.0 914.1,188.2 914.3,189.4 914.4,190.5 914.6,191.7 914.8,192.9 915.0,194.1 915.2,195.3 915.4,196.5 915.6,197.7 915.8,198.9 916.0,200.1 916.2,201.3 916.4,202.5 916.7,203.6 916.9,204.8 917.1,206.0 917.4,207.2 917.6,208.4 917.9,209.6 918.2,210.8 918.5,212.0 918.7,213.2 919.0,214.4 919.3,215.6 919.6,216.8 919.9,218.0 920.2,219.2 920.6,220.4 920.9,221.6 921.2,222.8 921.6,223.9 921.9,225.1 922.2,226.3 922.6,227.5 922.9,228.6 923.3,229.8 923.7,231.0 924.0,232.1 924.4,233.3 924.8,234.4 925.1,235.6 925.5,236.7 925.9,237.8 926.3,239.0 926.7,240.1 927.0,241.2 927.4,242.3 927.8,243.4 928.2,244.5 928.6,245.6 929.0,246.7 929.4,247.7 929.8,248.8 930.3,249.9 930.7,250.9 931.1,251.9 931.6,253.0 932.1,254.0 932.6,255.0 933.1,256.0 933.7,257.0 934.2,257.9 934.9,258.9 935.5,259.9 936.2,260.8 936.9,261.8 937.6,262.7 938.4,263.6 939.2,264.5 940.0,265.4 940.8,266.2 941.7,267.1 942.6,267.9 943.5,268.8 944.5,269.6 945.4,270.4 946.4,271.2 947.4,272.0 948.4,272.7 949.4,273.5 950.4,274.2 951.5,274.9 952.5,275.6 953.6,276.3 954.7,277.0 955.7,277.6 956.8,278.3 957.9,278.9 959.0,279.5 960.1,280.1 961.1,280.6 962.2,281.2 963.3,281.7 964.4,282.2 965.6,282.7 966.7,283.2 967.8,283.6 968.9,284.1 970.0,284.5 971.2,284.9 972.3,285.3 973.4,285.6 974.6,285.9 975.7,286.2 976.9,286.5 978.0,286.8 979.2,287.1 980.3,287.3 981.5,287.5 982.6,287.7 983.8,287.8 985.0,287.9 986.1,288.1 987.3,288.1 988.5,288.2 989.6,288.2 990.8,288.2 992.0,288.2 993.2,288.2 994.3,288.2 995.5,288.1 996.7,288.0 997.9,287.9 999.1,287.8 1000.3,287.7 1001.5,287.6 1002.7,287.5 1003.9,287.4 1005.0,287.3 1006.2,287.2 1007.4,287.0 1008.6,286.9 1009.8,286.9 1011.0,286.8 1012.2,286.7 1013.4,286.6 1014.6,286.5 1015.8,286.5 1017.0,286.4 1018.2,286.4 1019.4,286.4 1020.6,286.4 1021.8,286.3 1023.0,286.3 1024.2,286.3 1025.4,286.4 1026.6,286.4 1027.8,286.4 1029.0,286.5 1030.2,286.6 1031.4,286.6 1032.6,286.7 1033.8,286.8 1035.0,287.0 1036.1,287.1 1037.3,287.2 1038.5,287.4 1039.7,287.6 1040.9,287.8 1042.1,288.0 1043.2,288.2 1044.4,288.4 1045.6,288.7 1046.8,288.9 1047.9,289.2 1049.1,289.5 1050.3,289.8 1051.4,290.1 1052.6,290.4 1053.8,290.7 1054.9,291.1 1056.1,291.4 1057.3,291.8 1058.4,292.1 1059.6,292.5 1060.7,292.9 1061.9,293.2 1063.0,293.6 1064.2,294.0 1065.4,294.4 1066.5,294.8 1067.7,295.2 1068.8,295.5 1070.0,295.9 1071.1,296.3 1072.3,296.7 1073.4,297.1 1074.6,297.5 1075.7,297.9 1076.9,298.2 1078.0,298.6 1079.2,299.0 1080.3,299.4 1081.5,299.7 1082.6,300.1 1083.8,300.4 1084.9,300.8 1086.1,301.1 1087.2,301.4 1088.4,301.7 1089.5,302.0 1090.7,302.3 1091.8,302.6 1093.0,302.9 1094.1,303.2 1095.3,303.4 1096.4,303.7 1097.6,303.9 1098.7,304.2 1099.9,304.4 1101.0,304.6 1102.2,304.8 1103.3,305.0 1104.5,305.2 1105.7,305.4 1106.8,305.6 1108.0,305.8 1109.2,306.0 1110.3,306.1 1111.5,306.3 1112.6,306.4 1113.8,306.6 1115.0,306.7 1116.2,306.9 1117.3,307.0 1118.5,307.1 1119.7,307.2 1120.9,307.4 1122.0,307.5 1123.2,307.6 1124.4,307.7 1125.6,307.8 1126.8,307.9 1128.0,307.9 1129.2,308.0 1130.4,308.1 1131.6,308.2 1132.8,308.3 1134.0,308.3 1135.2,308.4 1136.4,308.4 1137.6,308.5 1138.8,308.5 1140.0,308.6 1141.2,308.6 1142.4,308.7 1143.7,308.7 1144.9,308.8 1146.1,308.8 1147.3,308.8 1148.6,308.9 1149.8,308.9 1151.0,308.9 1152.3,308.9 1153.5,309.0 1154.8,309.0 1156.0,309.0" stroke="#DFC27D" stroke-width="1.5"/>
<path d="M713.1,304.3 714.3,304.1 715.6,303.9 716.8,303.8 718.0,303.6 719.2,303.5 720.5,303.4 721.7,303.3 722.9,303.2 724.1,303.2 725.4,303.1 726.6,303.1 727.8,303.1 729.0,303.1 730.2,303.1 731.4,303.1 732.7,303.1 733.9,303.1 735.1,303.2 736.3,303.2 737.5,303.3 738.7,303.3 739.9,303.4 741.1,303.4 742.3,303.5 743.5,303.6 744.7,303.6 745.9,303.7 747.1,303.8 748.3,303.8 749.4,303.9 750.6,304.0 751.8,304.0 753.0,304.1 754.2,304.1 755.4,304.2 756.6,304.2 757.7,304.3 758.9,304.3 760.1,304.3 761.3,304.3 762.5,304.3 763.6,304.3 764.8,304.3 766.0,304.2 767.2,304.2 768.3,304.1 769.5,304.0 770.7,303.9 771.8,303.8 773.0,303.7 774.2,303.6 775.3,303.4 776.5,303.2 777.7,303.1 778.8,302.9 780.0,302.6 781.2,302.4 782.3,302.2 783.5,301.9 784.7,301.7 785.8,301.4 787.0,301.1 788.1,300.8 789.3,300.5 790.4,300.2 791.6,299.9 792.8,299.6 793.9,299.3 795.1,298.9 796.2,298.6 797.4,298.2 798.5,297.8 799.7,297.5 800.8,297.1 802.0,296.7 803.1,296.3 804.3,295.9 805.5,295.5 806.6,295.1 807.8,294.7 808.9,294.3 810.1,293.9 811.2,293.4 812.4,293.0 813.5,292.6 814.7,292.1 815.8,291.7 817.0,291.2 818.1,290.8 819.3,290.4 820.4,289.9 821.6,289.5 822.7,289.0 823.9,288.5 825.0,288.1 826.1,287.6 827.3,287.1 828.4,286.7 829.5,286.2 830.7,285.7 831.8,285.2 832.9,284.7 834.0,284.2 835.0,283.6 836.1,283.1 837.2,282.5 838.2,282.0 839.2,281.4 840.3,280.8 841.3,280.2 842.3,279.6 843.2,278.9 844.2,278.3 845.1,277.6 846.0,276.9 846.9,276.2 847.8,275.5 848.6,274.7 849.5,273.9 850.3,273.1 851.0,272.3 851.8,271.4 852.5,270.6 853.2,269.7 853.9,268.7 854.5,267.8 855.1,266.8 855.7,265.8 856.3,264.8 856.8,263.7 857.3,262.6 857.8,261.6 858.3,260.4 858.7,259.3 859.1,258.2 859.5,257.0 859.9,255.9 860.3,254.7 860.7,253.5 861.0,252.3 861.4,251.1 861.7,249.9 862.1,248.7 862.4,247.6 862.7,246.4 863.0,245.2 863.3,244.0 863.6,242.8 863.9,241.6 864.2,240.4 864.5,239.2 864.8,238.0 865.1,236.8 865.4,235.7 865.7,234.5 865.9,233.3 866.2,232.1 866.5,230.9 866.7,229.7 867.0,228.6 867.2,227.4 867.5,226.2 867.7,225.0 867.9,223.8 868.2,222.7 868.4,221.5 868.6,220.3 868.8,219.1 869.1,217.9 869.3,216.8 869.5,215.6 869.7,214.4 869.9,213.2 870.1,212.1 870.3,210.9 870.5,209.7 870.7,208.5 870.8,207.3 871.0,206.2 871.2,205.0 871.4,203.8 871.5,202.6 871.7,201.4 871.9,200.3 872.0,199.1 872.2,197.9 872.3,196.7 872.5,195.5 872.6,194.4 872.8,193.2 872.9,192.0 873.1,190.8 873.2,189.6 873.4,188.5 873.5,187.3 873.6,186.1 873.8,184.9 873.9,183.7 874.0,182.6 874.2,181.4 874.3,180.2 874.4,179.0 874.5,177.8 874.7,176.7 874.8,175.5 874.9,174.3 875.0,173.1 875.2,171.9 875.3,170.7 875.4,169.6 875.6,168.4 875.7,167.2 875.8,166.0 875.9,164.8 876.1,163.6 876.2,162.4 876.3,161.3 876.5,160.1 876.6,158.9 876.7,157.7 876.9,156.5 877.0,155.3 877.1,154.1 877.3,153.0 877.4,151.8 877.6,150.6 877.7,149.4 877.8,148.2 878.0,147.0 878.1,145.8 878.3,144.7 878.5,143.5 878.6,142.3 878.8,141.1 879.0,139.9 879.1,138.7 879.3,137.5 879.5,136.3 879.7,135.1 879.8,133.9 880.0,132.8 880.2,131.6 880.4,130.4 880.6,129.2 880.8,128.0 881.0,126.8 881.2,125.6 881.5,124.4 881.7,123.2 881.9,122.0 882.1,120.8 882.4,119.7 882.6,118.5 882.9,117.3 883.1,116.1 883.4,114.9 883.6,113.7 883.9,112.5 884.2,111.3 884.5,110.1 884.7,108.9 885.0,107.7 885.3,106.5 885.6,105.3 886.0,104.1 886.3,102.9 886.6,101.7 886.9,100.5 887.3,99.3 887.6,98.1 888.0,96.9 888.3,95.7 888.7,94.6 889.1,93.4 889.5,92.2 889.9,91.1 890.4,90.1 890.9,89.1 891.4,88.2 892.0,87.4 892.6,86.6 893.3,86.1 894.0,85.8 894.8,85.7 895.6,85.9 896.4,86.4 897.3,87.0 898.0,87.8 898.7,88.7 899.3,89.7 899.8,90.7 900.2,91.8 900.7,93.0 901.0,94.2 901.4,95.4 901.7,96.6 902.0,97.9 902.3,99.1 902.6,100.3 902.9,101.5 903.2,102.7 903.5,104.0 903.7,105.2 904.0,106.4 904.2,107.6 904.5,108.8 904.7,110.0 904.9,111.2 905.1,112.5 905.4,113.7 905.6,114.9 905.8,116.1 906.0,117.3 906.2,118.5 906.3,119.7 906.5,120.9 906.7,122.1 906.9,123.3 907.0,124.5 907.2,125.7 907.3,126.9 907.5,128.0 907.6,129.2 907.8,130.4 907.9,131.6 908.1,132.8 908.2,134.0 908.3,135.2 908.4,136.4 908.6,137.6 908.7,138.7 908.8,139.9 908.9,141.1 909.0,142.3 909.1,143.5 909.2,144.7 909.3,145.8 909.4,147.0 909.5,148.2 909.6,149.4 909.7,150.6 909.8,151.7 909.9,152.9 910.0,154.1 910.1,155.3 910.2,156.5 910.3,157.6 910.4,158.8 910.5,160.0 910.6,161.2 910.7,162.3 910.8,163.5 910.9,164.7 911.0,165.9 911.1,167.1 911.2,168.2 911.3,169.4 911.4,170.6 911.5,171.8 911.6,172.9 911.8,174.1 911.9,175.3 912.0,176.5 912.1,177.7 912.2,178.8 912.4,180.0 912.5,181.2 912.6,182.4 912.8,183.5 912.9,184.7 913.1,185.9 913.2,187.1 913.4,188.3 913.5,189.5 913.7,190.6 913.9,191.8 914.1,193.0 914.2,194.2 914.4,195.4 914.6,196.6 914.8,197.7 915.0,198.9 915.2,200.1 915.5,201.3 915.7,202.5 915.9,203.7 916.2,204.9 916.4,206.1 916.7,207.3 916.9,208.5 917.2,209.7 917.5,210.9 917.7,212.1 918.0,213.2 918.3,214.4 918.6,215.6 918.9,216.8 919.3,218.0 919.6,219.2 919.9,220.4 920.2,221.6 920.6,222.8 920.9,224.0 921.3,225.2 921.6,226.3 922.0,227.5 922.3,228.7 922.7,229.9 923.1,231.0 923.4,232.2 923.8,233.3 924.2,234.5 924.6,235.6 925.0,236.8 925.3,237.9 925.7,239.1 926.1,240.2 926.5,241.3 926.9,242.4 927.3,243.5 927.7,244.6 928.1,245.7 928.5,246.8 928.9,247.9 929.3,249.0 929.7,250.0 930.2,251.1 930.6,252.1 931.1,253.2 931.5,254.2 932.0,255.2 932.5,256.2 933.1,257.2 933.7,258.2 934.3,259.2 934.9,260.2 935.6,261.1 936.3,262.1 937.0,263.0 937.8,263.9 938.6,264.8 939.4,265.7 940.3,266.6 941.2,267.5 942.1,268.4 943.0,269.2 943.9,270.1 944.8,270.9 945.8,271.7 946.7,272.5 947.7,273.3 948.7,274.0 949.7,274.8 950.7,275.5 951.7,276.2 952.7,276.9 953.7,277.6 954.7,278.3 955.7,278.9 956.8,279.6 957.8,280.2 958.9,280.8 959.9,281.4 961.0,282.0 962.1,282.5 963.1,283.0 964.2,283.6 965.3,284.0 966.4,284.5 967.5,285.0 968.6,285.4 969.7,285.8 970.8,286.2 972.0,286.6 973.1,286.9 974.2,287.3 975.4,287.6 976.5,287.9 977.6,288.1 978.8,288.4 979.9,288.6 981.1,288.8 982.3,288.9 983.4,289.1 984.6,289.2 985.8,289.3 986.9,289.4 988.1,289.4 989.3,289.5 990.5,289.5 991.7,289.4 992.9,289.4 994.1,289.3 995.3,289.3 996.5,289.2 997.7,289.1 998.9,289.0 1000.1,288.9 1001.3,288.8 1002.5,288.6 1003.7,288.5 1004.9,288.4 1006.1,288.3 1007.3,288.2 1008.5,288.2 1009.7,288.1 1010.9,288.0 1012.2,288.0 1013.4,288.0 1014.6,287.9 1015.8,287.9 1017.0,287.9 1018.2,287.9 1019.4,288.0 1020.6,288.0 1021.8,288.0 1023.1,288.1 1024.3,288.2 1025.5,288.2 1026.7,288.3 1027.9,288.4 1029.1,288.5 1030.3,288.6 1031.5,288.8 1032.7,288.9 1033.9,289.0 1035.1,289.2 1036.3,289.4 1037.4,289.5 1038.6,289.7 1039.8,289.9 1041.0,290.1 1042.2,290.3 1043.4,290.5 1044.5,290.8 1045.7,291.0 1046.9,291.2 1048.0,291.5 1049.2,291.7 1050.4,292.0 1051.6,292.3 1052.7,292.5 1053.9,292.8 1055.0,293.1 1056.2,293.4 1057.4,293.7 1058.5,294.0 1059.7,294.3 1060.8,294.6 1062.0,294.9 1063.2,295.2 1064.3,295.5 1065.5,295.8 1066.6,296.1 1067.8,296.5 1068.9,296.8 1070.1,297.1 1071.2,297.5 1072.4,297.8 1073.5,298.1 1074.7,298.5 1075.8,298.8 1077.0,299.1 1078.1,299.5 1079.3,299.8 1080.4,300.1 1081.5,300.5 1082.7,300.8 1083.8,301.2 1085.0,301.5 1086.1,301.8 1087.3,302.2 1088.4,302.5 1089.6,302.8 1090.7,303.1 1091.9,303.5 1093.0,303.8 1094.2,304.1 1095.3,304.4 1096.5,304.7 1097.6,305.0 1098.8,305.3 1099.9,305.6 1101.1,305.9 1102.2,306.2 1103.4,306.5 1104.6,306.8 1105.7,307.0 1106.9,307.3 1108.0,307.6 1109.2,307.8 1110.4,308.1 1111.5,308.3 1112.7,308.5 1113.9,308.7 1115.0,309.0 1116.2,309.2 1117.4,309.4 1118.5,309.6 1119.7,309.7 1120.9,309.9 1122.1,310.1 1123.3,310.2 1124.4,310.4 1125.6,310.5 1126.8,310.7 1128.0,310.8 1129.2,310.9 1130.4,311.0 1131.6,311.1 1132.8,311.1 1134.0,311.2 1135.2,311.2 1136.4,311.3 1137.6,311.3 1138.8,311.3 1140.0,311.3 1141.2,311.3 1142.4,311.3 1143.7,311.2 1144.9,311.2 1146.1,311.1 1147.3,311.0 1148.6,310.9 1149.8,310.8 1151.0,310.7 1152.3,310.5 1153.5,310.3 1154.8,310.2 1156.0,310.0" stroke="#F6E8C3" stroke-width="1.5"/>
<path d="M713.2,301.7 714.4,301.6 715.5,301.4 716.7,301.3 717.8,301.2 719.0,301.1 720.2,300.9 721.4,300.8 722.5,300.7 723.7,300.6 724.9,300.5 726.1,300.4 727.3,300.3 728.5,300.2 729.7,300.1 730.9,300.0 732.1,299.9 733.3,299.8 734.5,299.8 735.7,299.7 736.9,299.6 738.1,299.5 739.4,299.5 740.6,299.4 741.8,299.4 743.0,299.3 744.2,299.3 745.5,299.2 746.7,299.2 747.9,299.1 749.1,299.1 750.4,299.1 751.6,299.0 752.8,299.0 754.0,299.0 755.2,299.0 756.5,299.0 757.7,298.9 758.9,298.9 760.1,298.9 761.3,298.9 762.5,298.9 763.7,299.0 764.9,299.0 766.1,299.0 767.3,299.0 768.5,299.0 769.7,299.1 770.9,299.1 772.1,299.1 773.3,299.2 774.5,299.2 775.6,299.2 776.8,299.3 778.0,299.3 779.1,299.3 780.3,299.3 781.4,299.3 782.6,299.3 783.7,299.2 784.9,299.2 786.0,299.1 787.2,299.0 788.3,298.9 789.5,298.7 790.6,298.5 791.7,298.3 792.8,298.1 794.0,297.8 795.1,297.5 796.2,297.1 797.3,296.8 798.5,296.4 799.6,295.9 800.7,295.5 801.8,295.0 802.9,294.5 804.0,294.0 805.1,293.5 806.2,292.9 807.3,292.4 808.4,291.8 809.5,291.2 810.6,290.7 811.7,290.1 812.8,289.5 813.9,288.9 815.0,288.3 816.1,287.6 817.2,287.0 818.3,286.4 819.4,285.8 820.5,285.3 821.6,284.7 822.7,284.1 823.8,283.5 824.9,283.0 826.0,282.4 827.0,281.9 828.1,281.3 829.2,280.7 830.3,280.2 831.3,279.6 832.4,279.0 833.4,278.5 834.5,277.9 835.5,277.3 836.5,276.7 837.5,276.1 838.5,275.5 839.5,274.9 840.5,274.2 841.5,273.6 842.5,272.9 843.4,272.2 844.3,271.5 845.3,270.8 846.2,270.1 847.0,269.3 847.9,268.5 848.8,267.7 849.6,266.9 850.4,266.0 851.1,265.1 851.9,264.2 852.6,263.3 853.3,262.3 853.9,261.3 854.6,260.3 855.2,259.3 855.8,258.2 856.4,257.1 856.9,256.1 857.4,255.0 857.9,253.9 858.4,252.7 858.9,251.6 859.3,250.5 859.7,249.3 860.2,248.2 860.6,247.0 860.9,245.9 861.3,244.8 861.7,243.6 862.0,242.4 862.3,241.3 862.7,240.1 863.0,239.0 863.3,237.8 863.6,236.7 863.9,235.5 864.2,234.3 864.4,233.2 864.7,232.0 865.0,230.8 865.2,229.7 865.5,228.5 865.8,227.3 866.0,226.2 866.3,225.0 866.6,223.8 866.8,222.7 867.1,221.5 867.4,220.3 867.6,219.2 867.9,218.0 868.2,216.8 868.4,215.7 868.7,214.5 869.0,213.3 869.2,212.2 869.5,211.0 869.8,209.8 870.1,208.7 870.3,207.5 870.6,206.3 870.9,205.1 871.1,204.0 871.4,202.8 871.7,201.6 871.9,200.5 872.2,199.3 872.5,198.1 872.7,197.0 873.0,195.8 873.3,194.6 873.5,193.4 873.8,192.3 874.0,191.1 874.3,189.9 874.5,188.8 874.8,187.6 875.0,186.4 875.3,185.2 875.5,184.1 875.8,182.9 876.0,181.7 876.3,180.6 876.5,179.4 876.7,178.2 877.0,177.0 877.2,175.9 877.4,174.7 877.6,173.5 877.9,172.3 878.1,171.2 878.3,170.0 878.5,168.8 878.7,167.6 878.9,166.5 879.1,165.3 879.3,164.1 879.5,162.9 879.7,161.8 879.8,160.6 880.0,159.4 880.2,158.2 880.4,157.0 880.5,155.9 880.7,154.7 880.8,153.5 881.0,152.3 881.2,151.1 881.3,150.0 881.4,148.8 881.6,147.6 881.7,146.4 881.9,145.2 882.1,144.1 882.2,142.9 882.4,141.7 882.5,140.5 882.7,139.3 882.9,138.1 883.1,136.9 883.3,135.8 883.5,134.6 883.7,133.4 884.0,132.2 884.2,131.0 884.5,129.8 884.8,128.6 885.0,127.4 885.4,126.2 885.7,125.0 886.0,123.8 886.4,122.6 886.8,121.4 887.2,120.2 887.6,119.0 888.1,117.8 888.5,116.6 889.0,115.4 889.6,114.2 890.1,113.0 890.7,111.9 891.3,110.8 891.9,109.9 892.5,109.1 893.1,108.5 893.8,108.2 894.4,108.0 895.0,108.2 895.7,108.6 896.3,109.2 896.9,110.0 897.6,110.9 898.2,111.9 898.7,113.1 899.3,114.2 899.9,115.4 900.4,116.6 900.9,117.8 901.4,119.0 901.8,120.2 902.2,121.4 902.7,122.6 903.1,123.8 903.4,125.0 903.8,126.2 904.1,127.4 904.4,128.6 904.7,129.8 905.0,131.0 905.3,132.2 905.6,133.4 905.8,134.6 906.0,135.8 906.3,137.0 906.5,138.2 906.7,139.4 906.8,140.6 907.0,141.8 907.2,143.0 907.3,144.2 907.5,145.4 907.6,146.6 907.7,147.8 907.8,148.9 908.0,150.1 908.1,151.3 908.2,152.5 908.3,153.7 908.4,154.9 908.5,156.1 908.5,157.3 908.6,158.5 908.7,159.7 908.8,160.8 908.9,162.0 908.9,163.2 909.0,164.4 909.1,165.6 909.2,166.8 909.3,167.9 909.3,169.1 909.4,170.3 909.5,171.5 909.6,172.7 909.7,173.9 909.8,175.0 909.9,176.2 910.0,177.4 910.1,178.6 910.2,179.7 910.3,180.9 910.4,182.1 910.5,183.3 910.7,184.4 910.8,185.6 911.0,186.8 911.1,188.0 911.3,189.1 911.4,190.3 911.6,191.5 911.8,192.7 912.0,193.8 912.2,195.0 912.4,196.2 912.6,197.3 912.9,198.5 913.1,199.7 913.4,200.8 913.6,202.0 913.9,203.2 914.2,204.3 914.5,205.5 914.8,206.7 915.2,207.8 915.5,209.0 915.9,210.1 916.2,211.3 916.6,212.5 917.0,213.6 917.4,214.8 917.8,216.0 918.2,217.1 918.6,218.3 919.0,219.4 919.4,220.6 919.8,221.7 920.2,222.9 920.6,224.1 920.9,225.2 921.3,226.4 921.6,227.5 922.0,228.7 922.3,229.8 922.7,231.0 923.0,232.1 923.3,233.3 923.6,234.4 924.0,235.6 924.3,236.7 924.6,237.9 924.9,239.0 925.2,240.1 925.6,241.3 925.9,242.4 926.2,243.5 926.5,244.7 926.9,245.8 927.2,246.9 927.6,248.0 928.0,249.1 928.4,250.3 928.7,251.4 929.2,252.5 929.6,253.6 930.0,254.7 930.5,255.8 930.9,256.8 931.4,257.9 931.9,259.0 932.4,260.1 933.0,261.1 933.5,262.2 934.1,263.3 934.7,264.3 935.4,265.4 936.0,266.4 936.7,267.4 937.4,268.4 938.1,269.4 938.8,270.4 939.6,271.4 940.4,272.4 941.1,273.3 942.0,274.2 942.8,275.1 943.6,276.0 944.5,276.9 945.4,277.7 946.3,278.6 947.2,279.4 948.1,280.1 949.0,280.9 950.0,281.6 951.0,282.3 951.9,283.0 952.9,283.6 953.9,284.2 955.0,284.8 956.0,285.3 957.1,285.8 958.1,286.3 959.2,286.7 960.3,287.1 961.4,287.5 962.5,287.9 963.6,288.2 964.7,288.5 965.8,288.8 967.0,289.0 968.1,289.3 969.3,289.5 970.4,289.7 971.6,289.9 972.8,290.0 974.0,290.2 975.2,290.3 976.4,290.4 977.6,290.6 978.8,290.7 980.0,290.7 981.2,290.8 982.4,290.9 983.7,290.9 984.9,291.0 986.1,291.0 987.3,291.0 988.6,291.0 989.8,291.0 991.0,291.0 992.3,291.0 993.5,291.0 994.8,291.0 996.0,290.9 997.2,290.9 998.5,290.9 999.7,290.8 1000.9,290.8 1002.2,290.8 1003.4,290.7 1004.6,290.7 1005.8,290.6 1007.1,290.6 1008.3,290.5 1009.5,290.5 1010.7,290.4 1011.9,290.4 1013.1,290.4 1014.3,290.3 1015.5,290.3 1016.7,290.3 1017.9,290.3 1019.0,290.3 1020.2,290.3 1021.4,290.3 1022.6,290.3 1023.7,290.3 1024.9,290.4 1026.1,290.4 1027.2,290.5 1028.4,290.6 1029.5,290.7 1030.7,290.8 1031.8,291.0 1033.0,291.1 1034.1,291.3 1035.3,291.5 1036.4,291.7 1037.6,291.9 1038.7,292.2 1039.9,292.4 1041.0,292.7 1042.1,293.0 1043.3,293.4 1044.4,293.8 1045.6,294.1 1046.7,294.5 1047.8,294.9 1049.0,295.4 1050.1,295.8 1051.2,296.2 1052.4,296.6 1053.5,297.1 1054.6,297.5 1055.8,297.9 1056.9,298.3 1058.0,298.7 1059.2,299.2 1060.3,299.6 1061.5,300.0 1062.6,300.4 1063.7,300.9 1064.9,301.3 1066.0,301.8 1067.2,302.2 1068.3,302.7 1069.4,303.1 1070.6,303.6 1071.7,304.0 1072.9,304.3 1074.0,304.7 1075.2,305.0 1076.4,305.3 1077.5,305.6 1078.7,305.8 1079.8,306.1 1081.0,306.3 1082.2,306.5 1083.3,306.7 1084.5,306.9 1085.6,307.1 1086.8,307.3 1088.0,307.5 1089.2,307.7 1090.3,307.9 1091.5,308.1 1092.7,308.3 1093.9,308.5 1095.0,308.7 1096.2,308.8 1097.4,309.0 1098.6,309.2 1099.8,309.3 1100.9,309.5 1102.1,309.6 1103.3,309.7 1104.5,309.8 1105.7,309.9 1106.9,310.0 1108.1,310.1 1109.2,310.2 1110.4,310.2 1111.6,310.3 1112.8,310.3 1114.0,310.3 1115.2,310.3 1116.4,310.3 1117.6,310.3 1118.8,310.3 1120.0,310.3 1121.2,310.3 1122.4,310.2 1123.6,310.2 1124.8,310.1 1126.0,310.1 1127.2,310.0 1128.4,310.0 1129.6,309.9 1130.8,309.9 1132.0,309.8 1133.2,309.8 1134.4,309.7 1135.6,309.7 1136.8,309.6 1138.0,309.6 1139.2,309.6 1140.4,309.5 1141.6,309.5 1142.8,309.5 1144.0,309.5 1145.2,309.5 1146.4,309.6 1147.6,309.6 1148.8,309.6 1150.0,309.7 1151.2,309.8 1152.4,309.8 1153.6,309.9 1154.8,310.1 1156.0,310.2" stroke="#80CDC1" stroke-width="1.5"/>
<path d="M713.2,298.2 714.4,297.8 715.5,297.4 716.7,297.1 717.9,296.8 719.1,296.5 720.2,296.3 721.4,296.0 722.6,295.8 723.8,295.6 725.0,295.5 726.1,295.3 727.3,295.2 728.5,295.1 729.7,295.0 730.9,294.9 732.1,294.9 733.3,294.8 734.5,294.8 735.7,294.8 736.9,294.8 738.1,294.8 739.3,294.9 740.5,294.9 741.7,295.0 742.9,295.0 744.1,295.1 745.3,295.2 746.5,295.2 747.7,295.3 748.9,295.4 750.1,295.5 751.3,295.6 752.5,295.7 753.7,295.8 754.9,295.9 756.1,296.0 757.3,296.1 758.5,296.2 759.7,296.3 760.9,296.4 762.1,296.5 763.3,296.6 764.5,296.6 765.7,296.7 766.9,296.8 768.1,296.8 769.3,296.8 770.5,296.9 771.6,296.9 772.8,296.9 774.0,296.9 775.2,296.9 776.4,296.9 777.6,296.8 778.7,296.8 779.9,296.7 781.1,296.6 782.2,296.5 783.4,296.4 784.6,296.2 785.7,296.1 786.9,295.9 788.1,295.7 789.2,295.5 790.4,295.2 791.5,294.9 792.7,294.6 793.8,294.3 794.9,294.0 796.1,293.6 797.2,293.2 798.3,292.8 799.5,292.4 800.6,291.9 801.7,291.5 802.8,291.0 803.9,290.5 805.1,290.0 806.2,289.5 807.3,289.0 808.4,288.5 809.5,287.9 810.6,287.4 811.7,286.9 812.9,286.3 814.0,285.8 815.1,285.2 816.2,284.7 817.3,284.2 818.4,283.6 819.5,283.1 820.6,282.6 821.7,282.1 822.9,281.6 824.0,281.1 825.1,280.7 826.2,280.2 827.3,279.8 828.4,279.4 829.6,278.9 830.7,278.5 831.8,278.1 832.8,277.7 833.9,277.2 835.0,276.7 836.0,276.2 837.0,275.7 838.0,275.1 839.0,274.5 840.0,273.9 840.9,273.2 841.8,272.5 842.7,271.8 843.5,271.0 844.4,270.2 845.2,269.4 846.0,268.5 846.8,267.6 847.6,266.7 848.3,265.8 849.0,264.8 849.7,263.9 850.4,262.9 851.1,261.9 851.7,260.8 852.4,259.8 853.0,258.7 853.6,257.7 854.2,256.6 854.7,255.5 855.3,254.4 855.8,253.3 856.4,252.1 856.9,251.0 857.4,249.9 857.8,248.7 858.3,247.6 858.8,246.5 859.2,245.3 859.7,244.2 860.1,243.1 860.5,241.9 860.9,240.8 861.3,239.6 861.7,238.5 862.0,237.3 862.4,236.2 862.7,235.0 863.1,233.9 863.4,232.7 863.8,231.6 864.1,230.4 864.4,229.3 864.7,228.1 865.0,227.0 865.3,225.8 865.6,224.7 865.9,223.5 866.1,222.3 866.4,221.2 866.7,220.0 867.0,218.9 867.2,217.7 867.5,216.5 867.7,215.4 868.0,214.2 868.2,213.1 868.5,211.9 868.8,210.7 869.0,209.6 869.3,208.4 869.5,207.2 869.8,206.1 870.0,204.9 870.3,203.7 870.5,202.6 870.8,201.4 871.0,200.2 871.3,199.0 871.5,197.9 871.8,196.7 872.0,195.5 872.3,194.4 872.5,193.2 872.8,192.0 873.1,190.8 873.3,189.7 873.6,188.5 873.8,187.3 874.1,186.2 874.3,185.0 874.6,183.8 874.8,182.6 875.1,181.5 875.3,180.3 875.6,179.1 875.8,177.9 876.1,176.8 876.3,175.6 876.6,174.4 876.8,173.3 877.1,172.1 877.3,170.9 877.6,169.7 877.8,168.6 878.1,167.4 878.3,166.2 878.6,165.1 878.8,163.9 879.1,162.7 879.3,161.5 879.6,160.4 879.8,159.2 880.0,158.0 880.3,156.9 880.5,155.7 880.8,154.5 881.0,153.4 881.3,152.2 881.5,151.0 881.8,149.9 882.0,148.7 882.3,147.5 882.6,146.4 883.0,145.2 883.3,144.1 883.7,142.9 884.1,141.7 884.5,140.6 884.9,139.4 885.4,138.2 885.9,137.1 886.5,135.9 887.0,134.7 887.6,133.6 888.2,132.4 888.8,131.2 889.5,130.1 890.2,129.0 890.9,128.1 891.6,127.3 892.3,126.7 893.0,126.3 893.7,126.2 894.5,126.4 895.2,126.8 895.9,127.5 896.6,128.4 897.3,129.3 897.9,130.4 898.6,131.6 899.2,132.8 899.8,133.9 900.3,135.1 900.9,136.3 901.4,137.5 901.8,138.7 902.3,139.9 902.7,141.1 903.2,142.3 903.6,143.4 903.9,144.6 904.3,145.8 904.6,147.0 905.0,148.2 905.3,149.4 905.6,150.6 905.8,151.7 906.1,152.9 906.4,154.1 906.6,155.3 906.8,156.5 907.0,157.6 907.3,158.8 907.5,160.0 907.6,161.2 907.8,162.3 908.0,163.5 908.2,164.7 908.3,165.9 908.5,167.0 908.7,168.2 908.8,169.4 909.0,170.5 909.1,171.7 909.2,172.9 909.4,174.0 909.5,175.2 909.7,176.4 909.8,177.5 909.9,178.7 910.1,179.8 910.2,181.0 910.3,182.2 910.5,183.3 910.6,184.5 910.8,185.7 910.9,186.8 911.1,188.0 911.3,189.1 911.4,190.3 911.6,191.5 911.8,192.6 912.0,193.8 912.2,194.9 912.4,196.1 912.6,197.3 912.8,198.4 913.1,199.6 913.3,200.8 913.6,201.9 913.8,203.1 914.1,204.2 914.4,205.4 914.7,206.6 915.1,207.7 915.4,208.9 915.8,210.1 916.1,211.3 916.5,212.4 916.9,213.6 917.3,214.8 917.7,215.9 918.0,217.1 918.4,218.3 918.8,219.5 919.2,220.7 919.5,221.8 919.9,223.0 920.3,224.2 920.6,225.4 920.9,226.6 921.2,227.8 921.5,228.9 921.8,230.1 922.1,231.3 922.4,232.5 922.6,233.7 922.9,234.9 923.1,236.1 923.4,237.3 923.6,238.4 923.9,239.6 924.1,240.8 924.4,242.0 924.7,243.1 924.9,244.3 925.2,245.4 925.5,246.6 925.8,247.7 926.1,248.9 926.4,250.0 926.7,251.2 927.0,252.3 927.4,253.4 927.8,254.5 928.2,255.6 928.6,256.7 929.0,257.8 929.5,258.9 929.9,259.9 930.4,261.0 931.0,262.0 931.5,263.1 932.1,264.1 932.7,265.1 933.3,266.1 934.0,267.1 934.7,268.0 935.4,269.0 936.1,270.0 936.9,270.9 937.7,271.8 938.5,272.7 939.4,273.6 940.2,274.4 941.1,275.3 942.0,276.1 942.9,276.9 943.8,277.7 944.8,278.5 945.8,279.2 946.7,280.0 947.7,280.7 948.8,281.3 949.8,282.0 950.8,282.6 951.9,283.2 953.0,283.8 954.1,284.4 955.2,284.9 956.3,285.4 957.4,285.9 958.5,286.3 959.6,286.8 960.8,287.2 961.9,287.6 963.1,287.9 964.2,288.3 965.4,288.6 966.6,288.9 967.7,289.2 968.9,289.4 970.1,289.7 971.3,289.9 972.4,290.1 973.6,290.3 974.8,290.5 976.0,290.7 977.2,290.8 978.3,291.0 979.5,291.1 980.7,291.2 981.9,291.4 983.1,291.5 984.2,291.6 985.4,291.7 986.6,291.7 987.8,291.8 989.0,291.9 990.1,292.0 991.3,292.0 992.5,292.1 993.7,292.1 994.8,292.2 996.0,292.2 997.2,292.3 998.4,292.3 999.6,292.4 1000.7,292.4 1001.9,292.5 1003.1,292.5 1004.3,292.6 1005.5,292.6 1006.6,292.7 1007.8,292.7 1009.0,292.8 1010.2,292.9 1011.3,293.0 1012.5,293.1 1013.7,293.2 1014.9,293.3 1016.1,293.4 1017.2,293.5 1018.4,293.6 1019.6,293.8 1020.8,294.0 1022.0,294.1 1023.1,294.3 1024.3,294.5 1025.5,294.7 1026.7,295.0 1027.8,295.2 1029.0,295.5 1030.2,295.7 1031.4,296.0 1032.6,296.3 1033.7,296.5 1034.9,296.8 1036.1,297.1 1037.3,297.4 1038.5,297.7 1039.6,298.0 1040.8,298.2 1042.0,298.5 1043.2,298.8 1044.4,299.0 1045.5,299.3 1046.7,299.5 1047.9,299.8 1049.1,300.0 1050.3,300.2 1051.4,300.4 1052.6,300.6 1053.8,300.8 1055.0,300.9 1056.2,301.0 1057.3,301.1 1058.5,301.3 1059.7,301.4 1060.9,301.6 1062.1,301.8 1063.2,302.0 1064.4,302.3 1065.6,302.7 1066.8,303.1 1068.0,303.6 1069.2,304.1 1070.3,304.5 1071.5,305.0 1072.7,305.4 1073.9,305.7 1075.1,306.1 1076.2,306.4 1077.4,306.7 1078.6,306.9 1079.8,307.2 1081.0,307.4 1082.2,307.6 1083.3,307.7 1084.5,307.9 1085.7,308.0 1086.9,308.1 1088.1,308.3 1089.3,308.4 1090.4,308.5 1091.6,308.5 1092.8,308.6 1094.0,308.7 1095.2,308.8 1096.4,308.9 1097.6,309.0 1098.7,309.0 1099.9,309.1 1101.1,309.2 1102.3,309.3 1103.5,309.4 1104.7,309.5 1105.9,309.5 1107.0,309.6 1108.2,309.7 1109.4,309.8 1110.6,309.8 1111.8,309.9 1113.0,310.0 1114.2,310.0 1115.4,310.1 1116.5,310.2 1117.7,310.2 1118.9,310.3 1120.1,310.4 1121.3,310.4 1122.5,310.5 1123.7,310.5 1124.9,310.6 1126.1,310.6 1127.2,310.7 1128.4,310.7 1129.6,310.7 1130.8,310.8 1132.0,310.8 1133.2,310.8 1134.4,310.8 1135.6,310.9 1136.8,310.9 1138.0,310.9 1139.2,310.9 1140.4,310.9 1141.6,310.9 1142.7,310.9 1143.9,310.9 1145.1,310.9 1146.3,310.9 1147.5,310.9 1148.7,310.8 1149.9,310.8 1151.1,310.8 1152.3,310.7 1153.5,310.7 1154.7,310.7 1155.9,310.6" stroke="#35978F" stroke-width="1.5"/>
<path d="M713.2,306.0 714.2,305.7 715.2,305.4 716.2,305.2 717.3,304.9 718.4,304.7 719.5,304.6 720.6,304.4 721.7,304.3 722.8,304.2 724.0,304.2 725.1,304.1 726.3,304.1 727.5,304.1 728.7,304.1 729.9,304.1 731.1,304.2 732.3,304.3 733.5,304.4 734.8,304.5 736.0,304.6 737.3,304.7 738.5,304.8 739.8,305.0 741.1,305.1 742.3,305.3 743.6,305.5 744.9,305.7 746.2,305.9 747.4,306.1 748.7,306.3 750.0,306.5 751.3,306.7 752.6,306.9 753.8,307.1 755.1,307.3 756.4,307.5 757.6,307.7 758.9,307.9 760.2,308.1 761.4,308.3 762.7,308.5 763.9,308.7 765.1,308.8 766.4,309.0 767.6,309.2 768.8,309.3 770.0,309.4 771.3,309.5 772.5,309.6 773.7,309.7 774.9,309.8 776.1,309.9 777.3,309.9 778.5,309.9 779.7,309.9 780.8,309.9 782.0,309.9 783.2,309.8 784.3,309.7 785.5,309.6 786.6,309.5 787.8,309.3 788.9,309.1 790.1,308.9 791.2,308.6 792.3,308.4 793.4,308.1 794.6,307.7 795.7,307.4 796.8,307.0 797.9,306.6 799.0,306.1 800.1,305.7 801.2,305.2 802.3,304.7 803.4,304.3 804.5,303.8 805.6,303.3 806.7,302.8 807.8,302.3 808.9,301.8 810.0,301.3 811.2,300.8 812.3,300.3 813.4,299.9 814.6,299.4 815.7,299.0 816.9,298.6 818.0,298.2 819.2,297.9 820.4,297.6 821.6,297.3 822.8,297.0 824.1,296.8 825.3,296.6 826.5,296.4 827.7,296.2 829.0,296.0 830.2,295.8 831.4,295.6 832.7,295.4 833.9,295.2 835.1,295.0 836.3,294.8 837.5,294.6 838.6,294.3 839.8,294.0 840.9,293.7 842.1,293.4 843.2,293.0 844.2,292.6 845.3,292.1 846.3,291.6 847.3,291.1 848.3,290.4 849.2,289.8 850.1,289.0 851.0,288.2 851.8,287.4 852.7,286.5 853.4,285.6 854.2,284.6 854.9,283.6 855.6,282.6 856.3,281.5 857.0,280.4 857.6,279.3 858.2,278.2 858.8,277.1 859.3,276.0 859.9,274.9 860.4,273.8 860.9,272.6 861.3,271.5 861.8,270.4 862.2,269.2 862.7,268.1 863.1,267.0 863.4,265.8 863.8,264.7 864.2,263.6 864.5,262.4 864.8,261.3 865.1,260.1 865.4,259.0 865.7,257.8 866.0,256.7 866.2,255.5 866.5,254.4 866.7,253.2 866.9,252.1 867.1,250.9 867.3,249.7 867.5,248.6 867.7,247.4 867.9,246.3 868.1,245.1 868.3,243.9 868.4,242.7 868.6,241.6 868.7,240.4 868.9,239.2 869.0,238.1 869.2,236.9 869.3,235.7 869.5,234.5 869.6,233.4 869.8,232.2 869.9,231.0 870.0,229.8 870.2,228.6 870.3,227.4 870.5,226.3 870.6,225.1 870.8,223.9 871.0,222.7 871.1,221.5 871.3,220.3 871.4,219.1 871.6,217.9 871.8,216.8 872.0,215.6 872.1,214.4 872.3,213.2 872.5,212.0 872.7,210.8 872.8,209.6 873.0,208.4 873.2,207.2 873.4,206.0 873.6,204.8 873.7,203.6 873.9,202.4 874.1,201.2 874.2,200.0 874.4,198.8 874.6,197.6 874.8,196.4 874.9,195.2 875.1,194.0 875.3,192.8 875.4,191.6 875.6,190.4 875.7,189.2 875.9,188.0 876.1,186.8 876.2,185.6 876.4,184.4 876.5,183.2 876.7,182.0 876.8,180.8 877.0,179.6 877.1,178.4 877.3,177.2 877.4,176.0 877.5,174.8 877.7,173.6 877.8,172.4 877.9,171.2 878.1,170.0 878.2,168.8 878.3,167.6 878.5,166.4 878.6,165.2 878.7,164.0 878.8,162.8 878.9,161.6 879.0,160.4 879.1,159.2 879.2,158.1 879.3,156.9 879.4,155.7 879.5,154.5 879.6,153.3 879.7,152.1 879.8,150.9 879.9,149.7 880.0,148.5 880.1,147.3 880.1,146.2 880.2,145.0 880.3,143.8 880.4,142.6 880.5,141.4 880.5,140.2 880.6,139.0 880.7,137.8 880.7,136.7 880.8,135.5 880.9,134.3 881.0,133.1 881.1,131.9 881.1,130.7 881.2,129.6 881.3,128.4 881.4,127.2 881.5,126.0 881.5,124.8 881.6,123.6 881.7,122.5 881.8,121.3 881.9,120.1 882.0,118.9 882.1,117.7 882.2,116.5 882.3,115.3 882.5,114.2 882.6,113.0 882.7,111.8 882.8,110.6 883.0,109.4 883.1,108.2 883.3,107.0 883.4,105.8 883.6,104.7 883.7,103.5 883.9,102.3 884.1,101.1 884.2,99.9 884.4,98.7 884.6,97.5 884.8,96.3 885.0,95.1 885.3,93.9 885.5,92.7 885.7,91.5 886.0,90.3 886.2,89.1 886.5,87.9 886.8,86.7 887.0,85.5 887.3,84.3 887.6,83.1 887.9,81.9 888.2,80.7 888.6,79.5 888.9,78.3 889.3,77.1 889.7,75.9 890.1,74.7 890.5,73.5 890.9,72.3 891.4,71.1 891.9,70.0 892.4,68.8 892.9,67.8 893.5,66.9 894.1,66.3 894.7,65.8 895.3,65.6 895.9,65.7 896.5,66.1 897.1,66.7 897.7,67.6 898.3,68.6 898.9,69.7 899.4,70.8 900.0,72.0 900.5,73.2 901.0,74.4 901.4,75.6 901.8,76.8 902.2,78.0 902.6,79.2 903.0,80.4 903.3,81.6 903.6,82.9 903.8,84.1 904.1,85.3 904.3,86.5 904.5,87.7 904.6,88.9 904.8,90.1 904.9,91.3 905.1,92.5 905.2,93.7 905.3,94.9 905.4,96.1 905.6,97.3 905.7,98.5 905.8,99.7 905.9,100.9 906.0,102.0 906.2,103.2 906.3,104.4 906.4,105.6 906.6,106.8 906.7,108.0 906.9,109.2 907.0,110.4 907.1,111.5 907.3,112.7 907.4,113.9 907.6,115.1 907.7,116.3 907.9,117.5 908.0,118.7 908.2,119.8 908.3,121.0 908.4,122.2 908.6,123.4 908.7,124.6 908.9,125.8 909.0,127.0 909.1,128.1 909.3,129.3 909.4,130.5 909.5,131.7 909.6,132.9 909.7,134.1 909.9,135.3 910.0,136.5 910.1,137.7 910.2,138.9 910.3,140.1 910.4,141.2 910.5,142.4 910.6,143.6 910.7,144.8 910.8,146.0 910.9,147.2 911.0,148.4 911.1,149.6 911.2,150.8 911.3,152.0 911.4,153.2 911.5,154.4 911.6,155.6 911.7,156.8 911.8,158.0 911.9,159.2 912.1,160.4 912.2,161.6 912.3,162.7 912.4,163.9 912.5,165.1 912.6,166.3 912.7,167.5 912.8,168.7 912.9,169.9 913.1,171.1 913.2,172.3 913.3,173.5 913.4,174.7 913.6,175.9 913.7,177.1 913.8,178.3 914.0,179.4 914.1,180.6 914.2,181.8 914.4,183.0 914.5,184.2 914.7,185.4 914.8,186.6 915.0,187.8 915.2,188.9 915.3,190.1 915.5,191.3 915.7,192.5 915.9,193.7 916.1,194.9 916.3,196.0 916.5,197.2 916.7,198.4 916.9,199.6 917.1,200.7 917.3,201.9 917.6,203.1 917.8,204.3 918.0,205.4 918.3,206.6 918.5,207.8 918.8,209.0 919.0,210.1 919.3,211.3 919.6,212.5 919.9,213.6 920.2,214.8 920.5,215.9 920.8,217.1 921.1,218.3 921.4,219.4 921.8,220.6 922.1,221.7 922.5,222.9 922.8,224.0 923.2,225.2 923.5,226.3 923.9,227.5 924.3,228.6 924.7,229.8 925.1,230.9 925.6,232.0 926.0,233.2 926.4,234.3 926.9,235.4 927.3,236.6 927.8,237.7 928.3,238.8 928.8,240.0 929.3,241.1 929.8,242.2 930.3,243.3 930.8,244.4 931.4,245.5 932.0,246.5 932.5,247.6 933.1,248.7 933.7,249.7 934.4,250.7 935.0,251.7 935.7,252.7 936.3,253.7 937.0,254.7 937.7,255.6 938.5,256.5 939.2,257.4 940.0,258.3 940.7,259.1 941.5,260.0 942.4,260.8 943.2,261.5 944.1,262.3 945.0,263.0 945.9,263.7 946.8,264.4 947.8,265.0 948.7,265.6 949.7,266.3 950.7,266.9 951.7,267.5 952.7,268.2 953.7,268.8 954.7,269.5 955.7,270.2 956.7,270.9 957.7,271.6 958.7,272.4 959.7,273.1 960.7,273.9 961.7,274.6 962.7,275.4 963.7,276.1 964.7,276.9 965.8,277.6 966.8,278.3 967.8,279.1 968.9,279.7 969.9,280.4 971.0,281.0 972.0,281.6 973.1,282.2 974.2,282.7 975.2,283.3 976.3,283.8 977.4,284.2 978.5,284.6 979.6,285.0 980.7,285.4 981.8,285.7 983.0,286.1 984.1,286.3 985.2,286.6 986.3,286.8 987.5,287.0 988.6,287.2 989.8,287.3 990.9,287.4 992.1,287.5 993.2,287.5 994.4,287.5 995.6,287.5 996.8,287.5 997.9,287.4 999.1,287.3 1000.3,287.2 1001.5,287.1 1002.7,287.0 1003.9,286.8 1005.0,286.7 1006.2,286.5 1007.4,286.3 1008.6,286.2 1009.8,286.0 1011.0,285.8 1012.3,285.7 1013.5,285.6 1014.7,285.4 1015.9,285.3 1017.1,285.2 1018.3,285.2 1019.5,285.1 1020.7,285.1 1021.9,285.0 1023.1,285.0 1024.4,285.0 1025.6,285.1 1026.8,285.1 1028.0,285.1 1029.2,285.2 1030.4,285.3 1031.6,285.4 1032.8,285.5 1034.0,285.6 1035.3,285.8 1036.5,285.9 1037.7,286.1 1038.9,286.2 1040.1,286.4 1041.3,286.6 1042.5,286.8 1043.7,287.0 1044.8,287.3 1046.0,287.5 1047.2,287.7 1048.4,288.0 1049.6,288.3 1050.8,288.5 1051.9,288.8 1053.1,289.1 1054.3,289.4 1055.4,289.7 1056.6,290.0 1057.8,290.3 1058.9,290.7 1060.1,291.0 1061.2,291.3 1062.4,291.7 1063.5,292.0 1064.7,292.4 1065.8,292.7 1066.9,293.1 1068.1,293.5 1069.2,293.8 1070.4,294.2 1071.5,294.6 1072.6,294.9 1073.8,295.3 1074.9,295.7 1076.0,296.1 1077.1,296.5 1078.3,296.9 1079.4,297.2 1080.5,297.6 1081.6,298.0 1082.8,298.4 1083.9,298.8 1085.0,299.2 1086.1,299.5 1087.3,299.9 1088.4,300.3 1089.5,300.7 1090.6,301.1 1091.8,301.4 1092.9,301.8 1094.0,302.2 1095.1,302.5 1096.3,302.9 1097.4,303.2 1098.5,303.6 1099.7,303.9 1100.8,304.3 1101.9,304.6 1103.1,304.9 1104.2,305.3 1105.3,305.6 1106.5,305.9 1107.6,306.2 1108.8,306.5 1109.9,306.8 1111.0,307.0 1112.2,307.3 1113.3,307.6 1114.5,307.8 1115.7,308.0 1116.8,308.3 1118.0,308.5 1119.2,308.7 1120.3,308.9 1121.5,309.1 1122.7,309.3 1123.8,309.4 1125.0,309.6 1126.2,309.7 1127.4,309.9 1128.6,310.0 1129.8,310.1 1131.0,310.2 1132.2,310.2 1133.4,310.3 1134.6,310.3 1135.8,310.4 1137.1,310.4 1138.3,310.4 1139.5,310.4 1140.8,310.3 1142.0,310.3 1143.3,310.2 1144.5,310.1 1145.8,310.0 1147.0,309.9 1148.3,309.8 1149.6,309.6 1150.8,309.5 1152.1,309.3 1153.4,309.1 1154.7,308.8 1156.0,308.6" stroke="#BF812D" stroke-width="1.5"/>
<path d="M713.1,291.0 714.3,290.9 715.5,290.8 716.7,290.7 717.9,290.6 719.1,290.5 720.3,290.4 721.5,290.4 722.7,290.3 723.9,290.2 725.1,290.1 726.3,290.0 727.5,289.9 728.7,289.8 729.9,289.7 731.1,289.6 732.3,289.6 733.5,289.5 734.7,289.4 735.9,289.3 737.1,289.2 738.3,289.1 739.5,289.0 740.7,289.0 741.9,288.9 743.1,288.8 744.3,288.7 745.5,288.6 746.7,288.6 747.9,288.5 749.1,288.4 750.3,288.3 751.5,288.3 752.7,288.2 753.9,288.1 755.1,288.0 756.3,288.0 757.5,287.9 758.7,287.8 759.9,287.8 761.1,287.7 762.3,287.6 763.5,287.5 764.7,287.5 765.8,287.4 767.0,287.4 768.2,287.3 769.4,287.2 770.6,287.2 771.8,287.1 773.0,287.0 774.2,287.0 775.4,286.9 776.6,286.9 777.8,286.8 779.0,286.8 780.2,286.7 781.4,286.6 782.6,286.6 783.8,286.5 785.0,286.5 786.2,286.4 787.4,286.4 788.6,286.4 789.8,286.3 791.0,286.3 792.2,286.2 793.4,286.2 794.5,286.1 795.7,286.1 796.9,286.1 798.1,286.0 799.3,286.0 800.5,285.9 801.7,285.9 802.9,285.9 804.1,285.8 805.3,285.8 806.5,285.8 807.7,285.8 808.9,285.7 810.1,285.7 811.3,285.7 812.5,285.7 813.7,285.6 814.9,285.6 816.1,285.6 817.2,285.6 818.4,285.6 819.6,285.5 820.8,285.5 822.0,285.5 823.2,285.5 824.4,285.5 825.6,285.5 826.8,285.5 828.0,285.5 829.2,285.5 830.4,285.5 831.6,285.5 832.8,285.5 834.0,285.5 835.2,285.5 836.3,285.5 837.5,285.5 838.7,285.5 839.9,285.5 841.1,285.5 842.3,285.5 843.5,285.5 844.7,285.5 845.9,285.6 847.1,285.6 848.3,285.6 849.5,285.6 850.7,285.6 851.9,285.7 853.1,285.7 854.2,285.7 855.4,285.7 856.6,285.8 857.8,285.8 859.0,285.8 860.2,285.9 861.4,285.9 862.6,285.9 863.8,286.0 865.0,286.0 866.2,286.1 867.4,286.1 868.6,286.1 869.8,286.2 870.9,286.2 872.1,286.3 873.3,286.3 874.5,286.4 875.7,286.4 876.9,286.5 878.1,286.5 879.3,286.6 880.5,286.7 881.7,286.7 882.9,286.8 884.1,286.8 885.3,286.9 886.4,287.0 887.6,287.0 888.8,287.1 890.0,287.2 891.2,287.2 892.4,287.3 893.6,287.4 894.8,287.5 896.0,287.5 897.2,287.6 898.4,287.7 899.6,287.8 900.8,287.9 901.9,288.0 903.1,288.0 904.3,288.1 905.5,288.2 906.7,288.3 907.9,288.4 909.1,288.5 910.3,288.6 911.5,288.7 912.7,288.8 913.9,289.0 915.1,289.1 916.2,289.2 917.4,289.3 918.6,289.4 919.8,289.5 921.0,289.7 922.2,289.8 923.4,289.9 924.6,290.0 925.8,290.2 927.0,290.3 928.2,290.4 929.4,290.5 930.5,290.7 931.7,290.8 932.9,290.9 934.1,291.1 935.3,291.2 936.5,291.3 937.7,291.5 938.9,291.6 940.1,291.8 941.3,291.9 942.5,292.0 943.7,292.2 944.8,292.3 946.0,292.5 947.2,292.6 948.4,292.7 949.6,292.9 950.8,293.0 952.0,293.2 953.2,293.3 954.4,293.4 955.6,293.6 956.8,293.7 958.0,293.9 959.1,294.0 960.3,294.1 961.5,294.3 962.7,294.4 963.9,294.5 965.1,294.7 966.3,294.8 967.5,295.0 968.7,295.1 969.9,295.2 971.1,295.4 972.2,295.5 973.4,295.6 974.6,295.8 975.8,295.9 977.0,296.0 978.2,296.1 979.4,296.3 980.6,296.4 981.8,296.5 983.0,296.7 984.2,296.8 985.4,296.9 986.5,297.0 987.7,297.2 988.9,297.3 990.1,297.4 991.3,297.6 992.5,297.7 993.7,297.8 994.9,297.9 996.1,298.0 997.3,298.2 998.5,298.3 999.7,298.4 1000.8,298.5 1002.0,298.7 1003.2,298.8 1004.4,298.9 1005.6,299.0 1006.8,299.1 1008.0,299.2 1009.2,299.4 1010.4,299.5 1011.6,299.6 1012.8,299.7 1014.0,299.8 1015.1,299.9 1016.3,300.1 1017.5,300.2 1018.7,300.3 1019.9,300.4 1021.1,300.5 1022.3,300.6 1023.5,300.7 1024.7,300.8 1025.9,301.0 1027.1,301.1 1028.3,301.2 1029.4,301.3 1030.6,301.4 1031.8,301.5 1033.0,301.6 1034.2,301.7 1035.4,301.8 1036.6,301.9 1037.8,302.0 1039.0,302.1 1040.2,302.2 1041.4,302.3 1042.6,302.4 1043.7,302.5 1044.9,302.6 1046.1,302.7 1047.3,302.8 1048.5,302.9 1049.7,303.0 1050.9,303.1 1052.1,303.2 1053.3,303.3 1054.5,303.4 1055.7,303.5 1056.9,303.6 1058.1,303.7 1059.2,303.8 1060.4,303.9 1061.6,304.0 1062.8,304.1 1064.0,304.1 1065.2,304.2 1066.4,304.3 1067.6,304.4 1068.8,304.5 1070.0,304.6 1071.2,304.7 1072.4,304.8 1073.6,304.8 1074.8,304.9 1075.9,305.0 1077.1,305.1 1078.3,305.2 1079.5,305.3 1080.7,305.3 1081.9,305.4 1083.1,305.5 1084.3,305.6 1085.5,305.7 1086.7,305.7 1087.9,305.8 1089.1,305.9 1090.3,306.0 1091.5,306.0 1092.6,306.1 1093.8,306.2 1095.0,306.3 1096.2,306.3 1097.4,306.4 1098.6,306.5 1099.8,306.6 1101.0,306.6 1102.2,306.7 1103.4,306.8 1104.6,306.8 1105.8,306.9 1107.0,307.0 1108.2,307.0 1109.4,307.1 1110.6,307.2 1111.7,307.2 1112.9,307.3 1114.1,307.3 1115.3,307.4 1116.5,307.5 1117.7,307.5 1118.9,307.6 1120.1,307.6 1121.3,307.7 1122.5,307.8 1123.7,307.8 1124.9,307.9 1126.1,307.9 1127.3,308.0 1128.5,308.0 1129.7,308.1 1130.9,308.1 1132.1,308.2 1133.3,308.2 1134.4,308.3 1135.6,308.3 1136.8,308.4 1138.0,308.4 1139.2,308.5 1140.4,308.5 1141.6,308.6 1142.8,308.6 1144.0,308.6 1145.2,308.7 1146.4,308.7 1147.6,308.8 1148.8,308.8 1150.0,308.8 1151.2,308.9 1152.4,308.9 1153.6,309.0 1154.8,309.0 1156.0,309.0" stroke="#01665E" stroke-width="1.5"/>
<path d="M713.1,308.3 714.4,308.2 715.6,308.1 716.8,308.0 718.1,308.0 719.3,307.9 720.5,307.9 721.7,307.9 723.0,307.8 724.2,307.8 725.4,307.9 726.6,307.9 727.8,307.9 729.1,308.0 730.3,308.0 731.5,308.1 732.7,308.1 733.9,308.2 735.1,308.3 736.3,308.4 737.5,308.4 738.7,308.5 739.9,308.6 741.1,308.7 742.3,308.8 743.5,309.0 744.7,309.1 745.8,309.2 747.0,309.3 748.2,309.4 749.4,309.6 750.6,309.7 751.8,309.8 752.9,309.9 754.1,310.0 755.3,310.2 756.5,310.3 757.7,310.4 758.8,310.5 760.0,310.6 761.2,310.7 762.4,310.8 763.5,311.0 764.7,311.0 765.9,311.1 767.1,311.2 768.2,311.3 769.4,311.4 770.6,311.5 771.7,311.5 772.9,311.6 774.1,311.6 775.2,311.7 776.4,311.7 777.6,311.7 778.8,311.7 779.9,311.7 781.1,311.7 782.3,311.6 783.4,311.6 784.6,311.5 785.8,311.5 787.0,311.4 788.1,311.3 789.3,311.1 790.5,311.0 791.7,310.8 792.8,310.6 794.0,310.4 795.2,310.2 796.4,309.9 797.5,309.6 798.7,309.3 799.9,309.1 801.1,308.7 802.3,308.4 803.4,308.1 804.6,307.8 805.8,307.5 807.0,307.1 808.2,306.8 809.4,306.5 810.6,306.2 811.8,305.9 813.0,305.6 814.2,305.3 815.4,305.0 816.6,304.7 817.8,304.5 819.0,304.2 820.2,304.0 821.4,303.8 822.6,303.7 823.8,303.5 825.0,303.4 826.2,303.2 827.4,303.1 828.6,303.0 829.8,302.9 831.0,302.8 832.2,302.6 833.4,302.5 834.6,302.3 835.7,302.2 836.9,302.0 838.0,301.8 839.2,301.6 840.3,301.3 841.4,301.1 842.5,300.8 843.6,300.4 844.6,300.0 845.7,299.6 846.7,299.1 847.7,298.6 848.7,298.0 849.7,297.4 850.7,296.7 851.6,296.0 852.5,295.2 853.4,294.4 854.2,293.6 855.1,292.7 855.9,291.7 856.7,290.8 857.4,289.8 858.2,288.8 858.9,287.7 859.5,286.7 860.2,285.6 860.8,284.5 861.4,283.4 861.9,282.3 862.4,281.1 862.9,280.0 863.3,278.9 863.7,277.7 864.1,276.6 864.4,275.5 864.7,274.3 865.0,273.2 865.3,272.0 865.6,270.9 865.8,269.7 866.0,268.6 866.2,267.4 866.5,266.2 866.7,265.1 866.9,263.9 867.1,262.7 867.3,261.6 867.5,260.4 867.7,259.2 867.9,258.1 868.1,256.9 868.3,255.7 868.5,254.5 868.7,253.3 868.9,252.2 869.0,251.0 869.2,249.8 869.4,248.6 869.6,247.4 869.7,246.2 869.9,245.1 870.1,243.9 870.2,242.7 870.4,241.5 870.6,240.3 870.7,239.1 870.9,237.9 871.0,236.7 871.2,235.5 871.3,234.3 871.5,233.1 871.6,232.0 871.8,230.8 871.9,229.6 872.1,228.4 872.2,227.2 872.4,226.0 872.5,224.8 872.7,223.6 872.8,222.4 873.0,221.2 873.1,220.0 873.3,218.8 873.4,217.6 873.6,216.4 873.7,215.2 873.9,214.1 874.0,212.9 874.2,211.7 874.3,210.5 874.5,209.3 874.6,208.1 874.8,206.9 874.9,205.7 875.0,204.5 875.2,203.3 875.3,202.1 875.5,200.9 875.6,199.8 875.8,198.6 875.9,197.4 876.1,196.2 876.2,195.0 876.4,193.8 876.5,192.6 876.6,191.4 876.8,190.2 876.9,189.0 877.1,187.8 877.2,186.7 877.3,185.5 877.5,184.3 877.6,183.1 877.8,181.9 877.9,180.7 878.0,179.5 878.2,178.3 878.3,177.1 878.4,175.9 878.5,174.8 878.7,173.6 878.8,172.4 878.9,171.2 879.0,170.0 879.2,168.8 879.3,167.6 879.4,166.4 879.5,165.2 879.6,164.0 879.7,162.9 879.9,161.7 880.0,160.5 880.1,159.3 880.2,158.1 880.3,156.9 880.4,155.7 880.5,154.5 880.6,153.3 880.7,152.1 880.8,150.9 880.9,149.8 881.0,148.6 881.1,147.4 881.1,146.2 881.2,145.0 881.3,143.8 881.4,142.6 881.5,141.4 881.6,140.2 881.6,139.0 881.7,137.9 881.8,136.7 881.9,135.5 882.0,134.3 882.0,133.1 882.1,131.9 882.2,130.7 882.3,129.5 882.4,128.3 882.4,127.1 882.5,125.9 882.6,124.7 882.7,123.6 882.8,122.4 882.9,121.2 882.9,120.0 883.0,118.8 883.1,117.6 883.2,116.4 883.3,115.2 883.4,114.0 883.5,112.8 883.6,111.6 883.7,110.4 883.8,109.2 884.0,108.0 884.1,106.9 884.2,105.7 884.3,104.5 884.4,103.3 884.6,102.1 884.7,100.9 884.9,99.7 885.0,98.5 885.1,97.3 885.3,96.1 885.5,94.9 885.6,93.7 885.8,92.5 886.0,91.3 886.2,90.1 886.3,88.9 886.5,87.7 886.7,86.5 886.9,85.3 887.1,84.1 887.4,82.9 887.6,81.7 887.8,80.5 888.1,79.3 888.3,78.1 888.6,76.9 888.9,75.7 889.2,74.5 889.6,73.3 889.9,72.1 890.3,70.9 890.8,69.7 891.2,68.4 891.7,67.2 892.3,66.0 892.8,65.0 893.4,64.0 893.9,63.2 894.5,62.6 895.1,62.2 895.7,62.1 896.3,62.2 896.9,62.7 897.5,63.3 898.1,64.1 898.6,65.1 899.2,66.2 899.7,67.4 900.1,68.6 900.6,69.9 901.0,71.1 901.3,72.3 901.7,73.6 902.0,74.8 902.3,76.0 902.6,77.2 902.9,78.5 903.1,79.7 903.3,80.9 903.6,82.1 903.8,83.4 904.0,84.6 904.2,85.8 904.4,87.0 904.6,88.2 904.8,89.4 905.0,90.6 905.2,91.8 905.4,93.0 905.6,94.2 905.8,95.4 906.0,96.5 906.2,97.7 906.4,98.9 906.5,100.1 906.7,101.3 906.9,102.5 907.1,103.6 907.2,104.8 907.4,106.0 907.6,107.2 907.7,108.3 907.9,109.5 908.0,110.7 908.2,111.8 908.3,113.0 908.5,114.2 908.6,115.4 908.8,116.5 908.9,117.7 909.1,118.9 909.2,120.1 909.3,121.2 909.4,122.4 909.6,123.6 909.7,124.8 909.8,125.9 909.9,127.1 910.0,128.3 910.2,129.5 910.3,130.7 910.4,131.9 910.5,133.1 910.6,134.3 910.7,135.4 910.8,136.6 910.9,137.8 911.0,139.0 911.1,140.2 911.2,141.4 911.2,142.6 911.3,143.8 911.4,145.0 911.5,146.2 911.6,147.4 911.7,148.6 911.8,149.8 911.9,151.0 912.0,152.2 912.1,153.4 912.1,154.7 912.2,155.9 912.3,157.1 912.4,158.3 912.5,159.5 912.6,160.7 912.7,161.9 912.8,163.1 912.9,164.3 913.0,165.5 913.1,166.7 913.2,167.9 913.3,169.1 913.4,170.3 913.6,171.5 913.7,172.7 913.8,173.9 913.9,175.1 914.1,176.3 914.2,177.5 914.3,178.7 914.5,179.9 914.6,181.1 914.7,182.3 914.9,183.5 915.1,184.7 915.2,185.9 915.4,187.1 915.5,188.3 915.7,189.5 915.9,190.7 916.1,191.8 916.3,193.0 916.5,194.2 916.7,195.4 916.9,196.6 917.1,197.7 917.3,198.9 917.5,200.1 917.8,201.3 918.0,202.4 918.3,203.6 918.5,204.8 918.8,205.9 919.1,207.1 919.3,208.2 919.6,209.4 919.9,210.5 920.2,211.7 920.5,212.8 920.8,214.0 921.2,215.1 921.5,216.3 921.8,217.4 922.2,218.5 922.5,219.7 922.9,220.8 923.3,221.9 923.7,223.0 924.1,224.1 924.5,225.3 924.9,226.4 925.3,227.5 925.8,228.6 926.2,229.7 926.7,230.8 927.2,231.9 927.6,233.0 928.1,234.0 928.6,235.1 929.2,236.2 929.7,237.3 930.2,238.3 930.8,239.4 931.3,240.5 931.9,241.5 932.5,242.6 933.1,243.6 933.7,244.7 934.3,245.7 935.0,246.7 935.6,247.8 936.3,248.8 937.0,249.8 937.7,250.8 938.4,251.8 939.1,252.8 939.8,253.7 940.6,254.7 941.3,255.6 942.1,256.5 942.9,257.4 943.7,258.3 944.5,259.2 945.4,260.0 946.2,260.8 947.1,261.6 948.0,262.4 948.9,263.1 949.8,263.8 950.8,264.5 951.7,265.2 952.7,265.8 953.7,266.4 954.7,267.0 955.7,267.6 956.7,268.2 957.7,268.8 958.7,269.5 959.7,270.1 960.7,270.7 961.7,271.4 962.7,272.1 963.7,272.8 964.7,273.5 965.8,274.2 966.8,274.9 967.8,275.6 968.8,276.3 969.8,277.1 970.8,277.8 971.8,278.5 972.8,279.2 973.8,280.0 974.9,280.7 975.9,281.4 976.9,282.0 978.0,282.7 979.0,283.3 980.1,284.0 981.1,284.6 982.2,285.1 983.2,285.7 984.3,286.2 985.4,286.7 986.5,287.1 987.6,287.4 988.7,287.8 989.8,288.0 990.9,288.2 992.0,288.3 993.1,288.4 994.3,288.4 995.4,288.3 996.5,288.2 997.7,288.1 998.8,287.9 1000.0,287.7 1001.1,287.5 1002.3,287.3 1003.5,287.0 1004.6,286.7 1005.8,286.5 1007.0,286.1 1008.1,285.8 1009.3,285.5 1010.5,285.2 1011.7,284.8 1012.9,284.5 1014.0,284.2 1015.2,283.8 1016.4,283.5 1017.6,283.2 1018.8,282.9 1020.0,282.7 1021.2,282.4 1022.4,282.2 1023.6,282.0 1024.8,281.8 1026.0,281.7 1027.2,281.6 1028.4,281.5 1029.6,281.4 1030.8,281.4 1032.0,281.4 1033.2,281.4 1034.3,281.4 1035.5,281.5 1036.7,281.6 1037.9,281.7 1039.1,281.9 1040.3,282.0 1041.5,282.2 1042.6,282.4 1043.8,282.6 1045.0,282.8 1046.2,283.1 1047.3,283.4 1048.5,283.6 1049.7,283.9 1050.8,284.3 1052.0,284.6 1053.1,284.9 1054.3,285.3 1055.4,285.6 1056.5,286.0 1057.7,286.4 1058.8,286.8 1059.9,287.2 1061.1,287.6 1062.2,288.1 1063.3,288.5 1064.4,288.9 1065.5,289.4 1066.6,289.8 1067.7,290.3 1068.8,290.8 1069.9,291.2 1071.0,291.7 1072.1,292.2 1073.2,292.6 1074.3,293.1 1075.4,293.6 1076.5,294.1 1077.6,294.5 1078.7,295.0 1079.8,295.5 1080.9,295.9 1082.0,296.4 1083.1,296.8 1084.2,297.3 1085.3,297.7 1086.4,298.2 1087.5,298.6 1088.6,299.0 1089.7,299.5 1090.9,299.9 1092.0,300.3 1093.1,300.7 1094.2,301.0 1095.4,301.4 1096.5,301.8 1097.6,302.1 1098.8,302.4 1099.9,302.8 1101.1,303.1 1102.2,303.4 1103.4,303.6 1104.6,303.9 1105.7,304.1 1106.9,304.4 1108.1,304.6 1109.3,304.8 1110.4,305.0 1111.6,305.2 1112.8,305.3 1114.0,305.5 1115.2,305.6 1116.4,305.8 1117.6,305.9 1118.8,306.0 1120.1,306.1 1121.3,306.3 1122.5,306.4 1123.7,306.4 1124.9,306.5 1126.1,306.6 1127.3,306.7 1128.5,306.8 1129.8,306.8 1131.0,306.9 1132.2,307.0 1133.4,307.0 1134.6,307.1 1135.8,307.1 1137.0,307.2 1138.2,307.2 1139.4,307.3 1140.6,307.4 1141.8,307.4 1143.0,307.5 1144.2,307.5 1145.4,307.6 1146.6,307.6 1147.8,307.7 1149.0,307.8 1150.2,307.9 1151.3,307.9 1152.5,308.0 1153.7,308.1 1154.8,308.2 1156.0,308.3" stroke="#000000" stroke-width="1.75"/>
<path d="M713.1,308.9 714.4,308.8 715.6,308.7 716.8,308.6 718.1,308.6 719.3,308.5 720.5,308.5 721.7,308.5 723.0,308.4 724.2,308.4 725.4,308.5 726.6,308.5 727.8,308.5 729.1,308.6 730.3,308.6 731.5,308.7 732.7,308.7 733.9,308.8 735.1,308.9 736.3,309.0 737.5,309.0 738.7,309.1 739.9,309.2 741.1,309.3 742.3,309.4 743.5,309.6 744.7,309.7 745.8,309.8 747.0,309.9 748.2,310.0 749.4,310.2 750.6,310.3 751.8,310.4 752.9,310.5 754.1,310.6 755.3,310.8 756.5,310.9 757.7,311.0 758.8,311.1 760.0,311.2 761.2,311.3 762.4,311.4 763.5,311.6 764.7,311.6 765.9,311.7 767.1,311.8 768.2,311.9 769.4,312.0 770.6,312.1 771.7,312.1 772.9,312.2 774.1,312.2 775.2,312.3 776.4,312.3 777.6,312.3 778.8,312.3 779.9,312.3 781.1,312.3 782.3,312.2 783.4,312.2 784.6,312.1 785.8,312.1 787.0,312.0 788.1,311.9 789.3,311.7 790.5,311.6 791.7,311.4 792.8,311.2 794.0,311.0 795.2,310.8 796.4,310.5 797.5,310.2 798.7,309.9 799.9,309.7 801.1,309.3 802.3,309.0 803.4,308.7 804.6,308.4 805.8,308.1 807.0,307.7 808.2,307.4 809.4,307.1 810.6,306.8 811.8,306.5 813.0,306.2 814.2,305.9 815.4,305.6 816.6,305.3 817.8,305.1 819.0,304.8 820.2,304.6 821.4,304.4 822.6,304.3 823.8,304.1 825.0,304.0 826.2,303.8 827.4,303.7 828.6,303.6 829.8,303.5 831.0,303.4 832.2,303.2 833.4,303.1 834.6,302.9 835.7,302.8 836.9,302.6 838.0,302.4 839.2,302.2 840.3,301.9 841.4,301.7 842.5,301.4 843.6,301.0 844.6,300.6 845.7,300.2 846.7,299.7 847.7,299.2 848.7,298.6 849.7,298.0 850.7,297.3 851.6,296.6 852.5,295.8 853.4,295.0 854.2,294.2 855.1,293.3 855.9,292.3 856.7,291.4 857.4,290.4 858.2,289.4 858.9,288.3 859.5,287.3 860.2,286.2 860.8,285.1 861.4,284.0 861.9,282.9 862.4,281.7 862.9,280.6 863.3,279.5 863.7,278.3 864.1,277.2 864.4,276.1 864.7,274.9 865.0,273.8 865.3,272.6 865.6,271.5 865.8,270.3 866.0,269.2 866.2,268.0 866.5,266.8 866.7,265.7 866.9,264.5 867.1,263.3 867.3,262.2 867.5,261.0 867.7,259.8 867.9,258.7 868.1,257.5 868.3,256.3 868.5,255.1 868.7,253.9 868.9,252.8 869.0,251.6 869.2,250.4 869.4,249.2 869.6,248.0 869.7,246.8 869.9,245.7 870.1,244.5 870.2,243.3 870.4,242.1 870.6,240.9 870.7,239.7 870.9,238.5 871.0,237.3 871.2,236.1 871.3,234.9 871.5,233.7 871.6,232.6 871.8,231.4 871.9,230.2 872.1,229.0 872.2,227.8 872.4,226.6 872.5,225.4 872.7,224.2 872.8,223.0 873.0,221.8 873.1,220.6 873.3,219.4 873.4,218.2 873.6,217.0 873.7,215.8 873.9,214.7 874.0,213.5 874.2,212.3 874.3,211.1 874.5,209.9 874.6,208.7 874.8,207.5 874.9,206.3 875.0,205.1 875.2,203.9 875.3,202.7 875.5,201.5 875.6,200.4 875.8,199.2 875.9,198.0 876.1,196.8 876.2,195.6 876.4,194.4 876.5,193.2 876.6,192.0 876.8,190.8 876.9,189.6 877.1,188.4 877.2,187.3 877.3,186.1 877.5,184.9 877.6,183.7 877.8,182.5 877.9,181.3 878.0,180.1 878.2,178.9 878.3,177.7 878.4,176.5 878.5,175.4 878.7,174.2 878.8,173.0 878.9,171.8 879.0,170.6 879.2,169.4 879.3,168.2 879.4,167.0 879.5,165.8 879.6,164.6 879.7,163.5 879.9,162.3 880.0,161.1 880.1,159.9 880.2,158.7 880.3,157.5 880.4,156.3 880.5,155.1 880.6,153.9 880.7,152.7 880.8,151.5 880.9,150.4 881.0,149.2 881.1,148.0 881.1,146.8 881.2,145.6 881.3,144.4 881.4,143.2 881.5,142.0 881.6,140.8 881.6,139.6 881.7,138.5 881.8,137.3 881.9,136.1 882.0,134.9 882.0,133.7 882.1,132.5 882.2,131.3 882.3,130.1 882.4,128.9 882.4,127.7 882.5,126.5 882.6,125.3 882.7,124.2 882.8,123.0 882.9,121.8 882.9,120.6 883.0,119.4 883.1,118.2 883.2,117.0 883.3,115.8 883.4,114.6 883.5,113.4 883.6,112.2 883.7,111.0 883.8,109.8 884.0,108.6 884.1,107.5 884.2,106.3 884.3,105.1 884.4,103.9 884.6,102.7 884.7,101.5 884.9,100.3 885.0,99.1 885.1,97.9 885.3,96.7 885.5,95.5 885.6,94.3 885.8,93.1 886.0,91.9 886.2,90.7 886.3,89.5 886.5,88.3 886.7,87.1 886.9,85.9 887.1,84.7 887.4,83.5 887.6,82.3 887.8,81.1 888.1,79.9 888.3,78.7 888.6,77.5 888.9,76.3 889.2,75.1 889.6,73.9 889.9,72.7 890.3,71.5 890.8,70.3 891.2,69.0 891.7,67.8 892.3,66.6 892.8,65.6 893.4,64.6 893.9,63.8 894.5,63.2 895.1,62.8 895.7,62.7 896.3,62.8 896.9,63.3 897.5,63.9 898.1,64.7 898.6,65.7 899.2,66.8 899.7,68.0 900.1,69.2 900.6,70.5 901.0,71.7 901.3,72.9 901.7,74.2 902.0,75.4 902.3,76.6 902.6,77.8 902.9,79.1 903.1,80.3 903.3,81.5 903.6,82.7 903.8,84.0 904.0,85.2 904.2,86.4 904.4,87.6 904.6,88.8 904.8,90.0 905.0,91.2 905.2,92.4 905.4,93.6 905.6,94.8 905.8,96.0 906.0,97.1 906.2,98.3 906.4,99.5 906.5,100.7 906.7,101.9 906.9,103.1 907.1,104.2 907.2,105.4 907.4,106.6 907.6,107.8 907.7,108.9 907.9,110.1 908.0,111.3 908.2,112.4 908.3,113.6 908.5,114.8 908.6,116.0 908.8,117.1 908.9,118.3 909.1,119.5 909.2,120.7 909.3,121.8 909.4,123.0 909.6,124.2 909.7,125.4 909.8,126.5 909.9,127.7 910.0,128.9 910.2,130.1 910.3,131.3 910.4,132.5 910.5,133.7 910.6,134.9 910.7,136.0 910.8,137.2 910.9,138.4 911.0,139.6 911.1,140.8 911.2,142.0 911.2,143.2 911.3,144.4 911.4,145.6 911.5,146.8 911.6,148.0 911.7,149.2 911.8,150.4 911.9,151.6 912.0,152.8 912.1,154.0 912.1,155.3 912.2,156.5 912.3,157.7 912.4,158.9 912.5,160.1 912.6,161.3 912.7,162.5 912.8,163.7 912.9,164.9 913.0,166.1 913.1,167.3 913.2,168.5 913.3,169.7 913.4,170.9 913.6,172.1 913.7,173.3 913.8,174.5 913.9,175.7 914.1,176.9 914.2,178.1 914.3,179.3 914.5,180.5 914.6,181.7 914.7,182.9 914.9,184.1 915.1,185.3 915.2,186.5 915.4,187.7 915.5,188.9 915.7,190.1 915.9,191.3 916.1,192.4 916.3,193.6 916.5,194.8 916.7,196.0 916.9,197.2 917.1,198.3 917.3,199.5 917.5,200.7 917.8,201.9 918.0,203.0 918.3,204.2 918.5,205.4 918.8,206.5 919.1,207.7 919.3,208.8 919.6,210.0 919.9,211.1 920.2,212.3 920.5,213.4 920.8,214.6 921.2,215.7 921.5,216.9 921.8,218.0 922.2,219.1 922.5,220.3 922.9,221.4 923.3,222.5 923.7,223.6 924.1,224.7 924.5,225.9 924.9,227.0 925.3,228.1 925.8,229.2 926.2,230.3 926.7,231.4 927.2,232.5 927.6,233.6 928.1,234.6 928.6,235.7 929.2,236.8 929.7,237.9 930.2,238.9 930.8,240.0 931.3,241.1 931.9,242.1 932.5,243.2 933.1,244.2 933.7,245.3 934.3,246.3 935.0,247.3 935.6,248.4 936.3,249.4 937.0,250.4 937.7,251.4 938.4,252.4 939.1,253.4 939.8,254.3 940.6,255.3 941.3,256.2 942.1,257.1 942.9,258.0 943.7,258.9 944.5,259.8 945.4,260.6 946.2,261.4 947.1,262.2 948.0,263.0 948.9,263.7 949.8,264.4 950.8,265.1 951.7,265.8 952.7,266.4 953.7,267.0 954.7,267.6 955.7,268.2 956.7,268.8 957.7,269.4 958.7,270.1 959.7,270.7 960.7,271.3 961.7,272.0 962.7,272.7 963.7,273.4 964.7,274.1 965.8,274.8 966.8,275.5 967.8,276.2 968.8,276.9 969.8,277.7 970.8,278.4 971.8,279.1 972.8,279.8 973.8,280.6 974.9,281.3 975.9,282.0 976.9,282.6 978.0,283.3 979.0,283.9 980.1,284.6 981.1,285.2 982.2,285.7 983.2,286.3 984.3,286.8 985.4,287.3 986.5,287.7 987.6,288.0 988.7,288.4 989.8,288.6 990.9,288.8 992.0,288.9 993.1,289.0 994.3,289.0 995.4,288.9 996.5,288.8 997.7,288.7 998.8,288.5 1000.0,288.3 1001.1,288.1 1002.3,287.9 1003.5,287.6 1004.6,287.3 1005.8,287.1 1007.0,286.7 1008.1,286.4 1009.3,286.1 1010.5,285.8 1011.7,285.4 1012.9,285.1 1014.0,284.8 1015.2,284.4 1016.4,284.1 1017.6,283.8 1018.8,283.5 1020.0,283.3 1021.2,283.0 1022.4,282.8 1023.6,282.6 1024.8,282.4 1026.0,282.3 1027.2,282.2 1028.4,282.1 1029.6,282.0 1030.8,282.0 1032.0,282.0 1033.2,282.0 1034.3,282.0 1035.5,282.1 1036.7,282.2 1037.9,282.3 1039.1,282.5 1040.3,282.6 1041.5,282.8 1042.6,283.0 1043.8,283.2 1045.0,283.4 1046.2,283.7 1047.3,284.0 1048.5,284.2 1049.7,284.5 1050.8,284.9 1052.0,285.2 1053.1,285.5 1054.3,285.9 1055.4,286.2 1056.5,286.6 1057.7,287.0 1058.8,287.4 1059.9,287.8 1061.1,288.2 1062.2,288.7 1063.3,289.1 1064.4,289.5 1065.5,290.0 1066.6,290.4 1067.7,290.9 1068.8,291.4 1069.9,291.8 1071.0,292.3 1072.1,292.8 1073.2,293.2 1074.3,293.7 1075.4,294.2 1076.5,294.7 1077.6,295.1 1078.7,295.6 1079.8,296.1 1080.9,296.5 1082.0,297.0 1083.1,297.4 1084.2,297.9 1085.3,298.3 1086.4,298.8 1087.5,299.2 1088.6,299.6 1089.7,300.1 1090.9,300.5 1092.0,300.9 1093.1,301.3 1094.2,301.6 1095.4,302.0 1096.5,302.4 1097.6,302.7 1098.8,303.0 1099.9,303.4 1101.1,303.7 1102.2,304.0 1103.4,304.2 1104.6,304.5 1105.7,304.7 1106.9,305.0 1108.1,305.2 1109.3,305.4 1110.4,305.6 1111.6,305.8 1112.8,305.9 1114.0,306.1 1115.2,306.2 1116.4,306.4 1117.6,306.5 1118.8,306.6 1120.1,306.7 1121.3,306.9 1122.5,307.0 1123.7,307.0 1124.9,307.1 1126.1,307.2 1127.3,307.3 1128.5,307.4 1129.8,307.4 1131.0,307.5 1132.2,307.6 1133.4,307.6 1134.6,307.7 1135.8,307.7 1137.0,307.8 1138.2,307.8 1139.4,307.9 1140.6,308.0 1141.8,308.0 1143.0,308.1 1144.2,308.1 1145.4,308.2 1146.6,308.2 1147.8,308.3 1149.0,308.4 1150.2,308.5 1151.3,308.5 1152.5,308.6 1153.7,308.7 1154.8,308.8 1156.0,308.9" stroke="#000000" stroke-width="1.75" stroke-dasharray="7 7"/>
</g>
<g clip-path="url(#cbB)" fill="none" stroke-linejoin="round" stroke-linecap="butt">
<path d="M713.2,580.6 714.2,580.4 715.2,580.2 716.2,580.0 717.2,579.8 718.2,579.6 719.2,579.4 720.2,579.2 721.2,579.0 722.2,578.8 723.2,578.6 724.2,578.4 725.2,578.2 726.2,578.0 727.2,577.8 728.2,577.6 729.2,577.3 730.2,577.1 731.2,576.9 732.2,576.7 733.2,576.4 734.2,576.2 735.2,575.9 736.2,575.7 737.2,575.4 738.2,575.2 739.2,574.9 740.2,574.7 741.2,574.4 742.2,574.1 743.2,573.8 744.2,573.5 745.2,573.3 746.2,573.0 747.2,572.7 748.2,572.3 749.2,572.0 750.2,571.7 751.2,571.4 752.2,571.0 753.2,570.7 754.2,570.4 755.2,570.0 756.2,569.6 757.2,569.3 758.2,568.9 759.2,568.5 760.2,568.1 761.2,567.7 762.2,567.3 763.2,566.9 764.2,566.5 765.2,566.0 766.2,565.6 767.2,565.1 768.2,564.7 769.2,564.2 770.2,563.7 771.2,563.2 772.2,562.7 773.2,562.2 774.2,561.7 775.2,561.2 776.2,560.7 777.2,560.1 778.2,559.6 779.2,559.0 780.2,558.4 781.2,557.8 782.2,557.2 783.2,556.6 784.2,556.0 785.2,555.4 786.2,554.7 787.2,554.1 788.2,553.4 789.2,552.7 790.2,552.0 791.2,551.3 792.2,550.6 793.2,549.9 794.2,549.1 795.2,548.4 796.2,547.6 797.2,546.8 798.2,546.1 799.2,545.3 800.2,544.5 801.2,543.7 802.2,542.9 803.2,542.0 804.2,541.2 805.2,540.4 806.2,539.5 807.2,538.7 808.2,537.8 809.2,536.9 810.2,536.0 811.2,535.2 812.2,534.3 813.2,533.4 814.2,532.5 815.2,531.6 816.2,530.7 817.2,529.8 818.2,528.9 819.2,528.0 820.2,527.0 821.2,526.1 822.2,525.2 823.2,524.3 824.2,523.3 825.2,522.4 826.2,521.5 827.2,520.5 828.2,519.6 829.2,518.7 830.2,517.7 831.2,516.8 832.2,515.9 833.2,515.0 834.2,514.0 835.2,513.1 836.2,512.2 837.2,511.3 838.2,510.3 839.2,509.4 840.2,508.5 841.2,507.6 842.2,506.7 843.2,505.8 844.2,504.9 845.2,504.0 846.2,503.1 847.2,502.3 848.2,501.4 849.2,500.5 850.2,499.7 851.2,498.9 852.2,498.0 853.2,497.2 854.2,496.4 855.2,495.6 856.2,494.8 857.2,494.0 858.2,493.3 859.2,492.5 860.2,491.8 861.2,491.1 862.2,490.4 863.2,489.7 864.2,489.0 865.2,488.4 866.2,487.7 867.2,487.1 868.2,486.5 869.2,485.9 870.2,485.3 871.2,484.7 872.2,484.1 873.2,483.6 874.2,483.0 875.2,482.5 876.2,482.0 877.2,481.5 878.2,481.0 879.2,480.5 880.2,480.1 881.2,479.6 882.2,479.2 883.2,478.8 884.2,478.3 885.2,477.9 886.2,477.5 887.2,477.1 888.2,476.8 889.2,476.4 890.2,476.1 891.2,475.7 892.2,475.4 893.2,475.1 894.2,474.8 895.2,474.5 896.2,474.2 897.2,473.9 898.2,473.6 899.2,473.3 900.2,473.1 901.2,472.8 902.2,472.6 903.2,472.4 904.2,472.2 905.2,472.0 906.2,471.8 907.2,471.6 908.2,471.4 909.2,471.2 910.2,471.0 911.2,470.9 912.2,470.7 913.2,470.6 914.2,470.4 915.2,470.3 916.2,470.2 917.2,470.0 918.2,469.9 919.2,469.8 920.2,469.7 921.2,469.6 922.2,469.5 923.2,469.5 924.2,469.4 925.2,469.3 926.2,469.3 927.2,469.2 928.2,469.1 929.2,469.1 930.2,469.1 931.2,469.0 932.2,469.0 933.2,469.0 934.2,469.0 935.2,468.9 936.2,468.9 937.2,468.9 938.2,468.9 939.2,468.9 940.2,468.9 941.2,469.0 942.2,469.0 943.2,469.0 944.2,469.0 945.2,469.1 946.2,469.1 947.2,469.2 948.2,469.2 949.2,469.3 950.2,469.3 951.2,469.4 952.2,469.5 953.2,469.5 954.2,469.6 955.2,469.7 956.2,469.8 957.2,469.9 958.2,469.9 959.2,470.0 960.2,470.1 961.2,470.2 962.2,470.4 963.2,470.5 964.2,470.6 965.2,470.7 966.2,470.8 967.2,470.9 968.2,471.1 969.2,471.2 970.2,471.3 971.2,471.5 972.2,471.6 973.2,471.8 974.2,471.9 975.2,472.1 976.2,472.2 977.2,472.4 978.2,472.5 979.2,472.7 980.2,472.8 981.2,473.0 982.2,473.2 983.2,473.4 984.2,473.5 985.2,473.7 986.2,473.9 987.2,474.1 988.2,474.3 989.2,474.4 990.2,474.6 991.2,474.8 992.2,475.0 993.2,475.2 994.2,475.4 995.2,475.6 996.2,475.8 997.2,476.0 998.2,476.2 999.2,476.4 1000.2,476.6 1001.2,476.8 1002.2,477.0 1003.2,477.2 1004.2,477.5 1005.2,477.7 1006.2,477.9 1007.2,478.1 1008.2,478.3 1009.2,478.5 1010.2,478.7 1011.2,479.0 1012.2,479.2 1013.2,479.4 1014.2,479.6 1015.2,479.9 1016.2,480.1 1017.2,480.3 1018.2,480.5 1019.2,480.8 1020.2,481.0 1021.2,481.2 1022.2,481.4 1023.2,481.7 1024.2,481.9 1025.2,482.1 1026.2,482.3 1027.2,482.6 1028.2,482.8 1029.2,483.0 1030.2,483.2 1031.2,483.5 1032.2,483.7 1033.2,483.9 1034.2,484.1 1035.2,484.4 1036.2,484.6 1037.2,484.8 1038.2,485.0 1039.2,485.3 1040.2,485.5 1041.2,485.7 1042.2,485.9 1043.2,486.2 1044.2,486.4 1045.2,486.6 1046.2,486.8 1047.2,487.1 1048.2,487.3 1049.2,487.5 1050.2,487.8 1051.2,488.0 1052.2,488.2 1053.2,488.5 1054.2,488.7 1055.2,489.0 1056.2,489.2 1057.2,489.5 1058.2,489.7 1059.2,490.0 1060.2,490.2 1061.2,490.5 1062.2,490.8 1063.2,491.1 1064.2,491.3 1065.2,491.6 1066.2,491.9 1067.2,492.2 1068.2,492.5 1069.2,492.8 1070.2,493.1 1071.2,493.4 1072.2,493.7 1073.2,494.1 1074.2,494.4 1075.2,494.7 1076.2,495.1 1077.2,495.4 1078.2,495.8 1079.2,496.2 1080.2,496.5 1081.2,496.9 1082.2,497.3 1083.2,497.7 1084.2,498.1 1085.2,498.5 1086.2,498.9 1087.2,499.4 1088.2,499.8 1089.2,500.2 1090.2,500.7 1091.2,501.2 1092.2,501.6 1093.2,502.1 1094.2,502.6 1095.2,503.1 1096.2,503.6 1097.2,504.1 1098.2,504.6 1099.2,505.1 1100.2,505.7 1101.2,506.2 1102.2,506.7 1103.2,507.3 1104.2,507.8 1105.2,508.4 1106.2,508.9 1107.2,509.5 1108.2,510.0 1109.2,510.6 1110.2,511.1 1111.2,511.7 1112.2,512.3 1113.2,512.8 1114.2,513.4 1115.2,514.0 1116.2,514.6 1117.2,515.1 1118.2,515.7 1119.2,516.3 1120.2,516.8 1121.2,517.4 1122.2,518.0 1123.2,518.5 1124.2,519.1 1125.2,519.6 1126.2,520.2 1127.2,520.7 1128.2,521.3 1129.2,521.8 1130.2,522.4 1131.2,522.9 1132.2,523.4 1133.2,523.9 1134.2,524.4 1135.2,525.0 1136.2,525.5 1137.2,525.9 1138.2,526.4 1139.2,526.9 1140.2,527.4 1141.2,527.8 1142.2,528.3 1143.2,528.7 1144.2,529.2 1145.2,529.6 1146.2,530.0 1147.2,530.4 1148.2,530.8 1149.2,531.2 1150.2,531.6 1151.2,531.9 1152.2,532.3 1153.2,532.6 1154.2,532.9 1155.2,533.2 1156.0,533.5" stroke="#BF812D" stroke-width="1.5"/>
<path d="M713.2,575.9 714.2,575.6 715.2,575.2 716.2,574.9 717.2,574.6 718.2,574.3 719.2,574.0 720.2,573.7 721.2,573.4 722.2,573.2 723.2,572.9 724.2,572.6 725.2,572.4 726.2,572.1 727.2,571.9 728.2,571.7 729.2,571.5 730.2,571.2 731.2,571.0 732.2,570.8 733.2,570.6 734.2,570.4 735.2,570.2 736.2,570.0 737.2,569.8 738.2,569.6 739.2,569.4 740.2,569.1 741.2,568.9 742.2,568.7 743.2,568.5 744.2,568.3 745.2,568.1 746.2,567.9 747.2,567.7 748.2,567.5 749.2,567.3 750.2,567.1 751.2,566.8 752.2,566.6 753.2,566.4 754.2,566.2 755.2,565.9 756.2,565.7 757.2,565.4 758.2,565.1 759.2,564.9 760.2,564.6 761.2,564.3 762.2,564.0 763.2,563.7 764.2,563.4 765.2,563.1 766.2,562.7 767.2,562.4 768.2,562.0 769.2,561.7 770.2,561.3 771.2,560.9 772.2,560.5 773.2,560.1 774.2,559.7 775.2,559.2 776.2,558.8 777.2,558.3 778.2,557.8 779.2,557.3 780.2,556.8 781.2,556.3 782.2,555.7 783.2,555.2 784.2,554.6 785.2,554.0 786.2,553.4 787.2,552.7 788.2,552.1 789.2,551.4 790.2,550.7 791.2,550.0 792.2,549.2 793.2,548.5 794.2,547.7 795.2,546.9 796.2,546.1 797.2,545.2 798.2,544.4 799.2,543.5 800.2,542.6 801.2,541.6 802.2,540.7 803.2,539.7 804.2,538.7 805.2,537.6 806.2,536.6 807.2,535.5 808.2,534.3 809.2,533.2 810.2,532.0 811.2,530.8 812.2,529.6 813.2,528.4 814.2,527.1 815.2,525.8 816.2,524.5 817.2,523.2 818.2,521.9 819.2,520.5 820.2,519.1 821.2,517.7 822.2,516.3 823.2,514.9 824.2,513.5 825.2,512.0 826.2,510.5 827.2,509.0 828.2,507.5 829.2,506.0 830.2,504.5 831.2,503.0 832.2,501.4 833.2,499.9 834.2,498.3 835.2,496.8 836.2,495.2 837.2,493.6 838.2,492.1 839.2,490.5 840.2,488.9 841.2,487.3 842.2,485.7 843.2,484.2 844.2,482.6 845.2,481.0 846.2,479.5 847.2,477.9 848.2,476.4 849.2,474.8 850.2,473.3 851.2,471.8 852.2,470.3 853.2,468.8 854.2,467.3 855.2,465.9 856.2,464.4 857.2,463.0 858.2,461.6 859.2,460.2 860.2,458.8 861.2,457.5 862.2,456.1 863.2,454.8 864.2,453.5 865.2,452.2 866.2,451.0 867.2,449.7 868.2,448.5 869.2,447.4 870.2,446.2 871.2,445.1 872.2,444.0 873.2,442.9 874.2,441.8 875.2,440.8 876.2,439.8 877.2,438.8 878.2,437.9 879.2,437.0 880.2,436.1 881.2,435.3 882.2,434.5 883.2,433.7 884.2,433.0 885.2,432.3 886.2,431.6 887.2,430.9 888.2,430.3 889.2,429.8 890.2,429.2 891.2,428.7 892.2,428.3 893.2,427.8 894.2,427.4 895.2,427.1 896.2,426.7 897.2,426.4 898.2,426.1 899.2,425.9 900.2,425.7 901.2,425.5 902.2,425.3 903.2,425.2 904.2,425.1 905.2,425.0 906.2,425.0 907.2,424.9 908.2,424.9 909.2,425.0 910.2,425.0 911.2,425.1 912.2,425.2 913.2,425.3 914.2,425.4 915.2,425.6 916.2,425.8 917.2,426.0 918.2,426.2 919.2,426.5 920.2,426.7 921.2,427.0 922.2,427.3 923.2,427.7 924.2,428.0 925.2,428.4 926.2,428.7 927.2,429.1 928.2,429.5 929.2,430.0 930.2,430.4 931.2,430.9 932.2,431.3 933.2,431.8 934.2,432.3 935.2,432.8 936.2,433.3 937.2,433.8 938.2,434.4 939.2,434.9 940.2,435.5 941.2,436.1 942.2,436.6 943.2,437.2 944.2,437.8 945.2,438.4 946.2,439.0 947.2,439.6 948.2,440.3 949.2,440.9 950.2,441.5 951.2,442.2 952.2,442.8 953.2,443.4 954.2,444.1 955.2,444.7 956.2,445.4 957.2,446.0 958.2,446.7 959.2,447.3 960.2,448.0 961.2,448.6 962.2,449.3 963.2,449.9 964.2,450.6 965.2,451.2 966.2,451.9 967.2,452.5 968.2,453.1 969.2,453.8 970.2,454.4 971.2,455.0 972.2,455.6 973.2,456.2 974.2,456.8 975.2,457.4 976.2,458.0 977.2,458.6 978.2,459.2 979.2,459.8 980.2,460.3 981.2,460.9 982.2,461.5 983.2,462.0 984.2,462.6 985.2,463.2 986.2,463.7 987.2,464.2 988.2,464.8 989.2,465.3 990.2,465.9 991.2,466.4 992.2,466.9 993.2,467.4 994.2,468.0 995.2,468.5 996.2,469.0 997.2,469.5 998.2,470.0 999.2,470.5 1000.2,471.0 1001.2,471.5 1002.2,472.0 1003.2,472.5 1004.2,473.0 1005.2,473.5 1006.2,474.0 1007.2,474.5 1008.2,475.0 1009.2,475.5 1010.2,476.0 1011.2,476.4 1012.2,476.9 1013.2,477.4 1014.2,477.9 1015.2,478.4 1016.2,478.8 1017.2,479.3 1018.2,479.8 1019.2,480.3 1020.2,480.7 1021.2,481.2 1022.2,481.7 1023.2,482.2 1024.2,482.6 1025.2,483.1 1026.2,483.6 1027.2,484.0 1028.2,484.5 1029.2,485.0 1030.2,485.4 1031.2,485.9 1032.2,486.4 1033.2,486.8 1034.2,487.3 1035.2,487.8 1036.2,488.2 1037.2,488.7 1038.2,489.2 1039.2,489.6 1040.2,490.1 1041.2,490.5 1042.2,491.0 1043.2,491.5 1044.2,491.9 1045.2,492.4 1046.2,492.8 1047.2,493.3 1048.2,493.7 1049.2,494.2 1050.2,494.7 1051.2,495.1 1052.2,495.6 1053.2,496.0 1054.2,496.5 1055.2,497.0 1056.2,497.4 1057.2,497.9 1058.2,498.3 1059.2,498.8 1060.2,499.3 1061.2,499.8 1062.2,500.2 1063.2,500.7 1064.2,501.2 1065.2,501.7 1066.2,502.1 1067.2,502.6 1068.2,503.1 1069.2,503.6 1070.2,504.1 1071.2,504.6 1072.2,505.1 1073.2,505.6 1074.2,506.1 1075.2,506.6 1076.2,507.2 1077.2,507.7 1078.2,508.2 1079.2,508.7 1080.2,509.2 1081.2,509.8 1082.2,510.3 1083.2,510.8 1084.2,511.4 1085.2,511.9 1086.2,512.5 1087.2,513.0 1088.2,513.6 1089.2,514.1 1090.2,514.7 1091.2,515.2 1092.2,515.8 1093.2,516.3 1094.2,516.9 1095.2,517.4 1096.2,518.0 1097.2,518.6 1098.2,519.1 1099.2,519.7 1100.2,520.2 1101.2,520.8 1102.2,521.4 1103.2,521.9 1104.2,522.5 1105.2,523.1 1106.2,523.7 1107.2,524.2 1108.2,524.8 1109.2,525.4 1110.2,525.9 1111.2,526.5 1112.2,527.1 1113.2,527.6 1114.2,528.2 1115.2,528.8 1116.2,529.4 1117.2,529.9 1118.2,530.5 1119.2,531.1 1120.2,531.6 1121.2,532.2 1122.2,532.8 1123.2,533.3 1124.2,533.9 1125.2,534.5 1126.2,535.0 1127.2,535.6 1128.2,536.2 1129.2,536.7 1130.2,537.3 1131.2,537.8 1132.2,538.4 1133.2,538.9 1134.2,539.5 1135.2,540.0 1136.2,540.6 1137.2,541.1 1138.2,541.7 1139.2,542.2 1140.2,542.8 1141.2,543.3 1142.2,543.8 1143.2,544.4 1144.2,544.9 1145.2,545.4 1146.2,546.0 1147.2,546.5 1148.2,547.0 1149.2,547.5 1150.2,548.0 1151.2,548.5 1152.2,549.0 1153.2,549.5 1154.2,550.0 1155.2,550.5 1156.0,550.9" stroke="#DFC27D" stroke-width="1.5"/>
<path d="M713.2,574.7 714.2,574.6 715.2,574.6 716.2,574.5 717.2,574.4 718.2,574.4 719.2,574.3 720.2,574.2 721.2,574.1 722.2,574.0 723.2,573.9 724.2,573.8 725.2,573.7 726.2,573.6 727.2,573.5 728.2,573.4 729.2,573.3 730.2,573.1 731.2,573.0 732.2,572.8 733.2,572.7 734.2,572.5 735.2,572.4 736.2,572.2 737.2,572.0 738.2,571.8 739.2,571.6 740.2,571.4 741.2,571.2 742.2,571.0 743.2,570.7 744.2,570.5 745.2,570.2 746.2,570.0 747.2,569.7 748.2,569.4 749.2,569.1 750.2,568.8 751.2,568.5 752.2,568.1 753.2,567.8 754.2,567.5 755.2,567.1 756.2,566.7 757.2,566.3 758.2,565.9 759.2,565.5 760.2,565.1 761.2,564.6 762.2,564.2 763.2,563.7 764.2,563.2 765.2,562.7 766.2,562.2 767.2,561.7 768.2,561.1 769.2,560.6 770.2,560.0 771.2,559.4 772.2,558.8 773.2,558.2 774.2,557.5 775.2,556.9 776.2,556.2 777.2,555.5 778.2,554.8 779.2,554.0 780.2,553.3 781.2,552.5 782.2,551.8 783.2,551.0 784.2,550.1 785.2,549.3 786.2,548.4 787.2,547.6 788.2,546.7 789.2,545.7 790.2,544.8 791.2,543.8 792.2,542.9 793.2,541.9 794.2,540.8 795.2,539.8 796.2,538.7 797.2,537.6 798.2,536.5 799.2,535.4 800.2,534.3 801.2,533.1 802.2,531.9 803.2,530.7 804.2,529.5 805.2,528.2 806.2,526.9 807.2,525.6 808.2,524.3 809.2,522.9 810.2,521.6 811.2,520.2 812.2,518.8 813.2,517.3 814.2,515.9 815.2,514.4 816.2,512.9 817.2,511.4 818.2,509.8 819.2,508.3 820.2,506.7 821.2,505.0 822.2,503.4 823.2,501.7 824.2,500.1 825.2,498.3 826.2,496.6 827.2,494.9 828.2,493.1 829.2,491.3 830.2,489.6 831.2,487.7 832.2,485.9 833.2,484.1 834.2,482.3 835.2,480.4 836.2,478.6 837.2,476.7 838.2,474.8 839.2,472.9 840.2,471.1 841.2,469.2 842.2,467.3 843.2,465.4 844.2,463.5 845.2,461.6 846.2,459.8 847.2,457.9 848.2,456.0 849.2,454.1 850.2,452.3 851.2,450.4 852.2,448.6 853.2,446.8 854.2,444.9 855.2,443.1 856.2,441.4 857.2,439.6 858.2,437.8 859.2,436.1 860.2,434.4 861.2,432.7 862.2,431.0 863.2,429.4 864.2,427.8 865.2,426.2 866.2,424.6 867.2,423.1 868.2,421.6 869.2,420.1 870.2,418.7 871.2,417.3 872.2,415.9 873.2,414.6 874.2,413.3 875.2,412.1 876.2,410.9 877.2,409.8 878.2,408.7 879.2,407.6 880.2,406.6 881.2,405.6 882.2,404.7 883.2,403.8 884.2,402.9 885.2,402.1 886.2,401.4 887.2,400.6 888.2,400.0 889.2,399.3 890.2,398.8 891.2,398.2 892.2,397.7 893.2,397.2 894.2,396.8 895.2,396.4 896.2,396.1 897.2,395.8 898.2,395.5 899.2,395.3 900.2,395.1 901.2,395.0 902.2,394.9 903.2,394.9 904.2,394.8 905.2,394.9 906.2,394.9 907.2,395.0 908.2,395.2 909.2,395.3 910.2,395.6 911.2,395.8 912.2,396.1 913.2,396.4 914.2,396.8 915.2,397.2 916.2,397.7 917.2,398.1 918.2,398.7 919.2,399.2 920.2,399.8 921.2,400.4 922.2,401.1 923.2,401.8 924.2,402.5 925.2,403.2 926.2,404.0 927.2,404.8 928.2,405.7 929.2,406.5 930.2,407.4 931.2,408.3 932.2,409.2 933.2,410.2 934.2,411.2 935.2,412.1 936.2,413.2 937.2,414.2 938.2,415.2 939.2,416.3 940.2,417.3 941.2,418.4 942.2,419.5 943.2,420.6 944.2,421.7 945.2,422.9 946.2,424.0 947.2,425.1 948.2,426.3 949.2,427.4 950.2,428.6 951.2,429.7 952.2,430.9 953.2,432.0 954.2,433.2 955.2,434.3 956.2,435.5 957.2,436.6 958.2,437.7 959.2,438.9 960.2,440.0 961.2,441.1 962.2,442.3 963.2,443.4 964.2,444.5 965.2,445.6 966.2,446.7 967.2,447.8 968.2,448.9 969.2,450.0 970.2,451.1 971.2,452.2 972.2,453.2 973.2,454.3 974.2,455.3 975.2,456.4 976.2,457.4 977.2,458.5 978.2,459.5 979.2,460.5 980.2,461.5 981.2,462.5 982.2,463.5 983.2,464.5 984.2,465.5 985.2,466.4 986.2,467.4 987.2,468.3 988.2,469.3 989.2,470.2 990.2,471.1 991.2,472.0 992.2,472.9 993.2,473.8 994.2,474.6 995.2,475.5 996.2,476.3 997.2,477.2 998.2,478.0 999.2,478.8 1000.2,479.6 1001.2,480.4 1002.2,481.1 1003.2,481.9 1004.2,482.6 1005.2,483.4 1006.2,484.1 1007.2,484.8 1008.2,485.5 1009.2,486.2 1010.2,486.9 1011.2,487.6 1012.2,488.2 1013.2,488.9 1014.2,489.5 1015.2,490.1 1016.2,490.8 1017.2,491.4 1018.2,492.0 1019.2,492.6 1020.2,493.2 1021.2,493.7 1022.2,494.3 1023.2,494.9 1024.2,495.4 1025.2,496.0 1026.2,496.5 1027.2,497.1 1028.2,497.6 1029.2,498.1 1030.2,498.7 1031.2,499.2 1032.2,499.7 1033.2,500.2 1034.2,500.7 1035.2,501.2 1036.2,501.7 1037.2,502.2 1038.2,502.6 1039.2,503.1 1040.2,503.6 1041.2,504.1 1042.2,504.5 1043.2,505.0 1044.2,505.5 1045.2,505.9 1046.2,506.4 1047.2,506.9 1048.2,507.3 1049.2,507.8 1050.2,508.2 1051.2,508.7 1052.2,509.1 1053.2,509.6 1054.2,510.0 1055.2,510.5 1056.2,510.9 1057.2,511.4 1058.2,511.8 1059.2,512.3 1060.2,512.8 1061.2,513.2 1062.2,513.7 1063.2,514.1 1064.2,514.6 1065.2,515.1 1066.2,515.5 1067.2,516.0 1068.2,516.5 1069.2,517.0 1070.2,517.5 1071.2,517.9 1072.2,518.4 1073.2,518.9 1074.2,519.4 1075.2,519.9 1076.2,520.4 1077.2,520.9 1078.2,521.4 1079.2,521.9 1080.2,522.5 1081.2,523.0 1082.2,523.5 1083.2,524.0 1084.2,524.5 1085.2,525.0 1086.2,525.6 1087.2,526.1 1088.2,526.6 1089.2,527.1 1090.2,527.7 1091.2,528.2 1092.2,528.7 1093.2,529.2 1094.2,529.8 1095.2,530.3 1096.2,530.8 1097.2,531.3 1098.2,531.9 1099.2,532.4 1100.2,532.9 1101.2,533.4 1102.2,533.9 1103.2,534.5 1104.2,535.0 1105.2,535.5 1106.2,536.0 1107.2,536.5 1108.2,537.0 1109.2,537.5 1110.2,538.0 1111.2,538.5 1112.2,539.0 1113.2,539.5 1114.2,540.0 1115.2,540.5 1116.2,540.9 1117.2,541.4 1118.2,541.9 1119.2,542.3 1120.2,542.8 1121.2,543.2 1122.2,543.7 1123.2,544.1 1124.2,544.6 1125.2,545.0 1126.2,545.4 1127.2,545.9 1128.2,546.3 1129.2,546.7 1130.2,547.1 1131.2,547.5 1132.2,547.9 1133.2,548.3 1134.2,548.6 1135.2,549.0 1136.2,549.4 1137.2,549.7 1138.2,550.1 1139.2,550.4 1140.2,550.7 1141.2,551.0 1142.2,551.4 1143.2,551.7 1144.2,552.0 1145.2,552.2 1146.2,552.5 1147.2,552.8 1148.2,553.0 1149.2,553.3 1150.2,553.5 1151.2,553.8 1152.2,554.0 1153.2,554.2 1154.2,554.4 1155.2,554.6 1156.0,554.7" stroke="#F6E8C3" stroke-width="1.5"/>
<path d="M713.2,569.2 714.2,569.1 715.2,569.1 716.2,569.1 717.2,569.0 718.2,569.0 719.2,569.0 720.2,568.9 721.2,568.9 722.2,568.9 723.2,568.9 724.2,568.8 725.2,568.8 726.2,568.8 727.2,568.7 728.2,568.7 729.2,568.6 730.2,568.6 731.2,568.5 732.2,568.5 733.2,568.4 734.2,568.3 735.2,568.2 736.2,568.2 737.2,568.1 738.2,568.0 739.2,567.9 740.2,567.7 741.2,567.6 742.2,567.5 743.2,567.3 744.2,567.2 745.2,567.0 746.2,566.8 747.2,566.6 748.2,566.4 749.2,566.2 750.2,565.9 751.2,565.7 752.2,565.4 753.2,565.2 754.2,564.9 755.2,564.6 756.2,564.2 757.2,563.9 758.2,563.5 759.2,563.2 760.2,562.8 761.2,562.3 762.2,561.9 763.2,561.5 764.2,561.0 765.2,560.5 766.2,560.0 767.2,559.4 768.2,558.9 769.2,558.3 770.2,557.7 771.2,557.1 772.2,556.4 773.2,555.7 774.2,555.0 775.2,554.3 776.2,553.6 777.2,552.8 778.2,552.0 779.2,551.2 780.2,550.3 781.2,549.4 782.2,548.5 783.2,547.6 784.2,546.6 785.2,545.6 786.2,544.6 787.2,543.6 788.2,542.6 789.2,541.5 790.2,540.5 791.2,539.4 792.2,538.3 793.2,537.2 794.2,536.0 795.2,534.8 796.2,533.6 797.2,532.3 798.2,531.0 799.2,529.6 800.2,528.0 801.2,526.4 802.2,524.7 803.2,522.9 804.2,520.9 805.2,518.9 806.2,516.8 807.2,514.6 808.2,512.5 809.2,510.3 810.2,508.2 811.2,506.2 812.2,504.3 813.2,502.5 814.2,500.9 815.2,499.4 816.2,498.0 817.2,496.7 818.2,495.4 819.2,494.1 820.2,492.7 821.2,491.2 822.2,489.6 823.2,487.9 824.2,486.0 825.2,483.9 826.2,481.7 827.2,479.4 828.2,477.0 829.2,474.4 830.2,471.8 831.2,469.1 832.2,466.4 833.2,463.6 834.2,460.8 835.2,457.9 836.2,455.1 837.2,452.2 838.2,449.3 839.2,446.5 840.2,443.6 841.2,440.8 842.2,438.0 843.2,435.2 844.2,432.4 845.2,429.6 846.2,426.9 847.2,424.1 848.2,421.4 849.2,418.8 850.2,416.2 851.2,413.6 852.2,411.0 853.2,408.5 854.2,406.0 855.2,403.6 856.2,401.2 857.2,398.9 858.2,396.7 859.2,394.4 860.2,392.3 861.2,390.2 862.2,388.2 863.2,386.2 864.2,384.3 865.2,382.4 866.2,380.6 867.2,378.9 868.2,377.2 869.2,375.6 870.2,374.0 871.2,372.5 872.2,371.1 873.2,369.7 874.2,368.3 875.2,367.0 876.2,365.8 877.2,364.6 878.2,363.4 879.2,362.3 880.2,361.3 881.2,360.3 882.2,359.3 883.2,358.4 884.2,357.6 885.2,356.8 886.2,356.1 887.2,355.4 888.2,354.8 889.2,354.3 890.2,353.9 891.2,353.5 892.2,353.2 893.2,353.0 894.2,352.8 895.2,352.7 896.2,352.8 897.2,352.9 898.2,353.1 899.2,353.3 900.2,353.7 901.2,354.1 902.2,354.6 903.2,355.2 904.2,355.9 905.2,356.6 906.2,357.4 907.2,358.2 908.2,359.2 909.2,360.2 910.2,361.2 911.2,362.3 912.2,363.5 913.2,364.7 914.2,366.0 915.2,367.4 916.2,368.7 917.2,370.2 918.2,371.7 919.2,373.2 920.2,374.8 921.2,376.4 922.2,378.0 923.2,379.7 924.2,381.5 925.2,383.2 926.2,385.0 927.2,386.9 928.2,388.7 929.2,390.6 930.2,392.5 931.2,394.5 932.2,396.4 933.2,398.4 934.2,400.4 935.2,402.4 936.2,404.4 937.2,406.5 938.2,408.5 939.2,410.6 940.2,412.7 941.2,414.7 942.2,416.8 943.2,418.9 944.2,421.0 945.2,423.1 946.2,425.2 947.2,427.2 948.2,429.3 949.2,431.4 950.2,433.4 951.2,435.5 952.2,437.5 953.2,439.6 954.2,441.6 955.2,443.6 956.2,445.6 957.2,447.6 958.2,449.6 959.2,451.5 960.2,453.4 961.2,455.3 962.2,457.2 963.2,459.0 964.2,460.9 965.2,462.7 966.2,464.4 967.2,466.2 968.2,467.9 969.2,469.5 970.2,471.2 971.2,472.8 972.2,474.3 973.2,475.9 974.2,477.4 975.2,478.8 976.2,480.2 977.2,481.6 978.2,483.0 979.2,484.3 980.2,485.5 981.2,486.7 982.2,487.9 983.2,489.0 984.2,490.1 985.2,491.2 986.2,492.2 987.2,493.2 988.2,494.1 989.2,495.0 990.2,495.8 991.2,496.7 992.2,497.5 993.2,498.2 994.2,499.0 995.2,499.7 996.2,500.4 997.2,501.1 998.2,501.7 999.2,502.4 1000.2,503.0 1001.2,503.6 1002.2,504.2 1003.2,504.8 1004.2,505.4 1005.2,505.9 1006.2,506.5 1007.2,507.1 1008.2,507.6 1009.2,508.2 1010.2,508.7 1011.2,509.2 1012.2,509.8 1013.2,510.3 1014.2,510.8 1015.2,511.3 1016.2,511.8 1017.2,512.3 1018.2,512.8 1019.2,513.3 1020.2,513.8 1021.2,514.3 1022.2,514.7 1023.2,515.2 1024.2,515.7 1025.2,516.1 1026.2,516.6 1027.2,517.0 1028.2,517.5 1029.2,517.9 1030.2,518.4 1031.2,518.8 1032.2,519.3 1033.2,519.7 1034.2,520.1 1035.2,520.6 1036.2,521.0 1037.2,521.4 1038.2,521.8 1039.2,522.3 1040.2,522.7 1041.2,523.1 1042.2,523.5 1043.2,524.0 1044.2,524.4 1045.2,524.8 1046.2,525.2 1047.2,525.6 1048.2,526.0 1049.2,526.5 1050.2,526.9 1051.2,527.3 1052.2,527.7 1053.2,528.1 1054.2,528.5 1055.2,529.0 1056.2,529.4 1057.2,529.8 1058.2,530.2 1059.2,530.6 1060.2,531.1 1061.2,531.5 1062.2,531.9 1063.2,532.3 1064.2,532.7 1065.2,533.2 1066.2,533.6 1067.2,534.0 1068.2,534.4 1069.2,534.8 1070.2,535.3 1071.2,535.7 1072.2,536.1 1073.2,536.5 1074.2,536.9 1075.2,537.3 1076.2,537.7 1077.2,538.1 1078.2,538.5 1079.2,538.9 1080.2,539.3 1081.2,539.7 1082.2,540.1 1083.2,540.4 1084.2,540.8 1085.2,541.2 1086.2,541.6 1087.2,541.9 1088.2,542.3 1089.2,542.6 1090.2,543.0 1091.2,543.3 1092.2,543.7 1093.2,544.0 1094.2,544.3 1095.2,544.7 1096.2,545.0 1097.2,545.3 1098.2,545.6 1099.2,545.9 1100.2,546.2 1101.2,546.5 1102.2,546.7 1103.2,547.0 1104.2,547.3 1105.2,547.5 1106.2,547.8 1107.2,548.0 1108.2,548.2 1109.2,548.5 1110.2,548.7 1111.2,548.9 1112.2,549.1 1113.2,549.3 1114.2,549.5 1115.2,549.6 1116.2,549.8 1117.2,550.0 1118.2,550.1 1119.2,550.3 1120.2,550.4 1121.2,550.6 1122.2,550.7 1123.2,550.9 1124.2,551.0 1125.2,551.1 1126.2,551.3 1127.2,551.4 1128.2,551.5 1129.2,551.6 1130.2,551.7 1131.2,551.9 1132.2,552.0 1133.2,552.1 1134.2,552.2 1135.2,552.3 1136.2,552.4 1137.2,552.6 1138.2,552.7 1139.2,552.8 1140.2,552.9 1141.2,553.1 1142.2,553.2 1143.2,553.3 1144.2,553.4 1145.2,553.6 1146.2,553.7 1147.2,553.9 1148.2,554.0 1149.2,554.2 1150.2,554.3 1151.2,554.5 1152.2,554.7 1153.2,554.8 1154.2,555.0 1155.2,555.2 1156.0,555.4" stroke="#80CDC1" stroke-width="1.5"/>
<path d="M713.2,554.4 714.2,554.1 715.2,553.8 716.2,553.5 717.2,553.2 718.2,553.0 719.2,552.7 720.2,552.4 721.2,552.1 722.2,551.9 723.2,551.6 724.2,551.3 725.2,551.1 726.2,550.8 727.2,550.5 728.2,550.2 729.2,550.0 730.2,549.7 731.2,549.4 732.2,549.1 733.2,548.9 734.2,548.6 735.2,548.3 736.2,548.0 737.2,547.7 738.2,547.4 739.2,547.1 740.2,546.8 741.2,546.5 742.2,546.2 743.2,545.9 744.2,545.5 745.2,545.2 746.2,544.9 747.2,544.5 748.2,544.2 749.2,543.8 750.2,543.4 751.2,543.1 752.2,542.7 753.2,542.3 754.2,541.9 755.2,541.5 756.2,541.1 757.2,540.6 758.2,540.2 759.2,539.7 760.2,539.3 761.2,538.8 762.2,538.3 763.2,537.8 764.2,537.3 765.2,536.8 766.2,536.3 767.2,535.7 768.2,535.2 769.2,534.6 770.2,534.0 771.2,533.4 772.2,532.8 773.2,532.2 774.2,531.6 775.2,530.9 776.2,530.2 777.2,529.5 778.2,528.8 779.2,528.1 780.2,527.4 781.2,526.6 782.2,525.9 783.2,525.1 784.2,524.3 785.2,523.4 786.2,522.6 787.2,521.7 788.2,520.8 789.2,519.9 790.2,519.0 791.2,518.1 792.2,517.1 793.2,516.1 794.2,515.1 795.2,514.1 796.2,513.1 797.2,512.0 798.2,510.9 799.2,509.8 800.2,508.7 801.2,507.5 802.2,506.3 803.2,505.1 804.2,503.9 805.2,502.6 806.2,501.3 807.2,500.0 808.2,498.7 809.2,497.3 810.2,496.0 811.2,494.6 812.2,493.1 813.2,491.7 814.2,490.2 815.2,488.7 816.2,487.1 817.2,485.5 818.2,483.9 819.2,482.3 820.2,480.7 821.2,479.0 822.2,477.2 823.2,475.5 824.2,473.7 825.2,471.9 826.2,470.1 827.2,468.3 828.2,466.4 829.2,464.5 830.2,462.6 831.2,460.7 832.2,458.8 833.2,456.8 834.2,454.9 835.2,452.9 836.2,450.9 837.2,448.9 838.2,446.9 839.2,444.8 840.2,442.8 841.2,440.8 842.2,438.7 843.2,436.7 844.2,434.6 845.2,432.6 846.2,430.5 847.2,428.5 848.2,426.4 849.2,424.4 850.2,422.3 851.2,420.3 852.2,418.2 853.2,416.2 854.2,414.2 855.2,412.2 856.2,410.2 857.2,408.2 858.2,406.3 859.2,404.3 860.2,402.4 861.2,400.5 862.2,398.6 863.2,396.8 864.2,395.0 865.2,393.2 866.2,391.5 867.2,389.8 868.2,388.1 869.2,386.5 870.2,384.9 871.2,383.4 872.2,382.0 873.2,380.5 874.2,379.2 875.2,377.9 876.2,376.7 877.2,375.5 878.2,374.3 879.2,373.3 880.2,372.3 881.2,371.3 882.2,370.4 883.2,369.6 884.2,368.8 885.2,368.0 886.2,367.4 887.2,366.8 888.2,366.2 889.2,365.7 890.2,365.3 891.2,365.0 892.2,364.7 893.2,364.4 894.2,364.2 895.2,364.1 896.2,364.1 897.2,364.1 898.2,364.2 899.2,364.3 900.2,364.5 901.2,364.8 902.2,365.2 903.2,365.6 904.2,366.0 905.2,366.6 906.2,367.2 907.2,367.9 908.2,368.6 909.2,369.4 910.2,370.3 911.2,371.3 912.2,372.3 913.2,373.4 914.2,374.5 915.2,375.7 916.2,377.0 917.2,378.3 918.2,379.6 919.2,381.1 920.2,382.5 921.2,384.0 922.2,385.6 923.2,387.2 924.2,388.8 925.2,390.5 926.2,392.2 927.2,394.0 928.2,395.7 929.2,397.6 930.2,399.4 931.2,401.3 932.2,403.2 933.2,405.1 934.2,407.0 935.2,409.0 936.2,411.0 937.2,413.0 938.2,415.0 939.2,417.0 940.2,419.0 941.2,421.1 942.2,423.1 943.2,425.2 944.2,427.2 945.2,429.3 946.2,431.4 947.2,433.4 948.2,435.5 949.2,437.5 950.2,439.5 951.2,441.6 952.2,443.6 953.2,445.6 954.2,447.6 955.2,449.5 956.2,451.5 957.2,453.4 958.2,455.3 959.2,457.2 960.2,459.1 961.2,461.0 962.2,462.8 963.2,464.6 964.2,466.4 965.2,468.2 966.2,469.9 967.2,471.6 968.2,473.3 969.2,474.9 970.2,476.6 971.2,478.1 972.2,479.7 973.2,481.2 974.2,482.7 975.2,484.1 976.2,485.6 977.2,486.9 978.2,488.3 979.2,489.6 980.2,490.9 981.2,492.2 982.2,493.4 983.2,494.7 984.2,495.8 985.2,497.0 986.2,498.1 987.2,499.2 988.2,500.3 989.2,501.4 990.2,502.4 991.2,503.4 992.2,504.3 993.2,505.3 994.2,506.2 995.2,507.1 996.2,508.0 997.2,508.8 998.2,509.7 999.2,510.5 1000.2,511.3 1001.2,512.0 1002.2,512.8 1003.2,513.5 1004.2,514.2 1005.2,514.9 1006.2,515.6 1007.2,516.2 1008.2,516.9 1009.2,517.5 1010.2,518.1 1011.2,518.6 1012.2,519.2 1013.2,519.7 1014.2,520.3 1015.2,520.8 1016.2,521.3 1017.2,521.8 1018.2,522.2 1019.2,522.7 1020.2,523.1 1021.2,523.6 1022.2,524.0 1023.2,524.4 1024.2,524.8 1025.2,525.2 1026.2,525.6 1027.2,525.9 1028.2,526.3 1029.2,526.6 1030.2,527.0 1031.2,527.3 1032.2,527.6 1033.2,527.9 1034.2,528.2 1035.2,528.5 1036.2,528.8 1037.2,529.1 1038.2,529.4 1039.2,529.7 1040.2,530.0 1041.2,530.2 1042.2,530.5 1043.2,530.8 1044.2,531.0 1045.2,531.3 1046.2,531.5 1047.2,531.8 1048.2,532.0 1049.2,532.3 1050.2,532.5 1051.2,532.8 1052.2,533.0 1053.2,533.3 1054.2,533.6 1055.2,533.8 1056.2,534.1 1057.2,534.3 1058.2,534.6 1059.2,534.9 1060.2,535.1 1061.2,535.4 1062.2,535.7 1063.2,535.9 1064.2,536.2 1065.2,536.5 1066.2,536.8 1067.2,537.1 1068.2,537.3 1069.2,537.6 1070.2,537.9 1071.2,538.2 1072.2,538.5 1073.2,538.8 1074.2,539.1 1075.2,539.3 1076.2,539.6 1077.2,539.9 1078.2,540.2 1079.2,540.5 1080.2,540.8 1081.2,541.1 1082.2,541.4 1083.2,541.7 1084.2,542.0 1085.2,542.3 1086.2,542.6 1087.2,542.9 1088.2,543.2 1089.2,543.5 1090.2,543.8 1091.2,544.1 1092.2,544.4 1093.2,544.7 1094.2,545.0 1095.2,545.3 1096.2,545.7 1097.2,546.0 1098.2,546.3 1099.2,546.6 1100.2,546.9 1101.2,547.2 1102.2,547.5 1103.2,547.8 1104.2,548.1 1105.2,548.4 1106.2,548.7 1107.2,549.0 1108.2,549.3 1109.2,549.6 1110.2,549.9 1111.2,550.2 1112.2,550.5 1113.2,550.8 1114.2,551.1 1115.2,551.4 1116.2,551.7 1117.2,552.0 1118.2,552.3 1119.2,552.6 1120.2,552.9 1121.2,553.2 1122.2,553.5 1123.2,553.7 1124.2,554.0 1125.2,554.3 1126.2,554.6 1127.2,554.9 1128.2,555.2 1129.2,555.5 1130.2,555.7 1131.2,556.0 1132.2,556.3 1133.2,556.6 1134.2,556.8 1135.2,557.1 1136.2,557.4 1137.2,557.6 1138.2,557.9 1139.2,558.2 1140.2,558.4 1141.2,558.7 1142.2,558.9 1143.2,559.2 1144.2,559.4 1145.2,559.7 1146.2,559.9 1147.2,560.2 1148.2,560.4 1149.2,560.7 1150.2,560.9 1151.2,561.1 1152.2,561.4 1153.2,561.6 1154.2,561.8 1155.2,562.0 1156.0,562.2" stroke="#35978F" stroke-width="1.5"/>
<path d="M713.2,580.4 714.2,580.3 715.2,580.2 716.2,580.1 717.2,579.9 718.2,579.8 719.2,579.7 720.2,579.5 721.2,579.3 722.2,579.2 723.2,579.0 724.2,578.8 725.2,578.6 726.2,578.4 727.2,578.2 728.2,578.0 729.2,577.8 730.2,577.6 731.2,577.3 732.2,577.1 733.2,576.9 734.2,576.6 735.2,576.3 736.2,576.1 737.2,575.8 738.2,575.5 739.2,575.2 740.2,574.9 741.2,574.6 742.2,574.3 743.2,573.9 744.2,573.6 745.2,573.3 746.2,572.9 747.2,572.6 748.2,572.2 749.2,571.8 750.2,571.4 751.2,571.0 752.2,570.7 753.2,570.2 754.2,569.8 755.2,569.4 756.2,569.0 757.2,568.5 758.2,568.1 759.2,567.6 760.2,567.2 761.2,566.7 762.2,566.2 763.2,565.7 764.2,565.2 765.2,564.7 766.2,564.2 767.2,563.7 768.2,563.1 769.2,562.6 770.2,562.0 771.2,561.5 772.2,560.9 773.2,560.3 774.2,559.7 775.2,559.1 776.2,558.5 777.2,557.9 778.2,557.3 779.2,556.7 780.2,556.0 781.2,555.4 782.2,554.7 783.2,554.0 784.2,553.3 785.2,552.7 786.2,552.0 787.2,551.3 788.2,550.5 789.2,549.8 790.2,549.1 791.2,548.3 792.2,547.6 793.2,546.8 794.2,546.0 795.2,545.3 796.2,544.5 797.2,543.7 798.2,542.9 799.2,542.0 800.2,541.2 801.2,540.4 802.2,539.5 803.2,538.6 804.2,537.8 805.2,536.9 806.2,536.0 807.2,535.1 808.2,534.2 809.2,533.3 810.2,532.3 811.2,531.4 812.2,530.5 813.2,529.5 814.2,528.5 815.2,527.5 816.2,526.5 817.2,525.5 818.2,524.5 819.2,523.5 820.2,522.5 821.2,521.4 822.2,520.4 823.2,519.3 824.2,518.3 825.2,517.2 826.2,516.1 827.2,515.0 828.2,514.0 829.2,512.9 830.2,511.8 831.2,510.7 832.2,509.6 833.2,508.5 834.2,507.4 835.2,506.3 836.2,505.2 837.2,504.1 838.2,503.1 839.2,502.0 840.2,500.9 841.2,499.8 842.2,498.7 843.2,497.7 844.2,496.6 845.2,495.6 846.2,494.5 847.2,493.5 848.2,492.4 849.2,491.4 850.2,490.4 851.2,489.4 852.2,488.4 853.2,487.5 854.2,486.5 855.2,485.6 856.2,484.6 857.2,483.7 858.2,482.8 859.2,481.9 860.2,481.0 861.2,480.2 862.2,479.3 863.2,478.5 864.2,477.7 865.2,476.8 866.2,476.1 867.2,475.3 868.2,474.5 869.2,473.7 870.2,473.0 871.2,472.3 872.2,471.6 873.2,470.9 874.2,470.2 875.2,469.5 876.2,468.9 877.2,468.2 878.2,467.6 879.2,467.0 880.2,466.4 881.2,465.8 882.2,465.2 883.2,464.6 884.2,464.1 885.2,463.5 886.2,463.0 887.2,462.5 888.2,462.0 889.2,461.5 890.2,461.1 891.2,460.6 892.2,460.2 893.2,459.7 894.2,459.3 895.2,458.9 896.2,458.5 897.2,458.2 898.2,457.8 899.2,457.4 900.2,457.1 901.2,456.8 902.2,456.5 903.2,456.2 904.2,455.9 905.2,455.6 906.2,455.4 907.2,455.1 908.2,454.9 909.2,454.7 910.2,454.5 911.2,454.3 912.2,454.1 913.2,454.0 914.2,453.8 915.2,453.7 916.2,453.6 917.2,453.5 918.2,453.4 919.2,453.3 920.2,453.2 921.2,453.2 922.2,453.1 923.2,453.1 924.2,453.1 925.2,453.1 926.2,453.1 927.2,453.1 928.2,453.2 929.2,453.2 930.2,453.3 931.2,453.3 932.2,453.4 933.2,453.5 934.2,453.7 935.2,453.8 936.2,453.9 937.2,454.1 938.2,454.2 939.2,454.4 940.2,454.6 941.2,454.8 942.2,455.0 943.2,455.2 944.2,455.4 945.2,455.7 946.2,455.9 947.2,456.1 948.2,456.4 949.2,456.7 950.2,456.9 951.2,457.2 952.2,457.5 953.2,457.8 954.2,458.1 955.2,458.4 956.2,458.7 957.2,459.0 958.2,459.3 959.2,459.7 960.2,460.0 961.2,460.3 962.2,460.6 963.2,461.0 964.2,461.3 965.2,461.7 966.2,462.0 967.2,462.4 968.2,462.7 969.2,463.1 970.2,463.4 971.2,463.8 972.2,464.1 973.2,464.5 974.2,464.8 975.2,465.2 976.2,465.5 977.2,465.9 978.2,466.2 979.2,466.6 980.2,467.0 981.2,467.3 982.2,467.7 983.2,468.0 984.2,468.4 985.2,468.8 986.2,469.1 987.2,469.5 988.2,469.9 989.2,470.2 990.2,470.6 991.2,471.0 992.2,471.3 993.2,471.7 994.2,472.1 995.2,472.4 996.2,472.8 997.2,473.2 998.2,473.6 999.2,473.9 1000.2,474.3 1001.2,474.7 1002.2,475.1 1003.2,475.4 1004.2,475.8 1005.2,476.2 1006.2,476.6 1007.2,477.0 1008.2,477.3 1009.2,477.7 1010.2,478.1 1011.2,478.5 1012.2,478.9 1013.2,479.3 1014.2,479.7 1015.2,480.0 1016.2,480.4 1017.2,480.8 1018.2,481.2 1019.2,481.6 1020.2,482.0 1021.2,482.4 1022.2,482.8 1023.2,483.2 1024.2,483.6 1025.2,484.0 1026.2,484.4 1027.2,484.8 1028.2,485.2 1029.2,485.6 1030.2,486.0 1031.2,486.4 1032.2,486.8 1033.2,487.2 1034.2,487.6 1035.2,488.0 1036.2,488.4 1037.2,488.8 1038.2,489.3 1039.2,489.7 1040.2,490.1 1041.2,490.5 1042.2,490.9 1043.2,491.3 1044.2,491.7 1045.2,492.1 1046.2,492.5 1047.2,492.9 1048.2,493.4 1049.2,493.8 1050.2,494.2 1051.2,494.6 1052.2,495.0 1053.2,495.4 1054.2,495.8 1055.2,496.3 1056.2,496.7 1057.2,497.1 1058.2,497.5 1059.2,497.9 1060.2,498.3 1061.2,498.7 1062.2,499.2 1063.2,499.6 1064.2,500.0 1065.2,500.4 1066.2,500.8 1067.2,501.2 1068.2,501.6 1069.2,502.1 1070.2,502.5 1071.2,502.9 1072.2,503.3 1073.2,503.7 1074.2,504.1 1075.2,504.5 1076.2,505.0 1077.2,505.4 1078.2,505.8 1079.2,506.2 1080.2,506.6 1081.2,507.0 1082.2,507.4 1083.2,507.8 1084.2,508.2 1085.2,508.7 1086.2,509.1 1087.2,509.5 1088.2,509.9 1089.2,510.3 1090.2,510.7 1091.2,511.1 1092.2,511.5 1093.2,511.9 1094.2,512.3 1095.2,512.7 1096.2,513.1 1097.2,513.5 1098.2,513.9 1099.2,514.3 1100.2,514.7 1101.2,515.1 1102.2,515.5 1103.2,515.9 1104.2,516.3 1105.2,516.7 1106.2,517.1 1107.2,517.5 1108.2,517.9 1109.2,518.3 1110.2,518.7 1111.2,519.1 1112.2,519.4 1113.2,519.8 1114.2,520.2 1115.2,520.6 1116.2,521.0 1117.2,521.4 1118.2,521.7 1119.2,522.1 1120.2,522.5 1121.2,522.9 1122.2,523.3 1123.2,523.6 1124.2,524.0 1125.2,524.4 1126.2,524.8 1127.2,525.1 1128.2,525.5 1129.2,525.9 1130.2,526.2 1131.2,526.6 1132.2,526.9 1133.2,527.3 1134.2,527.7 1135.2,528.0 1136.2,528.4 1137.2,528.7 1138.2,529.1 1139.2,529.4 1140.2,529.8 1141.2,530.1 1142.2,530.5 1143.2,530.8 1144.2,531.2 1145.2,531.5 1146.2,531.8 1147.2,532.2 1148.2,532.5 1149.2,532.8 1150.2,533.2 1151.2,533.5 1152.2,533.8 1153.2,534.1 1154.2,534.5 1155.2,534.8 1156.0,535.0" stroke="#BF812D" stroke-width="1.5"/>
<path d="M713.2,528.7 714.2,528.6 715.2,528.6 716.2,528.5 717.2,528.5 718.2,528.4 719.2,528.4 720.2,528.3 721.2,528.3 722.2,528.2 723.2,528.2 724.2,528.1 725.2,528.1 726.2,528.1 727.2,528.0 728.2,528.0 729.2,527.9 730.2,527.9 731.2,527.8 732.2,527.8 733.2,527.7 734.2,527.7 735.2,527.7 736.2,527.6 737.2,527.6 738.2,527.5 739.2,527.5 740.2,527.4 741.2,527.4 742.2,527.4 743.2,527.3 744.2,527.3 745.2,527.2 746.2,527.2 747.2,527.2 748.2,527.1 749.2,527.1 750.2,527.0 751.2,527.0 752.2,527.0 753.2,526.9 754.2,526.9 755.2,526.8 756.2,526.8 757.2,526.8 758.2,526.7 759.2,526.7 760.2,526.7 761.2,526.6 762.2,526.6 763.2,526.5 764.2,526.5 765.2,526.5 766.2,526.4 767.2,526.4 768.2,526.4 769.2,526.3 770.2,526.3 771.2,526.3 772.2,526.2 773.2,526.2 774.2,526.2 775.2,526.1 776.2,526.1 777.2,526.1 778.2,526.0 779.2,526.0 780.2,526.0 781.2,525.9 782.2,525.9 783.2,525.9 784.2,525.9 785.2,525.8 786.2,525.8 787.2,525.8 788.2,525.7 789.2,525.7 790.2,525.7 791.2,525.7 792.2,525.6 793.2,525.6 794.2,525.6 795.2,525.6 796.2,525.5 797.2,525.5 798.2,525.5 799.2,525.5 800.2,525.4 801.2,525.4 802.2,525.4 803.2,525.4 804.2,525.3 805.2,525.3 806.2,525.3 807.2,525.3 808.2,525.3 809.2,525.2 810.2,525.2 811.2,525.2 812.2,525.2 813.2,525.2 814.2,525.1 815.2,525.1 816.2,525.1 817.2,525.1 818.2,525.1 819.2,525.1 820.2,525.0 821.2,525.0 822.2,525.0 823.2,525.0 824.2,525.0 825.2,525.0 826.2,525.0 827.2,524.9 828.2,524.9 829.2,524.9 830.2,524.9 831.2,524.9 832.2,524.9 833.2,524.9 834.2,524.9 835.2,524.9 836.2,524.9 837.2,524.8 838.2,524.8 839.2,524.8 840.2,524.8 841.2,524.8 842.2,524.8 843.2,524.8 844.2,524.8 845.2,524.8 846.2,524.8 847.2,524.8 848.2,524.8 849.2,524.8 850.2,524.8 851.2,524.8 852.2,524.8 853.2,524.8 854.2,524.8 855.2,524.8 856.2,524.8 857.2,524.8 858.2,524.8 859.2,524.8 860.2,524.8 861.2,524.8 862.2,524.8 863.2,524.8 864.2,524.8 865.2,524.8 866.2,524.8 867.2,524.8 868.2,524.8 869.2,524.8 870.2,524.9 871.2,524.9 872.2,524.9 873.2,524.9 874.2,524.9 875.2,524.9 876.2,524.9 877.2,524.9 878.2,524.9 879.2,525.0 880.2,525.0 881.2,525.0 882.2,525.0 883.2,525.0 884.2,525.0 885.2,525.1 886.2,525.1 887.2,525.1 888.2,525.1 889.2,525.1 890.2,525.2 891.2,525.2 892.2,525.2 893.2,525.2 894.2,525.2 895.2,525.3 896.2,525.3 897.2,525.3 898.2,525.3 899.2,525.4 900.2,525.4 901.2,525.4 902.2,525.4 903.2,525.5 904.2,525.5 905.2,525.5 906.2,525.6 907.2,525.6 908.2,525.6 909.2,525.7 910.2,525.7 911.2,525.7 912.2,525.8 913.2,525.8 914.2,525.8 915.2,525.9 916.2,525.9 917.2,525.9 918.2,526.0 919.2,526.0 920.2,526.0 921.2,526.1 922.2,526.1 923.2,526.2 924.2,526.2 925.2,526.3 926.2,526.3 927.2,526.3 928.2,526.4 929.2,526.4 930.2,526.5 931.2,526.5 932.2,526.6 933.2,526.6 934.2,526.7 935.2,526.7 936.2,526.8 937.2,526.8 938.2,526.9 939.2,526.9 940.2,527.0 941.2,527.0 942.2,527.1 943.2,527.1 944.2,527.2 945.2,527.2 946.2,527.3 947.2,527.4 948.2,527.4 949.2,527.5 950.2,527.5 951.2,527.6 952.2,527.7 953.2,527.7 954.2,527.8 955.2,527.9 956.2,527.9 957.2,528.0 958.2,528.1 959.2,528.1 960.2,528.2 961.2,528.3 962.2,528.3 963.2,528.4 964.2,528.5 965.2,528.5 966.2,528.6 967.2,528.7 968.2,528.8 969.2,528.8 970.2,528.9 971.2,529.0 972.2,529.1 973.2,529.1 974.2,529.2 975.2,529.3 976.2,529.4 977.2,529.5 978.2,529.5 979.2,529.6 980.2,529.7 981.2,529.8 982.2,529.9 983.2,530.0 984.2,530.0 985.2,530.1 986.2,530.2 987.2,530.3 988.2,530.4 989.2,530.5 990.2,530.6 991.2,530.7 992.2,530.8 993.2,530.9 994.2,531.0 995.2,531.1 996.2,531.2 997.2,531.3 998.2,531.4 999.2,531.5 1000.2,531.6 1001.2,531.7 1002.2,531.8 1003.2,531.9 1004.2,532.0 1005.2,532.1 1006.2,532.2 1007.2,532.3 1008.2,532.4 1009.2,532.5 1010.2,532.6 1011.2,532.7 1012.2,532.8 1013.2,532.9 1014.2,533.0 1015.2,533.2 1016.2,533.3 1017.2,533.4 1018.2,533.5 1019.2,533.6 1020.2,533.7 1021.2,533.9 1022.2,534.0 1023.2,534.1 1024.2,534.2 1025.2,534.3 1026.2,534.5 1027.2,534.6 1028.2,534.7 1029.2,534.8 1030.2,535.0 1031.2,535.1 1032.2,535.2 1033.2,535.4 1034.2,535.5 1035.2,535.6 1036.2,535.8 1037.2,535.9 1038.2,536.0 1039.2,536.2 1040.2,536.3 1041.2,536.4 1042.2,536.6 1043.2,536.7 1044.2,536.8 1045.2,537.0 1046.2,537.1 1047.2,537.3 1048.2,537.4 1049.2,537.6 1050.2,537.7 1051.2,537.9 1052.2,538.0 1053.2,538.2 1054.2,538.3 1055.2,538.5 1056.2,538.6 1057.2,538.8 1058.2,538.9 1059.2,539.1 1060.2,539.2 1061.2,539.4 1062.2,539.5 1063.2,539.7 1064.2,539.9 1065.2,540.0 1066.2,540.2 1067.2,540.4 1068.2,540.5 1069.2,540.7 1070.2,540.8 1071.2,541.0 1072.2,541.2 1073.2,541.4 1074.2,541.5 1075.2,541.7 1076.2,541.9 1077.2,542.0 1078.2,542.2 1079.2,542.4 1080.2,542.6 1081.2,542.7 1082.2,542.9 1083.2,543.1 1084.2,543.3 1085.2,543.5 1086.2,543.7 1087.2,543.8 1088.2,544.0 1089.2,544.2 1090.2,544.4 1091.2,544.6 1092.2,544.8 1093.2,545.0 1094.2,545.2 1095.2,545.3 1096.2,545.5 1097.2,545.7 1098.2,545.9 1099.2,546.1 1100.2,546.3 1101.2,546.5 1102.2,546.7 1103.2,546.9 1104.2,547.1 1105.2,547.3 1106.2,547.5 1107.2,547.7 1108.2,548.0 1109.2,548.2 1110.2,548.4 1111.2,548.6 1112.2,548.8 1113.2,549.0 1114.2,549.2 1115.2,549.4 1116.2,549.7 1117.2,549.9 1118.2,550.1 1119.2,550.3 1120.2,550.5 1121.2,550.8 1122.2,551.0 1123.2,551.2 1124.2,551.4 1125.2,551.6 1126.2,551.9 1127.2,552.1 1128.2,552.3 1129.2,552.6 1130.2,552.8 1131.2,553.0 1132.2,553.3 1133.2,553.5 1134.2,553.7 1135.2,554.0 1136.2,554.2 1137.2,554.5 1138.2,554.7 1139.2,554.9 1140.2,555.2 1141.2,555.4 1142.2,555.7 1143.2,555.9 1144.2,556.2 1145.2,556.4 1146.2,556.7 1147.2,556.9 1148.2,557.2 1149.2,557.4 1150.2,557.7 1151.2,558.0 1152.2,558.2 1153.2,558.5 1154.2,558.7 1155.2,559.0 1156.0,559.2" stroke="#01665E" stroke-width="1.5"/>
<path d="M713.2,581.2 714.2,581.1 715.2,581.1 716.2,581.0 717.2,580.9 718.2,580.8 719.2,580.6 720.2,580.5 721.2,580.4 722.2,580.3 723.2,580.1 724.2,580.0 725.2,579.8 726.2,579.6 727.2,579.5 728.2,579.3 729.2,579.1 730.2,578.9 731.2,578.7 732.2,578.5 733.2,578.3 734.2,578.1 735.2,577.9 736.2,577.6 737.2,577.4 738.2,577.1 739.2,576.9 740.2,576.6 741.2,576.3 742.2,576.1 743.2,575.8 744.2,575.5 745.2,575.2 746.2,574.9 747.2,574.6 748.2,574.2 749.2,573.9 750.2,573.6 751.2,573.2 752.2,572.9 753.2,572.5 754.2,572.2 755.2,571.8 756.2,571.4 757.2,571.0 758.2,570.7 759.2,570.3 760.2,569.9 761.2,569.4 762.2,569.0 763.2,568.6 764.2,568.2 765.2,567.7 766.2,567.3 767.2,566.8 768.2,566.4 769.2,565.9 770.2,565.4 771.2,564.9 772.2,564.5 773.2,564.0 774.2,563.5 775.2,563.0 776.2,562.4 777.2,561.9 778.2,561.4 779.2,560.8 780.2,560.3 781.2,559.8 782.2,559.2 783.2,558.6 784.2,558.1 785.2,557.5 786.2,556.9 787.2,556.3 788.2,555.7 789.2,555.1 790.2,554.5 791.2,553.9 792.2,553.3 793.2,552.6 794.2,552.0 795.2,551.3 796.2,550.7 797.2,550.0 798.2,549.4 799.2,548.7 800.2,548.0 801.2,547.3 802.2,546.6 803.2,545.9 804.2,545.2 805.2,544.5 806.2,543.8 807.2,543.1 808.2,542.3 809.2,541.6 810.2,540.8 811.2,540.1 812.2,539.3 813.2,538.6 814.2,537.8 815.2,537.0 816.2,536.2 817.2,535.4 818.2,534.6 819.2,533.8 820.2,533.0 821.2,532.2 822.2,531.4 823.2,530.6 824.2,529.8 825.2,528.9 826.2,528.1 827.2,527.3 828.2,526.4 829.2,525.6 830.2,524.8 831.2,523.9 832.2,523.1 833.2,522.3 834.2,521.4 835.2,520.6 836.2,519.7 837.2,518.9 838.2,518.1 839.2,517.2 840.2,516.4 841.2,515.6 842.2,514.7 843.2,513.9 844.2,513.1 845.2,512.3 846.2,511.5 847.2,510.6 848.2,509.8 849.2,509.0 850.2,508.2 851.2,507.5 852.2,506.7 853.2,505.9 854.2,505.1 855.2,504.4 856.2,503.6 857.2,502.8 858.2,502.1 859.2,501.4 860.2,500.6 861.2,499.9 862.2,499.2 863.2,498.5 864.2,497.8 865.2,497.1 866.2,496.4 867.2,495.8 868.2,495.1 869.2,494.5 870.2,493.8 871.2,493.2 872.2,492.6 873.2,491.9 874.2,491.3 875.2,490.7 876.2,490.1 877.2,489.6 878.2,489.0 879.2,488.4 880.2,487.9 881.2,487.4 882.2,486.8 883.2,486.3 884.2,485.8 885.2,485.3 886.2,484.8 887.2,484.3 888.2,483.9 889.2,483.4 890.2,483.0 891.2,482.6 892.2,482.1 893.2,481.7 894.2,481.3 895.2,480.9 896.2,480.6 897.2,480.2 898.2,479.8 899.2,479.5 900.2,479.2 901.2,478.9 902.2,478.6 903.2,478.3 904.2,478.0 905.2,477.7 906.2,477.5 907.2,477.2 908.2,477.0 909.2,476.7 910.2,476.5 911.2,476.3 912.2,476.1 913.2,475.9 914.2,475.7 915.2,475.6 916.2,475.4 917.2,475.3 918.2,475.1 919.2,475.0 920.2,474.8 921.2,474.7 922.2,474.6 923.2,474.5 924.2,474.4 925.2,474.3 926.2,474.2 927.2,474.1 928.2,474.1 929.2,474.0 930.2,473.9 931.2,473.9 932.2,473.8 933.2,473.8 934.2,473.8 935.2,473.7 936.2,473.7 937.2,473.7 938.2,473.7 939.2,473.6 940.2,473.6 941.2,473.6 942.2,473.6 943.2,473.6 944.2,473.6 945.2,473.6 946.2,473.7 947.2,473.7 948.2,473.7 949.2,473.7 950.2,473.7 951.2,473.7 952.2,473.8 953.2,473.8 954.2,473.8 955.2,473.8 956.2,473.9 957.2,473.9 958.2,473.9 959.2,474.0 960.2,474.0 961.2,474.0 962.2,474.1 963.2,474.1 964.2,474.1 965.2,474.1 966.2,474.2 967.2,474.2 968.2,474.2 969.2,474.2 970.2,474.3 971.2,474.3 972.2,474.3 973.2,474.3 974.2,474.3 975.2,474.3 976.2,474.4 977.2,474.4 978.2,474.4 979.2,474.4 980.2,474.4 981.2,474.4 982.2,474.4 983.2,474.4 984.2,474.4 985.2,474.4 986.2,474.4 987.2,474.4 988.2,474.4 989.2,474.4 990.2,474.4 991.2,474.4 992.2,474.5 993.2,474.5 994.2,474.5 995.2,474.5 996.2,474.5 997.2,474.5 998.2,474.5 999.2,474.5 1000.2,474.6 1001.2,474.6 1002.2,474.6 1003.2,474.6 1004.2,474.7 1005.2,474.7 1006.2,474.7 1007.2,474.7 1008.2,474.8 1009.2,474.8 1010.2,474.9 1011.2,474.9 1012.2,475.0 1013.2,475.0 1014.2,475.1 1015.2,475.1 1016.2,475.2 1017.2,475.3 1018.2,475.3 1019.2,475.4 1020.2,475.5 1021.2,475.6 1022.2,475.7 1023.2,475.7 1024.2,475.8 1025.2,476.0 1026.2,476.1 1027.2,476.2 1028.2,476.3 1029.2,476.4 1030.2,476.5 1031.2,476.7 1032.2,476.8 1033.2,477.0 1034.2,477.1 1035.2,477.3 1036.2,477.4 1037.2,477.6 1038.2,477.8 1039.2,478.0 1040.2,478.2 1041.2,478.4 1042.2,478.6 1043.2,478.8 1044.2,479.0 1045.2,479.2 1046.2,479.5 1047.2,479.7 1048.2,479.9 1049.2,480.2 1050.2,480.4 1051.2,480.7 1052.2,480.9 1053.2,481.2 1054.2,481.5 1055.2,481.8 1056.2,482.0 1057.2,482.3 1058.2,482.6 1059.2,482.9 1060.2,483.2 1061.2,483.6 1062.2,483.9 1063.2,484.2 1064.2,484.5 1065.2,484.9 1066.2,485.2 1067.2,485.5 1068.2,485.9 1069.2,486.2 1070.2,486.6 1071.2,487.0 1072.2,487.3 1073.2,487.7 1074.2,488.1 1075.2,488.5 1076.2,488.8 1077.2,489.2 1078.2,489.6 1079.2,490.0 1080.2,490.4 1081.2,490.9 1082.2,491.3 1083.2,491.7 1084.2,492.1 1085.2,492.5 1086.2,493.0 1087.2,493.4 1088.2,493.8 1089.2,494.3 1090.2,494.7 1091.2,495.2 1092.2,495.6 1093.2,496.1 1094.2,496.6 1095.2,497.0 1096.2,497.5 1097.2,498.0 1098.2,498.5 1099.2,498.9 1100.2,499.4 1101.2,499.9 1102.2,500.4 1103.2,500.9 1104.2,501.4 1105.2,501.9 1106.2,502.4 1107.2,502.9 1108.2,503.4 1109.2,503.9 1110.2,504.5 1111.2,505.0 1112.2,505.5 1113.2,506.0 1114.2,506.6 1115.2,507.1 1116.2,507.7 1117.2,508.2 1118.2,508.7 1119.2,509.3 1120.2,509.8 1121.2,510.4 1122.2,510.9 1123.2,511.5 1124.2,512.1 1125.2,512.6 1126.2,513.2 1127.2,513.8 1128.2,514.3 1129.2,514.9 1130.2,515.5 1131.2,516.0 1132.2,516.6 1133.2,517.2 1134.2,517.8 1135.2,518.4 1136.2,519.0 1137.2,519.6 1138.2,520.1 1139.2,520.7 1140.2,521.3 1141.2,521.9 1142.2,522.5 1143.2,523.1 1144.2,523.7 1145.2,524.3 1146.2,525.0 1147.2,525.6 1148.2,526.2 1149.2,526.8 1150.2,527.4 1151.2,528.0 1152.2,528.6 1153.2,529.2 1154.2,529.9 1155.2,530.5 1156.0,531.0" stroke="#000000" stroke-width="1.75"/>
<path d="M713.2,581.1 714.2,580.9 715.2,580.7 716.2,580.5 717.2,580.3 718.2,580.1 719.2,579.9 720.2,579.7 721.2,579.5 722.2,579.3 723.2,579.1 724.2,578.9 725.2,578.7 726.2,578.5 727.2,578.3 728.2,578.1 729.2,577.8 730.2,577.6 731.2,577.4 732.2,577.2 733.2,576.9 734.2,576.7 735.2,576.4 736.2,576.2 737.2,575.9 738.2,575.7 739.2,575.4 740.2,575.2 741.2,574.9 742.2,574.6 743.2,574.3 744.2,574.0 745.2,573.8 746.2,573.5 747.2,573.2 748.2,572.8 749.2,572.5 750.2,572.2 751.2,571.9 752.2,571.5 753.2,571.2 754.2,570.9 755.2,570.5 756.2,570.1 757.2,569.8 758.2,569.4 759.2,569.0 760.2,568.6 761.2,568.2 762.2,567.8 763.2,567.4 764.2,567.0 765.2,566.5 766.2,566.1 767.2,565.6 768.2,565.2 769.2,564.7 770.2,564.2 771.2,563.7 772.2,563.2 773.2,562.7 774.2,562.2 775.2,561.7 776.2,561.2 777.2,560.6 778.2,560.1 779.2,559.5 780.2,558.9 781.2,558.3 782.2,557.7 783.2,557.1 784.2,556.5 785.2,555.9 786.2,555.2 787.2,554.6 788.2,553.9 789.2,553.2 790.2,552.5 791.2,551.8 792.2,551.1 793.2,550.4 794.2,549.6 795.2,548.9 796.2,548.1 797.2,547.3 798.2,546.6 799.2,545.8 800.2,545.0 801.2,544.2 802.2,543.4 803.2,542.5 804.2,541.7 805.2,540.9 806.2,540.0 807.2,539.2 808.2,538.3 809.2,537.4 810.2,536.5 811.2,535.7 812.2,534.8 813.2,533.9 814.2,533.0 815.2,532.1 816.2,531.2 817.2,530.3 818.2,529.4 819.2,528.5 820.2,527.5 821.2,526.6 822.2,525.7 823.2,524.8 824.2,523.8 825.2,522.9 826.2,522.0 827.2,521.0 828.2,520.1 829.2,519.2 830.2,518.2 831.2,517.3 832.2,516.4 833.2,515.5 834.2,514.5 835.2,513.6 836.2,512.7 837.2,511.8 838.2,510.8 839.2,509.9 840.2,509.0 841.2,508.1 842.2,507.2 843.2,506.3 844.2,505.4 845.2,504.5 846.2,503.6 847.2,502.8 848.2,501.9 849.2,501.0 850.2,500.2 851.2,499.4 852.2,498.5 853.2,497.7 854.2,496.9 855.2,496.1 856.2,495.3 857.2,494.5 858.2,493.8 859.2,493.0 860.2,492.3 861.2,491.6 862.2,490.9 863.2,490.2 864.2,489.5 865.2,488.9 866.2,488.2 867.2,487.6 868.2,487.0 869.2,486.4 870.2,485.8 871.2,485.2 872.2,484.6 873.2,484.1 874.2,483.5 875.2,483.0 876.2,482.5 877.2,482.0 878.2,481.5 879.2,481.0 880.2,480.6 881.2,480.1 882.2,479.7 883.2,479.3 884.2,478.8 885.2,478.4 886.2,478.0 887.2,477.6 888.2,477.3 889.2,476.9 890.2,476.6 891.2,476.2 892.2,475.9 893.2,475.6 894.2,475.3 895.2,475.0 896.2,474.7 897.2,474.4 898.2,474.1 899.2,473.8 900.2,473.6 901.2,473.3 902.2,473.1 903.2,472.9 904.2,472.7 905.2,472.5 906.2,472.3 907.2,472.1 908.2,471.9 909.2,471.7 910.2,471.5 911.2,471.4 912.2,471.2 913.2,471.1 914.2,470.9 915.2,470.8 916.2,470.7 917.2,470.5 918.2,470.4 919.2,470.3 920.2,470.2 921.2,470.1 922.2,470.0 923.2,470.0 924.2,469.9 925.2,469.8 926.2,469.8 927.2,469.7 928.2,469.6 929.2,469.6 930.2,469.6 931.2,469.5 932.2,469.5 933.2,469.5 934.2,469.5 935.2,469.4 936.2,469.4 937.2,469.4 938.2,469.4 939.2,469.4 940.2,469.4 941.2,469.5 942.2,469.5 943.2,469.5 944.2,469.5 945.2,469.6 946.2,469.6 947.2,469.7 948.2,469.7 949.2,469.8 950.2,469.8 951.2,469.9 952.2,470.0 953.2,470.0 954.2,470.1 955.2,470.2 956.2,470.3 957.2,470.4 958.2,470.4 959.2,470.5 960.2,470.6 961.2,470.7 962.2,470.9 963.2,471.0 964.2,471.1 965.2,471.2 966.2,471.3 967.2,471.4 968.2,471.6 969.2,471.7 970.2,471.8 971.2,472.0 972.2,472.1 973.2,472.3 974.2,472.4 975.2,472.6 976.2,472.7 977.2,472.9 978.2,473.0 979.2,473.2 980.2,473.3 981.2,473.5 982.2,473.7 983.2,473.9 984.2,474.0 985.2,474.2 986.2,474.4 987.2,474.6 988.2,474.8 989.2,474.9 990.2,475.1 991.2,475.3 992.2,475.5 993.2,475.7 994.2,475.9 995.2,476.1 996.2,476.3 997.2,476.5 998.2,476.7 999.2,476.9 1000.2,477.1 1001.2,477.3 1002.2,477.5 1003.2,477.7 1004.2,478.0 1005.2,478.2 1006.2,478.4 1007.2,478.6 1008.2,478.8 1009.2,479.0 1010.2,479.2 1011.2,479.5 1012.2,479.7 1013.2,479.9 1014.2,480.1 1015.2,480.4 1016.2,480.6 1017.2,480.8 1018.2,481.0 1019.2,481.3 1020.2,481.5 1021.2,481.7 1022.2,481.9 1023.2,482.2 1024.2,482.4 1025.2,482.6 1026.2,482.8 1027.2,483.1 1028.2,483.3 1029.2,483.5 1030.2,483.7 1031.2,484.0 1032.2,484.2 1033.2,484.4 1034.2,484.6 1035.2,484.9 1036.2,485.1 1037.2,485.3 1038.2,485.5 1039.2,485.8 1040.2,486.0 1041.2,486.2 1042.2,486.4 1043.2,486.7 1044.2,486.9 1045.2,487.1 1046.2,487.3 1047.2,487.6 1048.2,487.8 1049.2,488.0 1050.2,488.3 1051.2,488.5 1052.2,488.7 1053.2,489.0 1054.2,489.2 1055.2,489.5 1056.2,489.7 1057.2,490.0 1058.2,490.2 1059.2,490.5 1060.2,490.7 1061.2,491.0 1062.2,491.3 1063.2,491.6 1064.2,491.8 1065.2,492.1 1066.2,492.4 1067.2,492.7 1068.2,493.0 1069.2,493.3 1070.2,493.6 1071.2,493.9 1072.2,494.2 1073.2,494.6 1074.2,494.9 1075.2,495.2 1076.2,495.6 1077.2,495.9 1078.2,496.3 1079.2,496.7 1080.2,497.0 1081.2,497.4 1082.2,497.8 1083.2,498.2 1084.2,498.6 1085.2,499.0 1086.2,499.4 1087.2,499.9 1088.2,500.3 1089.2,500.7 1090.2,501.2 1091.2,501.7 1092.2,502.1 1093.2,502.6 1094.2,503.1 1095.2,503.6 1096.2,504.1 1097.2,504.6 1098.2,505.1 1099.2,505.6 1100.2,506.2 1101.2,506.7 1102.2,507.2 1103.2,507.8 1104.2,508.3 1105.2,508.9 1106.2,509.4 1107.2,510.0 1108.2,510.5 1109.2,511.1 1110.2,511.6 1111.2,512.2 1112.2,512.8 1113.2,513.3 1114.2,513.9 1115.2,514.5 1116.2,515.1 1117.2,515.6 1118.2,516.2 1119.2,516.8 1120.2,517.3 1121.2,517.9 1122.2,518.5 1123.2,519.0 1124.2,519.6 1125.2,520.1 1126.2,520.7 1127.2,521.2 1128.2,521.8 1129.2,522.3 1130.2,522.9 1131.2,523.4 1132.2,523.9 1133.2,524.4 1134.2,524.9 1135.2,525.5 1136.2,526.0 1137.2,526.4 1138.2,526.9 1139.2,527.4 1140.2,527.9 1141.2,528.3 1142.2,528.8 1143.2,529.2 1144.2,529.7 1145.2,530.1 1146.2,530.5 1147.2,530.9 1148.2,531.3 1149.2,531.7 1150.2,532.1 1151.2,532.4 1152.2,532.8 1153.2,533.1 1154.2,533.4 1155.2,533.7 1156.0,534.0" stroke="#000000" stroke-width="1.75" stroke-dasharray="7 7"/>
</g>
<line x1="713.20" y1="47.30" x2="713.20" y2="330.60" stroke="#000" stroke-width="1.7"/>
<path d="M713.20,340.35 L713.20,623.85 L1154.90,623.85" fill="none" stroke="#000" stroke-width="1.7" stroke-linejoin="round"/>
<line x1="708.80" y1="317.90" x2="713.20" y2="317.90" stroke="#333333" stroke-width="1.5"/>
<text transform="translate(704.90,327.65) scale(1,1.0405)" font-size="26.8" text-anchor="end" fill="#4D4D4D" font-weight="normal">0.00</text>
<line x1="708.80" y1="246.17" x2="713.20" y2="246.17" stroke="#333333" stroke-width="1.5"/>
<text transform="translate(704.90,255.92) scale(1,1.0405)" font-size="26.8" text-anchor="end" fill="#4D4D4D" font-weight="normal">0.05</text>
<line x1="708.80" y1="174.44" x2="713.20" y2="174.44" stroke="#333333" stroke-width="1.5"/>
<g transform="translate(652.74,184.19) scale(1,1.0405)" fill="#4D4D4D"><text font-size="26.8" style="font-kerning:none">0. 0</text><path d="M763,0 L583,0 L583,1147 C540,1106 483,1064 413,1023 C342,982 279,951 223,930 L223,1104 C324,1151 412,1209 487,1276 C562,1343 616,1409 647,1472 L763,1472 Z" transform="translate(22.35,0) scale(0.01309,-0.01253)"/></g>
<line x1="708.80" y1="102.71" x2="713.20" y2="102.71" stroke="#333333" stroke-width="1.5"/>
<g transform="translate(652.74,112.46) scale(1,1.0405)" fill="#4D4D4D"><text font-size="26.8" style="font-kerning:none">0. 5</text><path d="M763,0 L583,0 L583,1147 C540,1106 483,1064 413,1023 C342,982 279,951 223,930 L223,1104 C324,1151 412,1209 487,1276 C562,1343 616,1409 647,1472 L763,1472 Z" transform="translate(22.35,0) scale(0.01309,-0.01253)"/></g>
<line x1="708.80" y1="611.00" x2="713.20" y2="611.00" stroke="#333333" stroke-width="1.5"/>
<text transform="translate(704.90,620.75) scale(1,1.0405)" font-size="26.8" text-anchor="end" fill="#4D4D4D" font-weight="normal">0.00</text>
<line x1="708.80" y1="521.00" x2="713.20" y2="521.00" stroke="#333333" stroke-width="1.5"/>
<text transform="translate(704.90,530.75) scale(1,1.0405)" font-size="26.8" text-anchor="end" fill="#4D4D4D" font-weight="normal">0.02</text>
<line x1="708.80" y1="431.00" x2="713.20" y2="431.00" stroke="#333333" stroke-width="1.5"/>
<text transform="translate(704.90,440.75) scale(1,1.0405)" font-size="26.8" text-anchor="end" fill="#4D4D4D" font-weight="normal">0.04</text>
<line x1="708.80" y1="341.00" x2="713.20" y2="341.00" stroke="#333333" stroke-width="1.5"/>
<text transform="translate(704.90,350.75) scale(1,1.0405)" font-size="26.8" text-anchor="end" fill="#4D4D4D" font-weight="normal">0.06</text>
<line x1="733.25" y1="623.85" x2="733.25" y2="628.25" stroke="#333333" stroke-width="1.5"/>
<g transform="translate(710.52,651.15) scale(1,1.0405)" fill="#4D4D4D"><text font-size="26.8" style="font-kerning:none">− 0</text><path d="M763,0 L583,0 L583,1147 C540,1106 483,1064 413,1023 C342,982 279,951 223,930 L223,1104 C324,1151 412,1209 487,1276 C562,1343 616,1409 647,1472 L763,1472 Z" transform="translate(15.65,0) scale(0.01309,-0.01253)"/></g>
<line x1="813.58" y1="623.85" x2="813.58" y2="628.25" stroke="#333333" stroke-width="1.5"/>
<text transform="translate(813.58,651.15) scale(1,1.0405)" font-size="26.8" text-anchor="middle" fill="#4D4D4D" font-weight="normal">−5</text>
<line x1="893.90" y1="623.85" x2="893.90" y2="628.25" stroke="#333333" stroke-width="1.5"/>
<text transform="translate(893.90,651.15) scale(1,1.0405)" font-size="26.8" text-anchor="middle" fill="#4D4D4D" font-weight="normal">0</text>
<line x1="974.23" y1="623.85" x2="974.23" y2="628.25" stroke="#333333" stroke-width="1.5"/>
<text transform="translate(974.23,651.15) scale(1,1.0405)" font-size="26.8" text-anchor="middle" fill="#4D4D4D" font-weight="normal">5</text>
<line x1="1054.55" y1="623.85" x2="1054.55" y2="628.25" stroke="#333333" stroke-width="1.5"/>
<g transform="translate(1039.65,651.15) scale(1,1.0405)" fill="#4D4D4D"><text font-size="26.8" style="font-kerning:none"> 0</text><path d="M763,0 L583,0 L583,1147 C540,1106 483,1064 413,1023 C342,982 279,951 223,930 L223,1104 C324,1151 412,1209 487,1276 C562,1343 616,1409 647,1472 L763,1472 Z" transform="translate(0.00,0) scale(0.01309,-0.01253)"/></g>
<line x1="1134.88" y1="623.85" x2="1134.88" y2="628.25" stroke="#333333" stroke-width="1.5"/>
<g transform="translate(1119.97,651.15) scale(1,1.0405)" fill="#4D4D4D"><text font-size="26.8" style="font-kerning:none"> 5</text><path d="M763,0 L583,0 L583,1147 C540,1106 483,1064 413,1023 C342,982 279,951 223,930 L223,1104 C324,1151 412,1209 487,1276 C562,1343 616,1409 647,1472 L763,1472 Z" transform="translate(0.00,0) scale(0.01309,-0.01253)"/></g>
<rect x="1155.90" y="48.00" width="37.55" height="282.10" fill="#fff" stroke="#000" stroke-width="1.75"/>
<text transform="translate(1165.18,189.05) rotate(90)" font-size="26.5" text-anchor="middle" fill="#1A1A1A">SCM absence</text>
<rect x="1155.90" y="341.05" width="37.55" height="281.85" fill="#fff" stroke="#000" stroke-width="1.75"/>
<text transform="translate(1165.18,481.98) rotate(90)" font-size="26.5" text-anchor="middle" fill="#1A1A1A">SCM presence</text>
<text transform="translate(934.55,685.60) scale(1,1.0000)" font-size="33.4" text-anchor="middle" fill="#000" font-weight="normal">Surface Bias (%)</text>
<text transform="translate(641.50,335.45) rotate(-90)" font-size="33.4" text-anchor="middle" fill="#000">density</text>
<text transform="translate(615.30,23.80) scale(1,1.0405)" font-size="28.8" text-anchor="start" fill="#000" font-weight="bold">B</text>
<text transform="translate(1221.80,209.70) scale(1,1.0000)" font-size="33" text-anchor="start" fill="#000" font-weight="normal">rPAR (%)</text>
<rect x="1223.05" y="231.05" width="26.10" height="26.30" fill="none" stroke="#8C510A" stroke-width="1.9"/>
<g transform="translate(1267.00,253.30) scale(1,1.0405)" fill="#000"><text font-size="23" style="font-kerning:none"> </text><path d="M763,0 L583,0 L583,1147 C540,1106 483,1064 413,1023 C342,982 279,951 223,930 L223,1104 C324,1151 412,1209 487,1276 C562,1343 616,1409 647,1472 L763,1472 Z" transform="translate(0.00,0) scale(0.01123,-0.01075)"/></g>
<rect x="1223.05" y="259.74" width="26.10" height="26.30" fill="none" stroke="#DFC27D" stroke-width="1.9"/>
<g transform="translate(1267.00,281.99) scale(1,1.0405)" fill="#000"><text font-size="23" style="font-kerning:none"> 0</text><path d="M763,0 L583,0 L583,1147 C540,1106 483,1064 413,1023 C342,982 279,951 223,930 L223,1104 C324,1151 412,1209 487,1276 C562,1343 616,1409 647,1472 L763,1472 Z" transform="translate(0.00,0) scale(0.01123,-0.01075)"/></g>
<rect x="1223.05" y="288.43" width="26.10" height="26.30" fill="none" stroke="#F6E8C3" stroke-width="1.9"/>
<g transform="translate(1267.00,310.68) scale(1,1.0405)" fill="#000"><text font-size="23" style="font-kerning:none"> 5</text><path d="M763,0 L583,0 L583,1147 C540,1106 483,1064 413,1023 C342,982 279,951 223,930 L223,1104 C324,1151 412,1209 487,1276 C562,1343 616,1409 647,1472 L763,1472 Z" transform="translate(0.00,0) scale(0.01123,-0.01075)"/></g>
<rect x="1223.05" y="317.12" width="26.10" height="26.30" fill="none" stroke="#80CDC1" stroke-width="1.9"/>
<text transform="translate(1267.00,339.37) scale(1,1.0405)" font-size="23" text-anchor="start" fill="#000" font-weight="normal">20</text>
<rect x="1223.05" y="345.81" width="26.10" height="26.30" fill="none" stroke="#35978F" stroke-width="1.9"/>
<text transform="translate(1267.00,368.06) scale(1,1.0405)" font-size="23" text-anchor="start" fill="#000" font-weight="normal">25</text>
<rect x="1223.05" y="374.50" width="26.10" height="26.30" fill="none" stroke="#BF812D" stroke-width="1.9"/>
<text transform="translate(1267.00,396.75) scale(1,1.0405)" font-size="23" text-anchor="start" fill="#000" font-weight="normal">5</text>
<rect x="1223.05" y="403.19" width="26.10" height="26.30" fill="none" stroke="#01665E" stroke-width="1.9"/>
<text transform="translate(1267.00,425.44) scale(1,1.0405)" font-size="23" text-anchor="start" fill="#000" font-weight="normal">50</text>
<rect x="1223.05" y="431.88" width="26.10" height="26.30" fill="none" stroke="#000" stroke-width="1.9"/>
<g transform="translate(1267.00,454.13) scale(1,1.0405)" fill="#000"><text font-size="23" style="font-kerning:none">P 8</text><path d="M763,0 L583,0 L583,1147 C540,1106 483,1064 413,1023 C342,982 279,951 223,930 L223,1104 C324,1151 412,1209 487,1276 C562,1343 616,1409 647,1472 L763,1472 Z" transform="translate(15.34,0) scale(0.01123,-0.01075)"/></g>
<rect x="1223.05" y="460.57" width="26.10" height="26.30" fill="none" stroke="#000" stroke-width="1.9"/>
<g transform="translate(1267.00,482.82) scale(1,1.0405)" fill="#000"><text font-size="23" style="font-kerning:none">X 2</text><path d="M763,0 L583,0 L583,1147 C540,1106 483,1064 413,1023 C342,982 279,951 223,930 L223,1104 C324,1151 412,1209 487,1276 C562,1343 616,1409 647,1472 L763,1472 Z" transform="translate(15.34,0) scale(0.01123,-0.01075)"/></g>
</svg>
</body></html>
